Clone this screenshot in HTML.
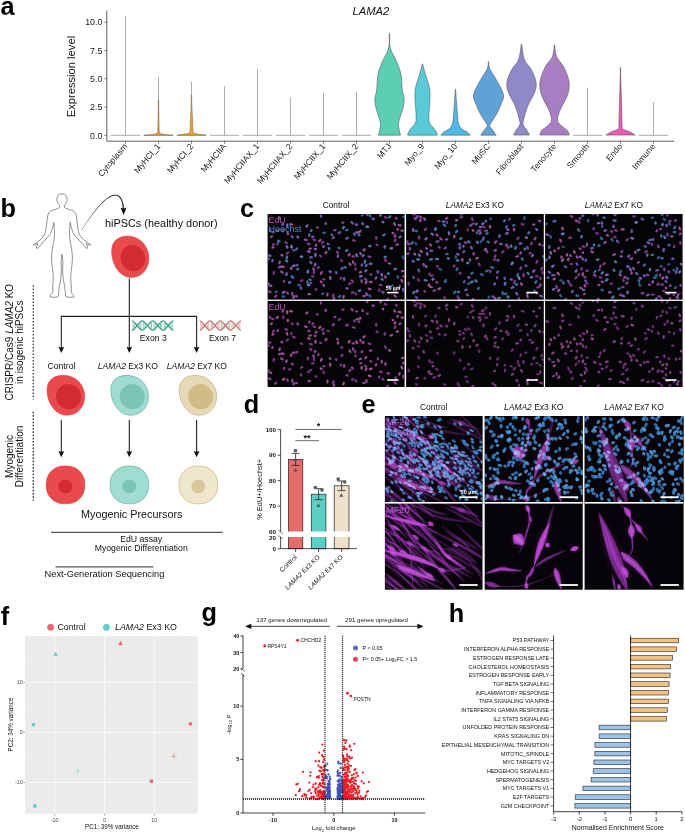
<!DOCTYPE html><html><head><meta charset="utf-8"><title>Figure</title>
<style>html,body{margin:0;padding:0;background:#fff;overflow:hidden}svg{display:block}text{font-family:"Liberation Sans", Arial, sans-serif}</style></head><body>
<svg width="685" height="833" viewBox="0 0 685 833">
<defs>
<filter id="b03" x="-5%" y="-5%" width="110%" height="110%"><feGaussianBlur stdDeviation="0.5"/></filter>
<filter id="b06" x="-5%" y="-5%" width="110%" height="110%"><feGaussianBlur stdDeviation="0.6"/></filter>
<filter id="b09" x="-5%" y="-5%" width="110%" height="110%"><feGaussianBlur stdDeviation="0.85"/></filter>
<filter id="b05" x="-5%" y="-5%" width="110%" height="110%"><feGaussianBlur stdDeviation="0.45"/></filter>
<filter id="b1" x="-5%" y="-5%" width="110%" height="110%"><feGaussianBlur stdDeviation="1"/></filter>
<filter id="b2" x="-5%" y="-5%" width="110%" height="110%"><feGaussianBlur stdDeviation="2.2"/></filter>
</defs>
<rect width="685" height="833" fill="#fff"/>
<text x="0.6" y="14.8" font-size="25.3" font-weight="bold" fill="#000">a</text>
<text x="0.6" y="216.6" font-size="25.3" font-weight="bold" fill="#000">b</text>
<text x="239.9" y="216.6" font-size="25.3" font-weight="bold" fill="#000">c</text>
<text x="243.8" y="413.1" font-size="25.3" font-weight="bold" fill="#000">d</text>
<text x="361.4" y="413.1" font-size="25.3" font-weight="bold" fill="#000">e</text>
<text x="0.7" y="624.8" font-size="25.3" font-weight="bold" fill="#000">f</text>
<text x="201.6" y="621.0" font-size="25.3" font-weight="bold" fill="#000">g</text>
<text x="448.7" y="622" font-size="25.3" font-weight="bold" fill="#000">h</text>
<g id="pa">
<path d="M106.8 10.5V141.2H674" fill="none" stroke="#333" stroke-width="0.8"/>
<path d="M104.3 135.4H106.8" stroke="#333" stroke-width="0.6"/>
<text x="102.3" y="138.5" font-size="8.8" text-anchor="end" fill="#222">0.0</text>
<path d="M104.3 107.1H106.8" stroke="#333" stroke-width="0.6"/>
<text x="102.3" y="110.2" font-size="8.8" text-anchor="end" fill="#222">2.5</text>
<path d="M104.3 78.8H106.8" stroke="#333" stroke-width="0.6"/>
<text x="102.3" y="81.9" font-size="8.8" text-anchor="end" fill="#222">5.0</text>
<path d="M104.3 50.5H106.8" stroke="#333" stroke-width="0.6"/>
<text x="102.3" y="53.6" font-size="8.8" text-anchor="end" fill="#222">7.5</text>
<path d="M104.3 22.2H106.8" stroke="#333" stroke-width="0.6"/>
<text x="102.3" y="25.3" font-size="8.8" text-anchor="end" fill="#222">10.0</text>
<text x="75.5" y="76.6" font-size="11.2" text-anchor="middle" fill="#111" transform="rotate(-90 75.5 76.6)">Expression level</text>
<text x="370.8" y="15.4" font-size="11.2" text-anchor="middle" font-style="italic" fill="#111">LAMA2</text>
<path d="M125.5 141.2V143.8" stroke="#333" stroke-width="0.6"/>
<text x="127.7" y="146.6" font-size="8.5" text-anchor="end" fill="#222" transform="rotate(-50 127.7 146.6)">Cytoplasm</text>
<path d="M158.5 141.2V143.8" stroke="#333" stroke-width="0.6"/>
<text x="160.7" y="146.6" font-size="8.5" text-anchor="end" fill="#222" transform="rotate(-50 160.7 146.6)">MyHCI_1</text>
<path d="M191.5 141.2V143.8" stroke="#333" stroke-width="0.6"/>
<text x="193.7" y="146.6" font-size="8.5" text-anchor="end" fill="#222" transform="rotate(-50 193.7 146.6)">MyHCI_2</text>
<path d="M224.5 141.2V143.8" stroke="#333" stroke-width="0.6"/>
<text x="226.7" y="146.6" font-size="8.5" text-anchor="end" fill="#222" transform="rotate(-50 226.7 146.6)">MyHCIIA</text>
<path d="M257.5 141.2V143.8" stroke="#333" stroke-width="0.6"/>
<text x="259.7" y="146.6" font-size="8.5" text-anchor="end" fill="#222" transform="rotate(-50 259.7 146.6)">MyHCIIAX_1</text>
<path d="M290.5 141.2V143.8" stroke="#333" stroke-width="0.6"/>
<text x="292.7" y="146.6" font-size="8.5" text-anchor="end" fill="#222" transform="rotate(-50 292.7 146.6)">MyHCIIAX_2</text>
<path d="M323.5 141.2V143.8" stroke="#333" stroke-width="0.6"/>
<text x="325.7" y="146.6" font-size="8.5" text-anchor="end" fill="#222" transform="rotate(-50 325.7 146.6)">MyHCIIX_1</text>
<path d="M356.5 141.2V143.8" stroke="#333" stroke-width="0.6"/>
<text x="358.7" y="146.6" font-size="8.5" text-anchor="end" fill="#222" transform="rotate(-50 358.7 146.6)">MyHCIIX_2</text>
<path d="M389.5 141.2V143.8" stroke="#333" stroke-width="0.6"/>
<text x="391.7" y="146.6" font-size="8.5" text-anchor="end" fill="#222" transform="rotate(-50 391.7 146.6)">MTJ</text>
<path d="M422.5 141.2V143.8" stroke="#333" stroke-width="0.6"/>
<text x="424.7" y="146.6" font-size="8.5" text-anchor="end" fill="#222" transform="rotate(-50 424.7 146.6)">Myo_9</text>
<path d="M455.5 141.2V143.8" stroke="#333" stroke-width="0.6"/>
<text x="457.7" y="146.6" font-size="8.5" text-anchor="end" fill="#222" transform="rotate(-50 457.7 146.6)">Myo_10</text>
<path d="M488.5 141.2V143.8" stroke="#333" stroke-width="0.6"/>
<text x="490.7" y="146.6" font-size="8.5" text-anchor="end" fill="#222" transform="rotate(-50 490.7 146.6)">MuSC</text>
<path d="M521.5 141.2V143.8" stroke="#333" stroke-width="0.6"/>
<text x="523.7" y="146.6" font-size="8.5" text-anchor="end" fill="#222" transform="rotate(-50 523.7 146.6)">Fibroblast</text>
<path d="M554.5 141.2V143.8" stroke="#333" stroke-width="0.6"/>
<text x="556.7" y="146.6" font-size="8.5" text-anchor="end" fill="#222" transform="rotate(-50 556.7 146.6)">Tenocyte</text>
<path d="M587.5 141.2V143.8" stroke="#333" stroke-width="0.6"/>
<text x="589.7" y="146.6" font-size="8.5" text-anchor="end" fill="#222" transform="rotate(-50 589.7 146.6)">Smooth</text>
<path d="M620.5 141.2V143.8" stroke="#333" stroke-width="0.6"/>
<text x="622.7" y="146.6" font-size="8.5" text-anchor="end" fill="#222" transform="rotate(-50 622.7 146.6)">Endo</text>
<path d="M653.5 141.2V143.8" stroke="#333" stroke-width="0.6"/>
<text x="655.7" y="146.6" font-size="8.5" text-anchor="end" fill="#222" transform="rotate(-50 655.7 146.6)">Immune</text>
<path d="M125.5 16.3V135.2M110.8 135.3H140.2" stroke="#8a8a8a" stroke-width="0.7" fill="none"/>
<path d="M224.5 86.2V135.2M209.8 135.3H239.2" stroke="#8a8a8a" stroke-width="0.7" fill="none"/>
<path d="M257.5 69V135.2M242.8 135.3H272.2" stroke="#8a8a8a" stroke-width="0.7" fill="none"/>
<path d="M290.5 97.2V135.2M275.8 135.3H305.2" stroke="#8a8a8a" stroke-width="0.7" fill="none"/>
<path d="M323.5 92.7V135.2M308.8 135.3H338.2" stroke="#8a8a8a" stroke-width="0.7" fill="none"/>
<path d="M356.5 91.9V135.2M341.8 135.3H371.2" stroke="#8a8a8a" stroke-width="0.7" fill="none"/>
<path d="M587.5 87.8V135.2M572.8 135.3H602.2" stroke="#8a8a8a" stroke-width="0.7" fill="none"/>
<path d="M653.5 102V135.2M638.8 135.3H668.2" stroke="#8a8a8a" stroke-width="0.7" fill="none"/>
<path d="M158.5 77.2V135.2M143.8 135.3H173.2" stroke="#8a8a8a" stroke-width="0.7" fill="none"/>
<path d="M191.5 81.7V135.2M176.8 135.3H206.2" stroke="#8a8a8a" stroke-width="0.7" fill="none"/>
<path d="M158.3 100.0C158.3 102.5 158.2 110.3 158.1 115.0C158.0 119.7 157.9 125.1 157.8 128.0C157.6 130.9 158.1 131.5 157.4 132.6C156.7 133.7 155.8 133.9 153.5 134.3C151.2 134.8 145.4 135.1 143.8 135.3L173.2 135.3C171.6 135.1 165.8 134.8 163.5 134.3C161.2 133.9 160.3 133.7 159.6 132.6C158.9 131.5 159.4 130.9 159.2 128.0C159.1 125.1 159.0 119.7 158.9 115.0C158.8 110.3 158.7 102.5 158.7 100.0Z" fill="#E8962A" stroke="#7a6a50" stroke-width="0.5" stroke-linejoin="round"/>
<path d="M191.3 95.0C191.3 97.5 191.1 105.5 190.9 110.0C190.7 114.5 190.5 118.7 190.3 122.0C190.2 125.3 190.2 128.2 190.0 130.0C189.8 131.8 190.0 132.3 188.9 133.0C187.8 133.7 185.5 133.8 183.5 134.2C181.5 134.6 177.9 135.1 176.8 135.3L206.2 135.3C205.1 135.1 201.5 134.6 199.5 134.2C197.5 133.8 195.2 133.7 194.1 133.0C193.0 132.3 193.2 131.8 193.0 130.0C192.8 128.2 192.8 125.3 192.7 122.0C192.5 118.7 192.3 114.5 192.1 110.0C191.9 105.5 191.7 97.5 191.7 95.0Z" fill="#E8A21E" stroke="#7a6a50" stroke-width="0.5" stroke-linejoin="round"/>
<path d="M389.3 33.5C389.2 35.9 389.7 43.6 388.7 48.0C387.7 52.4 385.0 55.4 383.2 59.7C381.4 64.0 379.2 68.7 378.1 73.7C377.0 78.8 377.2 85.7 376.7 90.0C376.1 94.3 374.9 96.3 374.8 99.4C374.7 102.5 375.3 104.9 376.2 108.8C377.1 112.7 379.8 119.3 380.4 122.8C381.0 126.3 380.0 127.7 379.7 129.8C379.4 131.9 378.7 134.3 378.5 135.2L400.5 135.2C400.3 134.3 399.6 131.9 399.3 129.8C399.0 127.7 398.0 126.3 398.6 122.8C399.2 119.3 401.9 112.7 402.8 108.8C403.7 104.9 404.3 102.5 404.2 99.4C404.1 96.3 402.9 94.3 402.3 90.0C401.8 85.7 402.0 78.8 400.9 73.7C399.8 68.7 397.6 64.0 395.8 59.7C394.0 55.4 391.3 52.4 390.3 48.0C389.3 43.6 389.8 35.9 389.7 33.5Z" fill="#5CCFB3" stroke="#444" stroke-width="0.5" stroke-linejoin="round"/>
<path d="M422.3 63.9C421.9 65.5 420.8 69.7 419.7 73.7C418.6 77.7 416.3 83.5 415.5 87.8C414.7 92.1 414.9 95.1 415.0 99.4C415.1 103.7 415.9 109.6 416.0 113.5C416.1 117.4 416.4 120.3 415.5 122.8C414.6 125.3 412.1 126.8 410.8 128.6C409.6 130.3 408.5 132.2 408.0 133.3C407.5 134.4 407.8 134.9 407.8 135.2L437.2 135.2C437.2 134.9 437.5 134.4 437.0 133.3C436.5 132.2 435.4 130.3 434.2 128.6C432.9 126.8 430.4 125.3 429.5 122.8C428.6 120.3 428.9 117.4 429.0 113.5C429.1 109.6 429.9 103.7 430.0 99.4C430.1 95.1 430.3 92.1 429.5 87.8C428.7 83.5 426.4 77.7 425.3 73.7C424.2 69.7 423.1 65.5 422.7 63.9Z" fill="#58CAD8" stroke="#444" stroke-width="0.5" stroke-linejoin="round"/>
<path d="M455.3 89.2C455.2 91.3 454.8 97.8 454.5 101.8C454.2 105.8 453.9 110.0 453.6 113.5C453.3 117.0 453.4 120.3 452.7 122.8C452.0 125.3 451.2 127.0 449.7 128.6C448.2 130.2 445.3 131.0 443.8 132.1C442.3 133.2 441.3 134.7 440.8 135.2L470.2 135.2C469.7 134.7 468.7 133.2 467.2 132.1C465.7 131.0 462.8 130.2 461.3 128.6C459.8 127.0 459.0 125.3 458.3 122.8C457.6 120.3 457.7 117.0 457.4 113.5C457.1 110.0 456.8 105.8 456.5 101.8C456.2 97.8 455.8 91.3 455.7 89.2Z" fill="#4FB9EA" stroke="#444" stroke-width="0.5" stroke-linejoin="round"/>
<path d="M488.3 61.6C488.1 62.8 488.5 65.8 487.1 69.0C485.7 72.2 482.4 76.4 480.1 80.7C477.8 85.0 474.2 90.9 473.5 94.8C472.8 98.7 474.8 100.9 475.9 104.0C477.0 107.1 478.4 110.4 480.1 113.5C481.8 116.6 484.7 120.7 485.9 122.8C487.1 124.9 487.5 124.9 487.1 126.3C486.7 127.7 484.7 129.5 483.6 131.0C482.6 132.5 481.3 134.5 480.8 135.2L496.2 135.2C495.7 134.5 494.4 132.5 493.4 131.0C492.3 129.5 490.3 127.7 489.9 126.3C489.5 124.9 489.9 124.9 491.1 122.8C492.3 120.7 495.2 116.6 496.9 113.5C498.6 110.4 500.0 107.1 501.1 104.0C502.2 100.9 504.2 98.7 503.5 94.8C502.8 90.9 499.2 85.0 496.9 80.7C494.6 76.4 491.3 72.2 489.9 69.0C488.5 65.8 488.9 62.8 488.7 61.6Z" fill="#5FA3D6" stroke="#444" stroke-width="0.5" stroke-linejoin="round"/>
<path d="M521.3 44.2C520.8 46.7 520.2 55.1 518.6 59.4C517.0 63.7 513.5 66.0 511.5 69.9C509.5 73.8 507.2 79.0 506.8 83.0C506.4 87.0 507.4 89.6 508.9 93.6C510.3 97.5 513.8 102.3 515.5 106.7C517.2 111.1 518.7 116.8 519.4 119.8C520.1 122.8 520.3 123.2 519.7 125.0C519.1 126.8 517.0 128.6 516.0 130.3C515.0 132.0 514.0 134.3 513.6 135.1L529.4 135.1C529.0 134.3 528.0 132.0 527.0 130.3C526.0 128.6 523.9 126.8 523.3 125.0C522.7 123.2 522.9 122.8 523.6 119.8C524.3 116.8 525.8 111.1 527.5 106.7C529.2 102.3 532.6 97.5 534.1 93.6C535.6 89.6 536.6 87.0 536.2 83.0C535.8 79.0 533.5 73.8 531.5 69.9C529.5 66.0 526.0 63.7 524.4 59.4C522.8 55.1 522.2 46.7 521.7 44.2Z" fill="#8F89C9" stroke="#444" stroke-width="0.5" stroke-linejoin="round"/>
<path d="M554.3 45.0C554.0 47.0 553.9 53.1 552.4 56.8C550.9 60.5 547.1 62.9 545.0 67.3C542.9 71.7 540.3 78.2 539.8 83.0C539.3 87.8 540.4 91.8 541.9 96.2C543.4 100.6 546.9 105.4 548.5 109.3C550.1 113.2 551.6 117.2 551.6 119.8C551.6 122.4 550.1 123.2 548.5 125.0C546.9 126.8 543.4 128.6 541.9 130.3C540.4 132.0 540.1 134.3 539.8 135.1L569.2 135.1C568.9 134.3 568.6 132.0 567.1 130.3C565.6 128.6 562.1 126.8 560.5 125.0C558.9 123.2 557.4 122.4 557.4 119.8C557.4 117.2 558.9 113.2 560.5 109.3C562.1 105.4 565.6 100.6 567.1 96.2C568.6 91.8 569.7 87.8 569.2 83.0C568.7 78.2 566.1 71.7 564.0 67.3C561.9 62.9 558.1 60.5 556.6 56.8C555.1 53.1 555.0 47.0 554.7 45.0Z" fill="#A97DC1" stroke="#444" stroke-width="0.5" stroke-linejoin="round"/>
<path d="M620.4 67.3C620.3 70.4 620.2 79.1 620.0 85.7C619.8 92.3 619.5 100.2 619.3 106.7C619.1 113.2 619.1 121.3 618.9 125.0C618.7 128.7 619.2 127.9 618.0 129.0C616.8 130.1 613.5 130.7 611.5 131.7C609.5 132.7 606.8 134.5 605.8 135.1L635.2 135.1C634.2 134.5 631.5 132.7 629.5 131.7C627.5 130.7 624.2 130.1 623.0 129.0C621.8 127.9 622.3 128.7 622.1 125.0C621.9 121.3 621.9 113.2 621.7 106.7C621.5 100.2 621.2 92.3 621.0 85.7C620.8 79.1 620.7 70.4 620.6 67.3Z" fill="#E95DB5" stroke="#444" stroke-width="0.5" stroke-linejoin="round"/>
</g>
<g id="pb">
<path d="M62 192.8c-2.9 0-4.6 2.3-4.6 5.3 0 2.6 1 4.6 2.3 5.6v2.6c-1.2 1.4-4.2 2-6.6 2.8-2.6 1-3.6 3.2-4 6.4l-1.600 13.500c-0.600 4-2.400 7.200-6 10.400-1.600 1.300-3.600 2.400-5.200 3.800 1.600 0.300 3-0.400 4.200-1.200-0.600 1.500-1.400 3-1.300 4.600 1.500 0.400 2.300-1.200 3-2.300 2.600-3.800 6.600-7.400 9.400-12 1.600-3 2.300-7.600 3.100-11.200 0.400 5.600 1 10.300 0.400 15.400-0.900 7.300-2.600 13.600-2.400 21.200 0.200 6.500 1.600 12.600 1.500 18.800-0.100 4.400-0.800 8.300-0.400 12.600 0.200 2.100-2.600 3.600-2.600 5.600 2.600 0.600 6.600 0.500 7.600-0.600 0.500-2.600 0.100-5.600 0.600-8.400 0.900-5.800 2.100-10.600 2-16.600-0.100-5.300-0.500-11.400 0.600-16.600 1.100 5.200 0.700 11.300 0.600 16.600-0.100 6 1.100 10.800 2 16.600 0.500 2.800 0.100 5.800 0.600 8.400 1 1.100 5 1.200 7.600 0.600 0-2-2.800-3.500-2.600-5.600 0.400-4.300-0.300-8.200-0.400-12.600-0.100-6.200 1.300-12.300 1.500-18.800 0.200-7.600-1.500-13.900-2.400-21.200-0.600-5.100 0-9.800 0.400-15.400 0.800 3.600 1.500 8.200 3.100 11.200 2.800 4.600 6.800 8.200 9.400 12 0.700 1.100 1.500 2.700 3 2.300 0.100-1.600-0.700-3.100-1.300-4.600 1.200 0.800 2.600 1.500 4.200 1.200-1.600-1.400-3.600-2.500-5.200-3.800-3.600-3.200-5.400-6.400-6-10.400l-1.600-13.500c-0.400-3.200-1.400-5.400-4-6.400-2.400-0.800-5.400-1.400-6.600-2.800v-2.600c1.300-1 2.300-3 2.300-5.600 0-3-1.700-5.300-4.600-5.300z" fill="#fff" stroke="#444" stroke-width="0.55" stroke-linejoin="round" transform="translate(62 193.200) scale(1.120 1.012) translate(-62 -192.200)"/>
<path d="M81.8 230.0L84.4 226.0L87.1 222.1L89.8 218.2L92.5 214.5L95.3 210.9L98.1 207.6L100.8 204.6L103.5 201.9L106.2 199.6L108.7 197.8L111.2 196.4L113.6 195.7L115.9 195.5L117.8 196.1L119.3 197.2L120.5 198.9L121.5 201.0L122.2 203.6L122.6 206.5L122.8 209.5L124.0 209.5L123.7 206.3L123.2 203.4L122.4 200.7L121.3 198.4L119.9 196.6L118.1 195.3L116.0 194.7L113.4 194.9L110.9 195.8L108.4 197.3L105.8 199.2L103.1 201.5L100.5 204.3L97.7 207.3L95.0 210.7L92.3 214.3L89.6 218.1L86.9 222.0L84.2 226.0L81.6 230.0Z" fill="#111" stroke="#111" stroke-width="0.1"/>
<path d="M120.500 207.800L123.700 215L126.500 207.600Q123.500 209.200 120.500 207.800Z" fill="#111"/>
<text x="105" y="227.3" font-size="10.9" fill="#111">hiPSCs (healthy donor)</text>
<path d="M111.9 248.0C113.5 237.8 123.8 234.4 133.2 236.9C143.5 239.5 149.8 249.7 148.7 260.8C147.5 271.8 138.8 278.6 129.3 277.3C118.2 276.1 110.3 261.6 111.9 248.0Z" fill="#E84A4E" stroke="#E03A3E" stroke-width="0.6"/>
<ellipse cx="132.9" cy="258.2" rx="12.2" ry="13.2" fill="#D22C30" transform="rotate(-20 132.9 258.2)"/>
<path d="M129.300 278.500V348M61.300 348V316.400H196.600V348" fill="none" stroke="#222" stroke-width="1.100"/>
<path d="M58.4 346.8L61.3 353L64.2 346.8Q61.3 348.0 58.4 346.8Z" fill="#111"/>
<path d="M126.4 346.8L129.3 353L132.20000000000002 346.8Q129.3 348.0 126.4 346.8Z" fill="#111"/>
<path d="M193.7 346.8L196.6 353L199.5 346.8Q196.6 348.0 193.7 346.8Z" fill="#111"/>
<path d="M132.0 320.8C135.1 320.8 139.2 330.2 142.3 330.2M142.3 330.2C145.5 330.2 149.6 320.8 152.7 320.8M152.7 320.8C155.8 320.8 159.9 330.2 163.0 330.2M163.1 330.2C166.2 330.2 170.3 320.8 173.4 320.8" fill="none" stroke="#3A9C86" stroke-width="1.25"/>
<path d="M132.0 330.2C135.1 330.2 139.2 320.8 142.3 320.8M142.3 320.8C145.5 320.8 149.6 330.2 152.7 330.2M152.7 330.2C155.8 330.2 159.9 320.8 163.0 320.8M163.1 320.8C166.2 320.8 170.3 330.2 173.4 330.2" fill="none" stroke="#3A9C86" stroke-width="1.25"/>
<path d="M133.2 321.3V329.7M134.6 322.3V328.7M139.8 322.3V328.7M141.1 321.3V329.7M143.6 321.3V329.7M144.9 322.3V328.7M150.1 322.3V328.7M151.5 321.3V329.7M153.9 321.3V329.7M155.3 322.3V328.7M160.5 322.3V328.7M161.8 321.3V329.7M164.3 321.3V329.7M165.6 322.3V328.7M170.8 322.3V328.7M172.2 321.3V329.7" fill="none" stroke="#5DB8A2" stroke-width="0.7"/>
<path d="M199.6 320.8C202.7 320.8 206.8 330.2 209.9 330.2M209.9 330.2C213.1 330.2 217.2 320.8 220.3 320.8M220.3 320.8C223.4 320.8 227.5 330.2 230.6 330.2M230.6 330.2C233.8 330.2 237.9 320.8 241.0 320.8" fill="none" stroke="#B87870" stroke-width="1.25"/>
<path d="M199.6 330.2C202.7 330.2 206.8 320.8 209.9 320.8M209.9 320.8C213.1 320.8 217.2 330.2 220.3 330.2M220.3 330.2C223.4 330.2 227.5 320.8 230.6 320.8M230.6 320.8C233.8 320.8 237.9 330.2 241.0 330.2" fill="none" stroke="#B87870" stroke-width="1.25"/>
<path d="M200.8 321.3V329.7M202.2 322.3V328.7M207.4 322.3V328.7M208.7 321.3V329.7M211.2 321.3V329.7M212.5 322.3V328.7M217.7 322.3V328.7M219.1 321.3V329.7M221.5 321.3V329.7M222.9 322.3V328.7M228.1 322.3V328.7M229.4 321.3V329.7M231.9 321.3V329.7M233.2 322.3V328.7M238.4 322.3V328.7M239.8 321.3V329.7" fill="none" stroke="#CF9A92" stroke-width="0.7"/>
<text x="153.3" y="341.4" font-size="8.7" text-anchor="middle" fill="#111">Exon 3</text>
<text x="222.6" y="341.4" font-size="8.7" text-anchor="middle" fill="#111">Exon 7</text>
<text x="47.4" y="368.6" font-size="8.7" fill="#111">Control</text>
<text x="97.8" y="368.6" font-size="8.6" fill="#111"><tspan font-style="italic">LAMA2</tspan> Ex3 KO</text>
<text x="166.8" y="368.6" font-size="8.6" fill="#111"><tspan font-style="italic">LAMA2</tspan> Ex7 KO</text>
<path d="M47.3 386.8C48.9 377.0 59.3 373.7 68.9 376.1C79.3 378.6 85.7 388.4 84.5 399.1C83.3 409.8 74.5 416.3 64.9 415.1C53.7 413.9 45.7 399.9 47.3 386.8Z" fill="#E84A4E" stroke="#E03A3E" stroke-width="0.6"/>
<ellipse cx="68.5" cy="396.6" rx="12.4" ry="12.7" fill="#D22C30" transform="rotate(-20 68.5 396.6)"/>
<path d="M111.1 386.8C112.7 377.0 123.1 373.7 132.7 376.1C143.1 378.6 149.5 388.4 148.3 399.1C147.1 409.8 138.3 416.3 128.7 415.1C117.5 413.9 109.5 399.9 111.1 386.8Z" fill="#A0DDD0" stroke="#4FA897" stroke-width="0.6"/>
<ellipse cx="132.3" cy="396.6" rx="12.4" ry="12.7" fill="#79C4B4" transform="rotate(-20 132.3 396.6)"/>
<path d="M179.4 386.8C181.0 377.0 191.4 373.7 201.0 376.1C211.4 378.6 217.8 388.4 216.6 399.1C215.4 409.8 206.6 416.3 197.0 415.1C185.8 413.9 177.8 399.9 179.4 386.8Z" fill="#E6D9B8" stroke="#BFA877" stroke-width="0.6"/>
<ellipse cx="200.6" cy="396.6" rx="12.4" ry="12.7" fill="#D2BC86" transform="rotate(-20 200.6 396.6)"/>
<path d="M61.300 420V452M129.300 420V452M196.600 420V452" fill="none" stroke="#222" stroke-width="1.100"/>
<path d="M58.4 451.1L61.3 457.3L64.2 451.1Q61.3 452.3 58.4 451.1Z" fill="#111"/>
<path d="M126.4 451.1L129.3 457.3L132.20000000000002 451.1Q129.3 452.3 126.4 451.1Z" fill="#111"/>
<path d="M193.7 451.1L196.6 457.3L199.5 451.1Q196.6 452.3 193.7 451.1Z" fill="#111"/>
<rect x="46.2" y="466.0" width="38.5" height="37.8" rx="17.7" ry="17.4" fill="#E84A4E" stroke="#E03A3E" stroke-width="0.6"/>
<circle cx="65.4" cy="486.4" r="6.9" fill="#D22C30"/>
<rect x="110.1" y="466.0" width="38.5" height="37.8" rx="17.7" ry="17.4" fill="#A0DDD0" stroke="#4FA897" stroke-width="0.6"/>
<circle cx="129.3" cy="486.4" r="6.9" fill="#79C4B4"/>
<rect x="179.1" y="466.0" width="38.5" height="37.8" rx="17.7" ry="17.4" fill="#EFE6CE" stroke="#C9A86A" stroke-width="0.6"/>
<circle cx="198.3" cy="486.4" r="6.9" fill="#D9C798"/>
<path d="M33.300 285.200V399.500M33.300 411.800V500.800" fill="none" stroke="#444" stroke-width="1.400" stroke-dasharray="1.600 1.650"/>
<text transform="translate(12.500 342.200) rotate(-90)" font-size="10" text-anchor="middle" fill="#111">CRISPR/Cas9 <tspan font-style="italic">LAMA2</tspan> KO</text>
<text transform="translate(22.600 342.200) rotate(-90)" font-size="10" text-anchor="middle" fill="#111">in isogenic hiPSCs</text>
<text transform="translate(12.600 456.500) rotate(-90)" font-size="10" text-anchor="middle" fill="#111">Myogenic</text>
<text transform="translate(22.800 456.500) rotate(-90)" font-size="10" text-anchor="middle" fill="#111">Differentiation</text>
<text x="131.7" y="517.5" font-size="10.8" text-anchor="middle" fill="#111">Myogenic Precursors</text>
<path d="M51 532.300H222.600M55.500 566.900H153.300" fill="none" stroke="#111" stroke-width="0.9"/>
<text x="141.2" y="541.8" font-size="8.7" text-anchor="middle" fill="#111">EdU assay</text>
<text x="141.2" y="550.9" font-size="8.7" text-anchor="middle" fill="#111">Myogenic Differentiation</text>
<text x="44.5" y="577.2" font-size="9.3" fill="#111">Next-Generation Sequencing</text>
</g>
<g id="pc">
<text x="336.1" y="207.5" font-size="8.3" text-anchor="middle" fill="#111">Control</text>
<clipPath id="cc0"><rect x="267.6" y="214" width="137.0" height="173"/></clipPath>
<rect x="267.6" y="214" width="137.0" height="173" fill="#050507"/>
<g clip-path="url(#cc0)" filter="url(#b06)">
<g id="cm0">
<path d="M281.0 271.6l1.7 0.9M382.6 221.8l0.7 0.6M310.0 294.2l-1.5 0.0M392.5 233.1l0.9 0.3M362.5 223.2l0.5 1.1M269.1 291.4l1.4 0.8M271.9 236.5l-1.0 0.5M269.9 285.7l1.4 0.2M333.8 237.3l-1.1 1.0M376.3 277.4l-0.7 1.1M314.7 248.8l1.1 0.3M286.8 273.5l-0.6 1.4M334.2 297.8l-0.5 1.1M352.9 261.4l0.1 1.2M344.1 278.2l0.1 1.6M313.4 268.4l0.2 1.5M272.5 260.1l-0.2 1.0M381.5 274.1l0.5 1.4M329.7 271.5l0.9 0.3M293.7 295.9l-0.2 1.9M294.4 265.5l-1.3 0.5M399.8 286.0l-0.7 1.7M366.3 293.3l0.4 1.8M366.3 270.2l-1.0 1.0M297.5 236.6l0.6 0.9M309.2 234.6l0.2 0.9M387.5 286.3l1.6 0.3M279.9 261.5l-0.6 1.8M351.6 222.2l1.0 1.2M323.5 246.0l-0.0 1.0M364.6 296.1l-1.3 0.0M394.6 295.3l1.1 1.4M372.6 218.6l1.1 0.4M360.3 253.2l0.4 0.9M304.9 239.6l1.8 0.4M327.5 293.7l-0.2 1.8M400.6 236.7l-1.1 0.5M371.5 263.6l-1.6 0.2M280.6 266.8l-1.5 0.5M278.0 230.0l-1.3 1.2M337.2 251.9l0.7 0.8M385.3 276.2l0.3 1.7M325.7 222.9l-0.0 1.1M316.3 244.7l-0.4 1.2M315.5 264.0l-0.8 1.3M388.8 263.3l1.4 0.4" stroke="#C45AC8" stroke-width="2.2" stroke-linecap="round" fill="none" opacity="0.78"/>
<path d="M283.1 224.0l-0.8 0.9M355.8 224.6l1.3 0.0M370.4 274.3l0.9 0.4M293.2 250.1l1.4 0.4M327.6 243.9l0.9 0.2M284.0 280.9l0.1 1.1M353.1 240.4l1.6 0.4M350.4 283.1l-1.1 0.8M320.8 215.7l0.3 1.0M384.9 246.1l-0.4 1.6M346.6 288.2l0.9 0.4M342.3 222.7l1.2 0.0M313.3 276.4l-1.2 0.1M335.5 229.9l-1.1 0.6M310.3 283.1l1.1 0.0M292.2 292.8l-0.2 1.6M352.5 256.4l1.7 0.1M269.8 229.8l0.9 1.5M333.6 294.5l-0.6 1.8M336.0 272.2l0.5 0.8M296.0 296.2l1.0 0.1M396.0 217.8l0.6 1.0M395.9 290.5l-0.3 0.9M387.9 298.8l-0.9 1.4M313.3 236.6l-1.0 0.3M287.0 292.4l0.9 1.2M366.7 214.3l0.9 0.9M355.7 268.6l-0.3 0.9M353.5 292.4l-1.5 0.3M308.0 243.9l1.6 0.3M395.3 239.7l-0.5 1.3M362.2 264.4l-0.6 1.1M351.7 280.4l1.1 1.4M347.7 237.8l-1.5 0.8" stroke="#B04CBC" stroke-width="2.2" stroke-linecap="round" fill="none" opacity="0.78"/>
<path d="M343.8 296.1l-0.5 1.5M338.1 255.7l-0.3 1.0M326.4 252.0l-0.8 1.2M330.1 277.0l0.3 1.7M282.0 266.6l1.7 0.3M284.2 291.8l-1.4 1.1M315.5 253.9l0.0 1.9M395.2 235.4l-0.4 1.4M349.7 254.0l-1.0 1.5M320.4 239.9l-1.2 1.3M371.6 281.7l-1.7 0.5M360.4 230.7l-0.6 1.1M291.4 267.7l-0.4 1.1M404.5 276.3l-1.2 0.0M364.7 249.3l-1.1 1.1M266.9 282.9l1.6 0.9M368.8 288.7l1.7 0.5M392.0 248.1l-1.3 0.5M363.5 255.2l-0.8 0.8M273.3 247.1l-0.9 0.6M398.7 225.0l1.8 0.3M287.1 224.5l0.2 1.7M380.9 214.2l-0.5 1.3M308.0 251.3l1.6 0.6M394.2 223.4l0.8 1.2M307.3 225.5l-0.9 1.0M290.2 224.2l1.7 0.3M320.7 281.4l0.9 0.8M360.9 271.9l-1.1 0.5M403.4 271.0l-1.4 0.2M310.7 248.5l-1.1 0.3M361.6 280.3l0.0 1.5M281.5 254.9l0.7 0.6M321.7 272.1l-0.8 1.7M397.6 229.0l0.2 0.9M397.9 244.5l-1.3 0.2M349.5 263.7l0.9 1.2M401.6 230.6l1.2 0.1M286.8 246.2l0.6 1.5M356.3 254.4l0.8 1.7M357.9 232.1l-1.3 0.3M287.8 232.9l0.1 1.3M366.5 281.5l-0.7 1.7M401.4 279.9l0.9 1.6" stroke="#D468C0" stroke-width="2.2" stroke-linecap="round" fill="none" opacity="0.78"/>
<path d="M288.2 252.4l-1.2 1.1M323.5 284.8l0.4 1.3M382.3 291.8l1.0 0.9M314.1 271.4l-0.2 1.8M379.4 289.7l-0.5 1.0M340.1 232.1l-1.3 0.9M283.3 229.7l-0.1 1.6M290.1 282.2l-0.9 0.4M272.4 232.0l1.1 0.3M379.9 284.7l1.8 0.5M291.4 246.2l0.2 1.1M308.0 270.7l-0.3 1.7M291.8 236.4l0.9 0.8M316.9 227.3l1.0 0.4M300.9 256.6l1.1 0.3M376.2 237.0l0.1 1.8M341.2 277.8l-0.6 0.8M342.6 267.9l-1.2 1.1M355.6 293.6l0.7 0.8M354.2 233.5l0.6 1.1M366.6 226.7l1.3 0.1M368.5 256.6l1.9 0.3M313.5 239.4l1.5 0.9M315.5 289.4l0.9 0.2M268.9 255.4l1.5 0.5M384.8 217.1l1.4 0.5M307.9 284.8l1.3 0.3M323.3 279.2l1.1 0.3M365.1 278.7l1.1 1.0M291.9 276.4l1.0 1.2M318.7 267.0l-0.6 1.1M276.4 295.7l-1.3 1.1M273.9 272.1l-0.3 1.6M302.4 280.2l-1.3 0.7M361.5 276.1l-1.2 0.3M285.4 242.2l1.6 0.7M385.1 259.6l0.8 1.6M310.2 261.8l1.2 1.4M323.4 242.1l-1.4 0.7M403.0 288.9l0.4 1.8M320.1 255.7l0.9 0.6M274.0 243.9l-1.1 0.9M268.8 258.7l-0.8 0.6M355.0 263.7l0.1 1.5M277.9 242.9l-0.5 1.5M310.1 257.3l1.8 0.1M341.1 260.3l1.0 0.8M358.6 234.3l0.8 0.9M376.5 244.7l1.0 0.4M377.6 271.1l0.4 1.4M297.5 264.9l-1.3 0.7M300.8 287.4l0.4 1.2" stroke="#A446B4" stroke-width="2.2" stroke-linecap="round" fill="none" opacity="0.78"/>
</g>
<path d="M279.5 217.5l0.2 0.9M300.9 256.6l1.1 0.3M369.8 215.1l0.3 1.2M338.7 247.8l0.8 0.6M361.5 276.1l-1.2 0.3M307.3 281.5l0.4 1.1M344.6 267.1l0.9 0.4M403.5 216.7l1.3 0.5M384.8 234.4l-1.6 0.9M296.9 248.4l-0.6 0.9" stroke="#4A8FD0" stroke-width="2.3" stroke-linecap="round" fill="none" opacity="0.78"/>
<path d="M290.1 282.2l-0.9 0.4M308.0 270.7l-0.3 1.7M340.2 295.9l-1.2 1.1M331.6 234.3l0.6 0.8M291.9 276.4l1.0 1.2M277.9 240.7l1.6 0.6M347.5 229.9l-1.5 0.2" stroke="#3F86C8" stroke-width="2.3" stroke-linecap="round" fill="none" opacity="0.78"/>
<path d="M309.6 279.4l0.9 0.6M298.0 268.8l-0.6 0.7M390.3 216.3l-1.4 1.2M343.9 227.0l-0.9 1.3M291.4 246.2l0.2 1.1M388.9 273.5l-1.1 0.2M370.5 246.0l-1.3 0.1M381.6 278.9l1.0 0.9M366.6 226.7l1.3 0.1M287.1 256.7l-0.3 1.7M307.9 284.8l1.3 0.3M329.0 248.1l0.3 1.1M286.2 260.7l1.0 0.7M395.8 268.9l-1.0 0.3M347.4 250.2l-1.5 0.6M365.0 261.0l-0.1 1.7M366.6 264.9l-0.7 1.0M360.3 290.4l-1.4 0.6M384.6 256.9l1.1 0.2M311.6 230.2l-0.5 0.8" stroke="#5A9AD8" stroke-width="2.3" stroke-linecap="round" fill="none" opacity="0.78"/>
<path d="M397.4 276.2l0.7 1.7M402.7 256.5l0.6 1.8M282.5 296.5l1.7 0.2M268.9 255.4l1.5 0.5M276.8 291.6l-0.9 0.5M369.3 295.2l1.0 1.3M392.6 285.5l-1.4 0.5M325.0 232.6l-1.7 0.3M299.9 284.8l-1.5 0.2M323.2 293.7l-1.0 0.2M362.7 214.9l-0.9 0.7M358.6 234.3l0.8 0.9" stroke="#3570B0" stroke-width="2.3" stroke-linecap="round" fill="none" opacity="0.78"/>
<path d="M283.1 224.0l-0.8 0.9M323.5 284.8l0.4 1.3M355.8 224.6l1.3 0.0M382.3 291.8l1.0 0.9M338.1 255.7l-0.3 1.0M340.1 232.1l-1.3 0.9M272.4 232.0l1.1 0.3M382.6 221.8l0.7 0.6M330.1 277.0l0.3 1.7M284.2 291.8l-1.4 1.1M315.5 253.9l0.0 1.9M362.5 223.2l0.5 1.1M327.6 243.9l0.9 0.2M291.8 236.4l0.9 0.8M269.9 285.7l1.4 0.2M376.3 277.4l-0.7 1.1M320.8 215.7l0.3 1.0M384.9 246.1l-0.4 1.6M314.7 248.8l1.1 0.3M342.6 267.9l-1.2 1.1M286.8 273.5l-0.6 1.4M354.2 233.5l0.6 1.1M346.6 288.2l0.9 0.4M344.1 278.2l0.1 1.6M272.5 260.1l-0.2 1.0M381.5 274.1l0.5 1.4M266.9 282.9l1.6 0.9M392.0 248.1l-1.3 0.5M329.7 271.5l0.9 0.3M363.5 255.2l-0.8 0.8M293.7 295.9l-0.2 1.9M294.4 265.5l-1.3 0.5M366.3 293.3l0.4 1.8M366.3 270.2l-1.0 1.0M297.5 236.6l0.6 0.9M287.1 224.5l0.2 1.7M309.2 234.6l0.2 0.9M387.5 286.3l1.6 0.3M365.1 278.7l1.1 1.0M336.0 272.2l0.5 0.8M380.9 214.2l-0.5 1.3M308.0 251.3l1.6 0.6M394.2 223.4l0.8 1.2M351.6 222.2l1.0 1.2M307.3 225.5l-0.9 1.0M323.5 246.0l-0.0 1.0M313.3 236.6l-1.0 0.3M372.6 218.6l1.1 0.4M360.3 253.2l0.4 0.9M310.2 261.8l1.2 1.4M403.0 288.9l0.4 1.8M400.6 236.7l-1.1 0.5M371.5 263.6l-1.6 0.2M280.6 266.8l-1.5 0.5M268.8 258.7l-0.8 0.6M286.8 246.2l0.6 1.5M310.1 257.3l1.8 0.1M362.2 264.4l-0.6 1.1M356.3 254.4l0.8 1.7M357.9 232.1l-1.3 0.3M377.6 271.1l0.4 1.4M315.5 264.0l-0.8 1.3M347.7 237.8l-1.5 0.8M297.5 264.9l-1.3 0.7M300.8 287.4l0.4 1.2" stroke="#4A78D8" stroke-width="2.2" stroke-linecap="round" fill="none" opacity="0.45"/>
<use href="#cm0" y="86.900" opacity="1"/>
</g>
<rect x="266.6" y="299.600" width="139.0" height="1.300" fill="#fff"/>
<rect x="387.2" y="291.8" width="11.300" height="1.600" fill="#fff"/>
<rect x="387.2" y="379.2" width="11.300" height="1.600" fill="#fff"/>
<text x="474.9" y="207.5" font-size="8.3" text-anchor="middle" fill="#111"><tspan font-style="italic">LAMA2</tspan> Ex3 KO</text>
<clipPath id="cc1"><rect x="406.1" y="214" width="137.7" height="173"/></clipPath>
<rect x="406.1" y="214" width="137.7" height="173" fill="#050507"/>
<g clip-path="url(#cc1)" filter="url(#b06)">
<g id="cm1">
<path d="M469.8 259.4l0.4 0.8M539.0 220.7l1.1 0.6M500.4 243.9l1.2 0.2M535.6 237.9l-1.0 1.5M412.8 261.0l0.7 0.6M534.5 270.5l-1.4 1.2M508.6 246.6l-0.5 1.3M483.7 237.7l-0.4 1.7M423.5 264.1l0.5 1.7M479.7 227.0l1.1 0.1M483.6 223.2l-1.5 0.9M447.3 217.8l-1.4 1.1M513.9 228.9l0.1 1.5M495.0 298.0l0.6 1.0M473.3 298.9l-1.2 1.1M478.6 230.4l1.5 0.3M521.2 252.4l-0.8 1.1M513.2 287.0l-1.4 0.9M540.1 284.6l0.5 1.0M507.1 228.9l1.3 1.2M480.7 233.0l-0.9 0.6M414.6 217.9l1.1 1.3M431.6 233.7l1.3 0.9M498.5 260.2l-0.9 0.4M457.3 253.9l1.0 0.6M419.9 216.6l1.5 0.8M446.1 239.3l1.1 0.1M429.9 244.3l1.0 1.1M420.6 219.7l-0.6 1.4M495.9 250.2l-1.3 0.3M518.0 256.2l-1.7 0.5M440.2 238.3l1.3 1.2M496.2 241.4l-1.2 1.2M409.7 248.1l0.3 1.3M494.9 283.7l-0.6 0.7M516.4 292.9l0.9 1.4" stroke="#C45AC8" stroke-width="2.2" stroke-linecap="round" fill="none" opacity="0.78"/>
<path d="M487.0 230.6l-1.8 0.2M498.0 271.4l-0.7 1.1M495.6 259.5l-1.6 0.1M438.8 246.9l0.8 0.8M413.0 213.9l1.7 0.7M497.0 277.2l0.2 1.2M445.8 247.5l-1.0 1.0M523.6 274.2l-0.1 1.9M471.9 218.3l0.8 1.6M406.6 241.3l1.0 0.5M466.6 289.7l-1.1 0.4M435.1 290.2l-1.6 0.7M436.2 282.0l1.2 0.7M490.4 270.7l-0.4 1.2M438.3 221.0l1.1 0.2M521.0 267.5l-0.6 1.5M467.0 294.6l0.7 0.7M542.0 268.0l-0.7 1.4M429.6 273.5l-0.1 1.2M531.7 242.9l-0.6 1.3M430.6 250.8l1.4 0.1M509.8 219.0l-0.7 0.6M438.3 241.2l-1.5 0.6M514.8 281.0l-0.9 1.4M510.8 279.3l0.9 0.3M446.6 221.7l0.3 1.1M459.7 272.8l0.8 0.8M464.9 242.2l1.3 1.0M424.4 291.0l0.8 0.7M495.5 255.6l-0.8 1.2M408.1 244.0l1.3 0.3M528.3 292.6l-0.9 1.3" stroke="#B04CBC" stroke-width="2.2" stroke-linecap="round" fill="none" opacity="0.78"/>
<path d="M532.9 255.2l-1.0 0.8M414.2 253.6l1.2 1.0M506.7 244.4l-0.6 1.2M427.1 253.2l0.3 1.4M424.1 218.5l0.9 1.1M429.2 284.3l-0.6 1.1M472.8 230.2l0.6 0.7M413.1 229.3l0.1 1.5M417.7 290.7l-1.1 0.8M433.4 278.9l-0.8 0.6M540.4 295.6l1.5 0.8M462.3 259.1l0.2 1.6M420.7 250.7l1.1 1.3M539.3 244.0l0.8 0.8M473.8 253.3l-0.4 1.0M507.6 233.1l-1.2 0.6M489.9 226.2l0.2 1.3M536.3 292.7l1.0 0.7M454.5 235.9l-0.5 1.5M439.9 288.2l-1.5 0.9M521.1 283.3l0.8 1.3M457.2 220.2l-1.1 0.2M525.8 237.6l1.1 0.2M477.7 257.8l-1.2 0.9M448.9 232.3l0.1 1.8M436.7 234.4l0.6 1.2M527.2 295.5l0.5 1.7M468.4 277.1l0.7 0.6M533.2 224.6l1.0 0.0M485.6 248.8l-0.6 1.4M430.1 286.7l1.8 0.5M426.4 238.4l-0.9 0.9" stroke="#D468C0" stroke-width="2.2" stroke-linecap="round" fill="none" opacity="0.78"/>
<path d="M418.1 279.3l0.6 1.3M527.4 247.2l0.5 1.2M518.8 297.8l0.3 1.2M503.4 251.4l-1.3 0.9M426.1 228.8l-1.3 1.0M444.3 297.4l0.8 0.5M539.7 277.8l1.1 1.0M525.4 265.6l0.9 0.4M530.7 253.1l-1.1 0.2M418.4 269.8l0.7 1.6M464.5 281.2l-0.5 0.9M459.3 298.7l-0.0 1.7M408.5 253.5l-1.5 0.5M464.2 251.2l-0.6 0.8M485.7 220.6l0.5 0.9M536.3 276.1l1.0 0.2M454.5 265.4l-0.6 1.2M521.7 224.1l1.7 0.4M505.2 282.8l-0.4 1.6M536.1 229.0l1.0 0.9M518.0 274.3l-0.4 1.8M544.3 244.5l-1.3 1.1M473.8 223.5l-1.2 0.4M419.0 236.6l0.1 1.8M537.3 261.0l-0.9 1.7M457.7 296.3l0.3 1.2M419.1 254.7l0.6 0.9M492.5 296.2l1.0 1.1M519.1 277.6l0.2 1.3M437.1 265.7l0.5 1.0M472.5 281.6l-1.4 0.7M539.0 287.1l-1.6 0.2M460.1 244.1l-1.0 0.3M499.8 235.3l-0.6 1.4M478.8 263.5l0.8 1.5M460.0 247.1l-0.2 1.2M417.5 259.4l1.3 0.1M518.6 237.6l-1.2 1.4M462.1 216.9l-1.6 0.7M512.7 262.6l-1.0 1.5M532.0 277.0l-1.0 0.4M467.8 229.6l-0.2 0.9M468.3 241.5l0.9 0.8M521.4 243.4l-1.6 0.3M504.7 277.9l0.2 0.9M542.4 272.2l0.5 0.9M462.9 245.9l0.8 0.7M487.0 250.7l0.3 1.8M435.8 228.4l-0.6 1.5M417.5 215.9l-0.6 1.4M426.0 248.3l1.0 0.4M408.7 282.9l-0.2 1.7M471.1 246.8l0.8 1.6M432.7 275.5l-1.4 0.3M416.0 297.1l1.0 0.6M482.8 226.7l1.7 0.6M471.3 225.2l-1.2 0.5" stroke="#A446B4" stroke-width="2.2" stroke-linecap="round" fill="none" opacity="0.78"/>
</g>
<path d="M477.5 232.0l-0.5 0.9M536.3 281.3l-1.0 1.5M534.5 290.7l-0.3 1.3M445.6 280.2l-0.5 1.7M506.1 293.5l-1.0 0.4M521.9 258.5l0.7 1.2M515.7 246.9l-0.4 1.9M455.7 225.2l-0.1 0.9M529.2 232.3l-0.8 1.0M515.6 284.1l1.5 0.5M455.4 291.6l-1.1 1.2M417.5 259.4l1.3 0.1M476.7 223.7l-0.6 0.9M532.0 277.0l-1.0 0.4M426.2 266.0l0.2 1.1M435.8 228.4l-0.6 1.5M511.1 245.4l0.3 1.4M457.1 230.8l-1.0 1.4M487.5 241.7l1.4 0.6M504.9 220.3l-0.9 0.8" stroke="#4A8FD0" stroke-width="2.3" stroke-linecap="round" fill="none" opacity="0.78"/>
<path d="M507.0 226.1l-0.8 1.0M487.6 270.7l-1.3 0.4M491.4 267.0l1.7 0.8M469.0 283.4l-0.9 0.5M413.7 277.0l-0.2 0.9M415.6 231.0l1.4 0.1M481.2 274.2l1.3 0.8M505.2 282.8l-0.4 1.6M502.5 292.4l0.4 1.6M514.5 225.1l-1.4 0.4M419.1 254.7l0.6 0.9M472.7 272.9l-1.4 0.6M472.5 281.6l-1.4 0.7M478.7 287.8l-0.7 1.1M468.3 241.5l0.9 0.8M447.6 253.9l-1.3 0.3M457.5 268.5l-0.9 1.3M461.9 213.8l-1.3 0.4M487.6 233.1l-1.4 0.7" stroke="#3F86C8" stroke-width="2.3" stroke-linecap="round" fill="none" opacity="0.78"/>
<path d="M431.9 259.1l-1.7 0.7M412.8 242.4l-1.1 0.8M468.5 262.6l-1.4 0.6M436.1 258.9l1.8 0.2M525.2 248.5l-0.5 1.0M527.7 272.9l0.8 1.2M475.4 280.3l1.4 1.2M458.9 291.8l-0.9 0.5M414.3 291.9l-1.0 1.1M447.9 258.3l0.9 0.3M458.4 260.5l-1.4 0.0M519.1 277.6l0.2 1.3M507.5 296.3l1.1 1.0M543.1 256.2l0.9 1.5M512.7 262.6l-1.0 1.5M444.0 224.4l1.1 1.3M477.0 241.8l1.0 1.1M499.7 297.7l-1.5 0.8M461.2 238.2l-0.9 0.7M424.8 280.1l1.7 0.4M444.0 221.5l-1.1 0.1" stroke="#5A9AD8" stroke-width="2.3" stroke-linecap="round" fill="none" opacity="0.78"/>
<path d="M481.7 240.6l-0.9 1.4M418.4 269.8l0.7 1.6M524.5 217.2l-0.2 1.6M415.8 243.3l0.5 0.8M518.0 274.3l-0.4 1.8M460.1 244.1l-1.0 0.3M455.8 256.4l0.0 1.6M491.0 218.5l-0.9 0.6M489.1 296.7l-0.7 0.9M504.7 277.9l0.2 0.9M439.3 268.9l1.8 0.6" stroke="#3570B0" stroke-width="2.3" stroke-linecap="round" fill="none" opacity="0.78"/>
<path d="M532.9 255.2l-1.0 0.8M527.4 247.2l0.5 1.2M469.8 259.4l0.4 0.8M500.4 243.9l1.2 0.2M427.1 253.2l0.3 1.4M498.0 271.4l-0.7 1.1M412.8 261.0l0.7 0.6M534.5 270.5l-1.4 1.2M525.4 265.6l0.9 0.4M424.1 218.5l0.9 1.1M483.7 237.7l-0.4 1.7M413.1 229.3l0.1 1.5M464.5 281.2l-0.5 0.9M466.6 289.7l-1.1 0.4M417.7 290.7l-1.1 0.8M408.5 253.5l-1.5 0.5M464.2 251.2l-0.6 0.8M433.4 278.9l-0.8 0.6M479.7 227.0l1.1 0.1M485.7 220.6l0.5 0.9M540.4 295.6l1.5 0.8M483.6 223.2l-1.5 0.9M467.0 294.6l0.7 0.7M536.1 229.0l1.0 0.9M544.3 244.5l-1.3 1.1M507.6 233.1l-1.2 0.6M492.5 296.2l1.0 1.1M513.2 287.0l-1.4 0.9M540.1 284.6l0.5 1.0M430.6 250.8l1.4 0.1M499.8 235.3l-0.6 1.4M480.7 233.0l-0.9 0.6M438.3 241.2l-1.5 0.6M460.0 247.1l-0.2 1.2M431.6 233.7l1.3 0.9M525.8 237.6l1.1 0.2M510.8 279.3l0.9 0.3M448.9 232.3l0.1 1.8M457.3 253.9l1.0 0.6M521.4 243.4l-1.6 0.3M462.9 245.9l0.8 0.7M495.9 250.2l-1.3 0.3M468.4 277.1l0.7 0.6M417.5 215.9l-0.6 1.4M426.0 248.3l1.0 0.4M471.1 246.8l0.8 1.6M416.0 297.1l1.0 0.6M485.6 248.8l-0.6 1.4M471.3 225.2l-1.2 0.5M408.1 244.0l1.3 0.3M528.3 292.6l-0.9 1.3M494.9 283.7l-0.6 0.7M426.4 238.4l-0.9 0.9M516.4 292.9l0.9 1.4" stroke="#4A78D8" stroke-width="2.2" stroke-linecap="round" fill="none" opacity="0.45"/>
<use href="#cm1" y="86.900" opacity="0.8"/>
</g>
<rect x="405.1" y="299.600" width="139.7" height="1.300" fill="#fff"/>
<rect x="526.4" y="291.8" width="11.300" height="1.600" fill="#fff"/>
<rect x="526.4" y="379.2" width="11.300" height="1.600" fill="#fff"/>
<text x="613.9" y="207.5" font-size="8.3" text-anchor="middle" fill="#111"><tspan font-style="italic">LAMA2</tspan> Ex7 KO</text>
<clipPath id="cc2"><rect x="545.1" y="214" width="137.5" height="173"/></clipPath>
<rect x="545.1" y="214" width="137.5" height="173" fill="#050507"/>
<g clip-path="url(#cc2)" filter="url(#b06)">
<g id="cm2">
<path d="M627.9 291.7l-0.5 1.3M640.0 277.9l1.0 0.6M558.8 247.9l-0.5 0.8M643.2 293.2l-1.3 0.3M616.0 214.1l-1.4 1.1M647.7 242.4l1.3 0.6M599.2 223.0l-1.3 0.3M576.8 256.4l0.4 1.3M680.5 233.5l-0.8 0.6M630.1 268.8l0.7 1.5M625.7 276.8l-1.5 0.8M605.6 241.9l-1.4 1.2M598.3 285.0l1.0 0.1M678.5 294.2l-0.5 1.2M620.8 256.4l1.0 0.1M615.0 254.3l-1.7 0.8M582.4 258.3l0.6 1.2M570.3 255.2l0.4 0.8M663.8 249.1l-0.3 1.7M610.7 292.1l-1.5 0.2M665.9 287.4l0.1 1.0M546.5 234.3l1.5 0.6M597.5 214.1l0.1 1.2M548.7 271.8l1.2 0.9M583.0 252.3l-0.3 0.9M670.6 285.3l-0.6 0.7M601.8 222.6l0.2 0.9M556.3 286.1l0.4 1.7M580.4 287.7l1.5 0.7M619.6 274.7l1.2 0.7M676.7 297.1l1.1 0.7M554.2 289.1l-1.1 0.4M587.0 243.9l-0.2 1.8M622.3 295.4l1.7 0.8M613.5 225.8l0.1 1.0M580.8 256.6l-1.1 0.4M560.2 239.8l0.8 1.6M594.0 274.9l1.6 0.9M632.2 258.4l-1.7 0.5" stroke="#C45AC8" stroke-width="2.2" stroke-linecap="round" fill="none" opacity="0.78"/>
<path d="M604.6 263.2l-0.9 1.1M579.6 248.4l1.1 0.7M641.7 218.7l1.3 0.9M571.0 237.6l-1.6 0.2M615.0 230.3l1.6 0.4M680.6 284.9l-0.1 1.1M676.3 271.6l-0.2 1.2M633.1 268.0l0.8 1.1M601.6 281.7l1.3 0.3M664.2 268.4l0.1 1.7M634.6 216.3l-1.3 0.0M581.0 299.3l-1.0 0.4M657.1 230.2l-0.5 1.1M570.1 284.3l1.2 1.3M638.8 262.0l-1.0 0.8M650.0 284.6l-1.2 0.2M586.6 270.7l1.0 0.1M579.1 274.2l-0.6 0.7M648.6 294.8l-1.4 0.5M629.3 255.6l-1.2 1.0M627.6 282.5l-1.4 1.0M623.4 279.7l0.3 1.3M554.2 275.1l-1.9 0.2M592.3 214.0l1.3 0.2M680.1 242.2l0.4 1.2M661.2 284.5l1.7 0.2M584.5 277.1l1.1 0.2M646.9 274.9l1.6 0.1M592.7 248.1l-1.4 0.3M584.9 293.8l-0.8 0.5M668.5 271.3l0.7 0.9M570.9 216.0l1.3 0.9M667.5 233.7l-0.0 1.7M661.2 228.8l-1.0 0.3M658.4 296.2l1.6 0.4M665.6 281.2l0.8 0.7M673.3 258.7l-1.1 0.1" stroke="#B04CBC" stroke-width="2.2" stroke-linecap="round" fill="none" opacity="0.78"/>
<path d="M652.8 281.4l-0.2 1.1M607.1 235.1l0.8 0.4M549.5 256.6l-0.3 1.5M631.4 238.0l1.7 0.5M666.4 276.8l0.7 1.3M679.4 227.6l0.7 1.7M584.7 285.3l0.4 1.2M663.3 277.6l-0.9 0.7M607.7 274.7l-1.7 0.3M574.1 251.3l0.6 1.3M563.2 259.5l-1.3 1.3M553.5 265.6l-1.3 1.0M582.9 273.4l-0.2 1.9M605.9 230.3l-1.4 0.4M550.5 252.0l0.6 1.5M631.6 272.6l-0.1 1.1M621.7 229.3l1.9 0.1M567.1 254.4l-0.3 1.0M557.8 272.8l1.0 1.6M635.1 251.6l0.6 1.2M559.4 289.6l-1.2 1.5M561.4 256.6l0.2 1.1M554.8 278.6l-1.2 0.7M562.2 227.8l0.7 1.3M680.9 264.0l1.7 0.8M669.2 293.6l-1.8 0.4M636.4 273.2l0.8 0.8M671.4 236.3l0.9 0.1M576.0 220.4l0.5 0.8M576.6 270.3l-0.9 1.2M554.4 250.5l0.4 0.8M568.4 258.6l-0.3 1.6M591.4 251.7l1.6 0.5" stroke="#D468C0" stroke-width="2.2" stroke-linecap="round" fill="none" opacity="0.78"/>
<path d="M564.8 266.3l1.4 0.8M596.2 233.1l1.6 0.7M660.3 274.4l-0.1 1.4M578.6 221.2l0.8 1.4M622.3 250.9l-0.9 1.5M673.6 294.6l0.8 0.5M578.1 229.4l1.0 1.3M568.2 280.8l0.6 1.6M599.7 277.2l1.6 0.4M657.9 270.1l-1.6 0.4M666.3 224.9l0.7 1.2M610.8 231.3l1.5 0.5M644.9 264.6l-1.0 0.9M658.6 283.3l-1.1 1.6M600.6 265.6l-0.5 1.5M636.8 222.3l-1.1 0.3M674.4 246.2l-0.5 1.0M623.6 286.8l-1.7 0.6M653.8 294.5l-1.8 0.1M661.6 298.3l0.4 0.9M611.7 283.4l-1.0 0.3M653.1 239.0l0.0 0.9M571.9 264.0l-1.2 0.0M598.6 298.5l-0.9 1.0M631.8 230.4l-0.3 1.6M576.6 263.5l0.7 1.2M682.2 292.6l0.4 0.9M651.6 243.7l0.4 1.2M662.7 214.1l-0.8 0.7M670.2 298.2l-0.4 0.9M646.8 251.2l-1.4 1.2M658.0 245.5l0.6 1.6M586.2 259.7l-0.6 0.9M607.3 279.4l-1.3 1.2M582.7 246.2l1.7 0.9M615.7 237.1l-1.4 0.1M617.0 240.6l1.1 1.5M555.4 221.0l-1.8 0.3M627.2 266.4l1.3 0.3M583.1 215.6l-0.9 0.2M669.4 220.9l1.2 0.4M599.7 269.5l-0.8 0.8M664.4 236.8l0.6 1.1M644.6 246.3l1.2 0.3M667.5 214.2l-0.3 1.5M662.7 224.2l-0.3 0.8M613.8 220.3l1.7 0.3M676.2 220.0l-1.5 0.9M585.2 280.5l0.9 0.8M579.8 217.8l0.5 1.1M663.3 290.9l1.0 0.4M594.1 228.2l-0.8 0.8M581.8 268.2l-0.4 1.4M572.9 291.0l-1.0 1.1M668.7 244.9l0.9 0.4M643.9 275.3l0.8 1.0M680.0 271.5l-0.7 0.7M576.4 277.1l-0.9 1.2M620.8 294.5l-1.0 0.7M627.5 239.1l-0.9 1.1M586.1 283.3l1.2 0.5M563.4 233.7l-1.4 0.5" stroke="#A446B4" stroke-width="2.2" stroke-linecap="round" fill="none" opacity="0.78"/>
</g>
<path d="M576.4 295.7l1.6 0.1M628.3 278.4l-1.1 0.2M549.4 246.2l-0.4 1.7M547.5 277.7l1.0 0.0M603.5 217.5l1.1 0.4M675.2 226.7l-0.8 1.5M651.0 239.7l-1.5 0.5M662.7 224.2l-0.3 0.8M595.3 271.0l-0.8 1.3M661.3 235.5l-0.1 1.0M593.9 244.4l0.0 1.2M680.0 271.5l-0.7 0.7" stroke="#4A8FD0" stroke-width="2.3" stroke-linecap="round" fill="none" opacity="0.78"/>
<path d="M619.6 288.7l-1.4 0.0M601.7 289.7l1.0 0.6M677.0 267.8l0.1 1.7M566.4 299.5l-1.1 0.0M546.3 259.3l0.2 1.2M652.9 254.6l-1.4 0.5M673.7 232.0l1.6 0.2M620.8 271.0l-0.5 1.8M599.4 245.1l-0.8 0.9M607.3 279.4l-1.3 1.2M639.4 284.5l0.7 1.1M611.7 239.0l0.7 1.3M627.2 266.4l1.3 0.3M638.9 280.1l0.3 1.7M664.4 236.8l0.6 1.1M656.7 298.3l-1.1 1.5M655.9 277.4l-1.8 0.5M601.1 237.7l0.8 1.4M550.3 236.1l0.5 1.3M675.8 287.2l-0.6 0.9" stroke="#3F86C8" stroke-width="2.3" stroke-linecap="round" fill="none" opacity="0.78"/>
<path d="M563.2 282.4l0.4 0.9M598.4 259.5l-1.3 0.4M636.8 222.3l-1.1 0.3M602.8 272.3l-1.0 1.2M583.1 289.8l1.0 0.1M650.3 269.0l-0.5 1.4M647.5 254.6l-0.3 1.0M655.5 222.6l0.1 1.1M639.2 249.8l-1.4 0.6M613.6 269.7l0.7 1.0M615.1 261.5l1.0 0.7M613.4 296.5l-1.2 1.4M661.6 258.2l0.9 0.2M581.6 236.0l-0.3 1.4M563.4 233.7l-1.4 0.5" stroke="#5A9AD8" stroke-width="2.3" stroke-linecap="round" fill="none" opacity="0.78"/>
<path d="M602.1 225.7l0.1 1.1M560.4 280.4l1.2 0.0M578.1 229.4l1.0 1.3M663.5 218.7l1.5 1.0M644.9 264.6l-1.0 0.9M560.2 295.0l1.0 1.3M658.8 256.9l-0.7 1.5M653.0 217.6l-1.3 0.3M673.5 269.9l1.1 0.7M546.9 223.7l-1.6 0.5M662.7 214.1l-0.8 0.7M669.3 264.2l-0.9 0.3M555.4 221.0l-1.8 0.3M583.1 215.6l-0.9 0.2M563.7 246.8l-1.0 0.0M588.2 220.0l-0.1 1.3M660.6 266.1l1.0 0.2M613.8 220.3l1.7 0.3M657.2 274.8l-1.7 0.5M668.9 223.2l1.0 1.3M668.7 244.9l0.9 0.4" stroke="#3570B0" stroke-width="2.3" stroke-linecap="round" fill="none" opacity="0.78"/>
<path d="M564.8 266.3l1.4 0.8M627.9 291.7l-0.5 1.3M652.8 281.4l-0.2 1.1M568.2 280.8l0.6 1.6M549.5 256.6l-0.3 1.5M640.0 277.9l1.0 0.6M657.9 270.1l-1.6 0.4M666.3 224.9l0.7 1.2M641.7 218.7l1.3 0.9M631.4 238.0l1.7 0.5M666.4 276.8l0.7 1.3M647.7 242.4l1.3 0.6M676.3 271.6l-0.2 1.2M633.1 268.0l0.8 1.1M599.2 223.0l-1.3 0.3M601.6 281.7l1.3 0.3M653.1 239.0l0.0 0.9M663.3 277.6l-0.9 0.7M607.7 274.7l-1.7 0.3M631.8 230.4l-0.3 1.6M563.2 259.5l-1.3 1.3M576.6 263.5l0.7 1.2M630.1 268.8l0.7 1.5M553.5 265.6l-1.3 1.0M620.8 256.4l1.0 0.1M586.2 259.7l-0.6 0.9M617.0 240.6l1.1 1.5M605.9 230.3l-1.4 0.4M550.5 252.0l0.6 1.5M648.6 294.8l-1.4 0.5M629.3 255.6l-1.2 1.0M663.8 249.1l-0.3 1.7M546.5 234.3l1.5 0.6M644.6 246.3l1.2 0.3M548.7 271.8l1.2 0.9M554.2 275.1l-1.9 0.2M585.2 280.5l0.9 0.8M601.8 222.6l0.2 0.9M592.7 248.1l-1.4 0.3M680.9 264.0l1.7 0.8M636.4 273.2l0.8 0.8M576.6 270.3l-0.9 1.2M572.9 291.0l-1.0 1.1M676.7 297.1l1.1 0.7M554.2 289.1l-1.1 0.4M643.9 275.3l0.8 1.0M622.3 295.4l1.7 0.8M613.5 225.8l0.1 1.0M580.8 256.6l-1.1 0.4M665.6 281.2l0.8 0.7M673.3 258.7l-1.1 0.1" stroke="#4A78D8" stroke-width="2.2" stroke-linecap="round" fill="none" opacity="0.45"/>
<use href="#cm2" y="86.900" opacity="0.85"/>
</g>
<rect x="544.1" y="299.600" width="139.5" height="1.300" fill="#fff"/>
<rect x="665.2" y="291.8" width="11.300" height="1.600" fill="#fff"/>
<rect x="665.2" y="379.2" width="11.300" height="1.600" fill="#fff"/>
<text x="268.6" y="222.6" font-size="8.8" fill="#C050B8">EdU</text>
<text x="268.6" y="232" font-size="9" fill="#4A90D0">Hoechst</text>
<text x="268.6" y="309.5" font-size="8.8" fill="#C050B8">EdU</text>
<text x="393" y="289.6" font-size="5" text-anchor="middle" font-weight="bold" fill="#fff">50 µm</text>
</g>
<g id="pd">
<rect x="288.4" y="459.4" width="14.4" height="89.4" fill="#E86B6C" stroke="#222" stroke-width="0.7"/>
<rect x="311.3" y="494.2" width="14.6" height="54.6" fill="#5BD0C2" stroke="#222" stroke-width="0.7"/>
<rect x="334.2" y="485.8" width="14.8" height="63.0" fill="#EDE1CA" stroke="#222" stroke-width="0.7"/>
<rect x="284" y="531.500" width="70" height="5.500" fill="#fff"/>
<path d="M280.600 429.400V531.600M280.600 536.800V548.600H357" fill="none" stroke="#222" stroke-width="0.8"/>
<path d="M278.600 530.100L282.700 533.700M278.600 535.400L282.700 539" fill="none" stroke="#222" stroke-width="0.7"/>
<path d="M277.600 429.7H280.600" stroke="#222" stroke-width="0.8"/>
<text x="276" y="431.9" font-size="6.2" text-anchor="end" font-weight="bold" fill="#111">100</text>
<path d="M277.600 455.2H280.600" stroke="#222" stroke-width="0.8"/>
<text x="276" y="457.4" font-size="6.2" text-anchor="end" font-weight="bold" fill="#111">90</text>
<path d="M277.600 480.6H280.600" stroke="#222" stroke-width="0.8"/>
<text x="276" y="482.8" font-size="6.2" text-anchor="end" font-weight="bold" fill="#111">80</text>
<path d="M277.600 506.1H280.600" stroke="#222" stroke-width="0.8"/>
<text x="276" y="508.3" font-size="6.2" text-anchor="end" font-weight="bold" fill="#111">70</text>
<text x="276" y="533.7" font-size="6.2" text-anchor="end" font-weight="bold" fill="#111">60</text>
<text x="276" y="540.4" font-size="6.2" text-anchor="end" font-weight="bold" fill="#111">20</text>
<path d="M277.600 548.8H280.600" stroke="#222" stroke-width="0.8"/>
<text x="276" y="551.0" font-size="6.2" text-anchor="end" font-weight="bold" fill="#111">0</text>
<path d="M295.6 548.800V552" stroke="#222" stroke-width="0.8"/>
<path d="M318.6 548.800V552" stroke="#222" stroke-width="0.8"/>
<path d="M341.6 548.800V552" stroke="#222" stroke-width="0.8"/>
<path d="M295.6 453.4V465.4M291.6 453.4H299.6M291.6 465.4H299.6" fill="none" stroke="#222" stroke-width="0.8"/>
<path d="M318.6 488.7V499.7M314.6 488.7H322.6M314.6 499.7H322.6" fill="none" stroke="#222" stroke-width="0.8"/>
<path d="M341.6 481V490.6M337.6 481H345.6M337.6 490.6H345.6" fill="none" stroke="#222" stroke-width="0.8"/>
<rect x="293.8" y="449.1" width="3.2" height="3.2" fill="#5a5a5a"/>
<circle cx="295.4" cy="470.2" r="1.8" fill="#5a5a5a"/>
<path d="M293.4 461.1H297.4L295.4 457.5Z" fill="#5a5a5a"/>
<circle cx="315.3" cy="487.5" r="1.8" fill="#5a5a5a"/>
<rect x="320.4" y="488.4" width="3.2" height="3.2" fill="#5a5a5a"/>
<path d="M316.5 507.1H320.5L318.5 503.5Z" fill="#5a5a5a"/>
<rect x="336.6" y="477.5" width="3.2" height="3.2" fill="#5a5a5a"/>
<circle cx="344.7" cy="482" r="1.8" fill="#5a5a5a"/>
<path d="M339.3 496.8H343.3L341.3 493.2Z" fill="#5a5a5a"/>
<path d="M295.400 429.400H341.800M295.400 440.700H319" stroke="#444" stroke-width="0.8"/>
<text x="318.5" y="429.2" font-size="9" text-anchor="middle" font-weight="bold" fill="#111">*</text>
<text x="307" y="440.5" font-size="9" text-anchor="middle" font-weight="bold" fill="#111">**</text>
<text transform="translate(262 489.300) rotate(-90)" font-size="7.400" text-anchor="middle" fill="#111">% EdU+/Hoechst+</text>
<text x="297.3" y="557.5" font-size="6.6" text-anchor="end" fill="#111" transform="rotate(-45 297.3 557.5)">Control</text>
<text x="320.3" y="557.5" font-size="6.6" text-anchor="end" fill="#111" transform="rotate(-45 320.3 557.5)"><tspan font-style="italic">LAMA2</tspan> Ex3 KO</text>
<text x="343.3" y="557.5" font-size="6.6" text-anchor="end" fill="#111" transform="rotate(-45 343.3 557.5)"><tspan font-style="italic">LAMA2</tspan> Ex7 KO</text>
</g>
<g id="pe">
<text x="433.7" y="410.2" font-size="8.5" text-anchor="middle" fill="#111">Control</text>
<text x="533.7" y="410.2" font-size="8.5" text-anchor="middle" fill="#111"><tspan font-style="italic">LAMA2</tspan> Ex3 KO</text>
<text x="634.1" y="410.2" font-size="8.5" text-anchor="middle" fill="#111"><tspan font-style="italic">LAMA2</tspan> Ex7 KO</text>
<clipPath id="ec0"><rect x="384.9" y="416.100" width="97.6" height="173.600"/></clipPath>
<rect x="384.9" y="416.100" width="97.6" height="173.600" fill="#060408"/>
<g clip-path="url(#ec0)">
<g id="ef0">
<g filter="url(#b2)" opacity="0.15">
<path d="M383.9 516.4L385.3 516.9L387.3 517.7L389.6 518.6L392.2 519.6L394.9 520.6L397.5 521.6L400.0 522.4L402.3 523.2L404.3 523.9L406.2 524.5L408.1 525.1L410.0 525.6L411.7 526.1L413.5 526.6L415.2 526.9L416.8 527.2L418.4 527.3L420.1 527.3L421.7 527.3L423.2 527.1L424.6 527.0L425.8 526.8L426.9 526.7L427.7 526.6L427.9 525.6L427.2 525.2L426.3 524.6L425.2 524.0L424.0 523.3L422.7 522.6L421.3 521.9L419.8 521.2L418.4 520.6L416.8 520.1L415.2 519.6L413.5 519.2L411.7 518.8L409.8 518.4L407.9 518.0L405.8 517.6L403.7 517.3L401.3 517.0L398.7 516.6L395.8 516.3L393.0 516.1L390.2 515.8L387.7 515.7L385.7 515.5L384.1 515.4Z" fill="#A83CC4" opacity="0.95"/>
<path d="M383.6 504.5L384.4 505.4L385.4 506.5L386.6 507.9L387.9 509.4L389.3 510.9L390.7 512.5L392.0 514.0L393.3 515.3L394.4 516.6L395.5 517.8L396.5 518.9L397.6 520.0L398.6 521.1L399.6 522.3L400.6 523.5L401.6 524.9L402.7 526.4L403.8 528.1L404.9 530.0L406.0 531.9L407.2 533.8L408.4 535.7L409.5 537.5L410.6 539.2L411.7 540.8L412.9 542.5L414.1 544.1L415.2 545.7L416.3 547.2L417.2 548.5L418.0 549.6L418.6 550.4L419.5 549.9L419.0 549.0L418.3 547.8L417.5 546.4L416.7 544.8L415.7 543.1L414.8 541.3L413.8 539.5L412.9 537.8L411.9 536.1L410.9 534.2L409.9 532.2L408.9 530.3L407.8 528.3L406.6 526.4L405.5 524.6L404.4 522.9L403.2 521.4L402.1 520.1L400.9 518.9L399.8 517.8L398.7 516.7L397.6 515.7L396.4 514.6L395.2 513.5L393.8 512.2L392.3 510.9L390.8 509.5L389.2 508.1L387.7 506.7L386.3 505.6L385.2 504.6L384.4 503.8Z" fill="#A83CC4" opacity="0.70"/>
<path d="M397.5 502.3L398.2 503.4L399.2 504.8L400.4 506.4L401.7 508.3L403.1 510.2L404.6 512.2L406.2 514.2L407.7 516.1L409.3 518.0L411.1 519.9L412.9 521.8L414.8 523.7L416.7 525.6L418.6 527.5L420.4 529.3L422.1 531.0L423.7 532.7L425.4 534.4L427.0 536.1L428.5 537.7L430.0 539.3L431.5 540.9L432.9 542.3L434.2 543.7L435.4 545.0L436.6 546.2L437.8 547.4L438.9 548.6L439.8 549.6L440.7 550.6L441.4 551.3L442.0 552.0L442.8 551.3L442.3 550.6L441.7 549.8L440.9 548.7L440.1 547.6L439.2 546.3L438.2 544.9L437.1 543.5L436.0 542.1L434.8 540.6L433.6 539.0L432.3 537.3L430.9 535.6L429.5 533.8L427.9 532.1L426.4 530.3L424.7 528.5L423.0 526.7L421.2 524.8L419.3 523.0L417.3 521.1L415.4 519.3L413.5 517.5L411.6 515.8L409.9 514.1L408.2 512.4L406.5 510.6L404.8 508.8L403.2 507.1L401.7 505.4L400.3 503.9L399.1 502.6L398.3 501.7Z" fill="#A83CC4" opacity="0.65"/>
<path d="M384.0 552.1L384.6 552.3L385.3 552.4L386.1 552.5L387.0 552.7L388.0 553.0L389.3 553.3L390.7 553.8L392.3 554.4L394.3 555.3L396.7 556.2L399.4 557.3L402.2 558.4L405.2 559.5L408.1 560.5L410.8 561.5L413.4 562.3L415.8 563.0L418.2 563.7L420.5 564.3L422.8 565.0L425.1 565.6L427.2 566.1L429.2 566.7L431.1 567.1L432.8 567.6L434.5 568.2L436.1 568.7L437.7 569.3L439.0 569.8L440.3 570.3L441.3 570.7L442.1 571.0L442.7 570.2L442.0 569.6L441.2 568.8L440.2 567.9L439.1 566.9L437.8 565.8L436.4 564.7L434.9 563.5L433.3 562.4L431.5 561.3L429.6 560.2L427.6 559.1L425.5 558.0L423.2 556.9L420.9 555.9L418.4 555.0L415.9 554.2L413.2 553.4L410.3 552.6L407.2 552.0L404.1 551.4L401.0 551.0L398.1 550.6L395.5 550.4L393.2 550.3L391.3 550.2L389.6 550.3L388.2 550.4L387.0 550.6L386.1 550.7L385.3 550.9L384.6 551.0L384.0 551.1Z" fill="#A83CC4" opacity="0.95"/>
<path d="M396.2 565.2L396.4 565.8L396.8 566.6L397.2 567.5L397.8 568.6L398.4 569.7L399.2 570.7L400.1 571.8L401.1 572.7L402.2 573.4L403.3 574.0L404.4 574.4L405.5 574.8L406.7 575.1L408.1 575.5L409.6 576.0L411.5 576.5L413.9 577.2L416.8 577.9L420.2 578.7L423.7 579.4L427.1 580.0L430.3 580.6L433.0 581.0L434.9 581.3L435.3 580.4L433.7 579.3L431.5 577.7L428.8 575.9L425.9 574.0L422.8 572.1L419.9 570.3L417.2 568.8L414.9 567.6L413.0 566.8L411.4 566.1L410.0 565.5L408.7 565.1L407.7 564.7L406.7 564.4L405.8 564.3L404.8 564.2L403.8 564.1L402.7 564.1L401.5 564.1L400.4 564.2L399.2 564.2L398.2 564.3L397.3 564.3L396.7 564.3Z" fill="#A83CC4" opacity="0.95"/>
<path d="M433.2 538.8L433.6 539.7L434.2 541.0L434.8 542.5L435.6 544.1L436.4 545.8L437.2 547.4L438.0 549.0L438.8 550.3L439.4 551.2L439.8 552.1L440.2 552.9L440.7 553.8L441.4 554.8L442.3 555.9L443.5 557.0L445.0 558.2L447.1 559.6L449.6 561.2L452.5 562.7L455.6 564.3L458.6 565.7L461.4 567.0L463.8 568.1L465.5 568.8L466.0 568.0L464.6 566.8L462.6 565.1L460.3 563.2L457.7 561.1L455.0 558.9L452.5 556.9L450.2 555.2L448.5 553.8L447.3 552.7L446.5 551.9L446.0 551.3L445.5 550.7L445.1 550.0L444.6 549.2L443.9 548.2L443.1 547.2L442.0 546.0L440.9 544.8L439.6 543.5L438.3 542.2L437.0 541.0L435.8 539.8L434.8 538.9L434.0 538.2Z" fill="#A83CC4" opacity="0.75"/>
<path d="M449.5 506.9L450.3 507.4L451.4 508.0L452.6 508.7L453.9 509.5L455.4 510.3L457.0 511.2L458.7 511.9L460.5 512.6L462.5 513.3L464.9 514.0L467.5 514.7L470.2 515.4L472.8 516.0L475.2 516.4L477.2 516.8L478.7 517.1L479.1 516.1L477.8 515.3L476.0 514.3L473.9 513.0L471.6 511.7L469.1 510.4L466.6 509.2L464.3 508.2L462.3 507.5L460.4 506.9L458.5 506.5L456.7 506.2L455.0 506.1L453.4 506.0L452.0 505.9L450.8 505.9L449.8 505.9Z" fill="#A83CC4" opacity="0.45"/>
<path d="M408.3 538.5L408.4 540.2L408.6 542.3L408.8 544.9L409.0 547.7L409.2 550.8L409.4 554.0L409.7 557.3L409.9 560.5L410.2 564.0L410.5 567.9L410.9 572.2L411.3 576.4L411.7 580.5L412.1 584.2L412.4 587.3L412.7 589.6L413.7 589.6L413.6 587.2L413.5 584.1L413.4 580.4L413.2 576.3L413.0 572.0L412.7 567.8L412.4 563.8L412.1 560.3L411.8 557.1L411.4 553.8L411.0 550.6L410.6 547.5L410.2 544.7L409.8 542.2L409.5 540.1L409.3 538.4Z" fill="#A83CC4" opacity="0.60"/>
<path d="M417.3 566.6L418.0 567.6L419.0 569.0L420.3 570.6L421.7 572.3L423.3 574.0L424.8 575.5L426.3 576.8L427.6 577.8L428.7 578.5L429.8 579.1L430.9 579.6L431.9 580.0L432.7 580.4L433.5 580.7L434.2 581.0L434.8 581.2L435.4 580.5L435.2 579.9L434.8 579.3L434.4 578.5L434.0 577.7L433.4 576.8L432.7 575.8L431.9 574.7L431.0 573.7L429.7 572.6L428.1 571.4L426.3 570.2L424.4 569.0L422.4 568.0L420.6 567.1L419.0 566.4L417.9 565.8Z" fill="#A83CC4" opacity="0.70"/>
<path d="M383.8 531.7L384.9 532.3L386.4 533.0L388.1 533.9L390.1 534.9L392.1 535.9L394.1 536.9L396.0 537.8L397.7 538.7L399.3 539.6L401.0 540.6L402.8 541.7L404.5 542.8L406.2 543.9L407.7 544.8L409.0 545.6L410.0 546.2L410.6 545.4L409.8 544.6L408.8 543.5L407.6 542.2L406.2 540.7L404.6 539.3L403.0 537.8L401.3 536.5L399.5 535.4L397.6 534.5L395.5 533.6L393.3 532.9L391.1 532.3L388.9 531.7L387.0 531.3L385.4 531.0L384.2 530.7Z" fill="#A83CC4" opacity="0.55"/>
<path d="M420.3 511.2L421.9 512.0L424.0 512.9L426.4 514.1L429.2 515.4L432.2 516.7L435.4 518.0L438.6 519.1L441.9 520.0L445.5 520.8L449.5 521.4L453.8 521.9L458.1 522.3L462.3 522.5L466.0 522.7L469.2 522.8L471.5 522.9L471.7 521.9L469.4 521.4L466.3 520.7L462.6 520.0L458.6 519.1L454.4 518.3L450.2 517.5L446.3 516.8L442.8 516.1L439.7 515.4L436.4 514.6L433.2 513.7L430.1 512.9L427.2 512.1L424.6 511.3L422.4 510.7L420.7 510.3Z" fill="#A83CC4" opacity="0.35"/>
<path d="M442.3 549.2L443.4 549.9L444.7 550.6L446.3 551.5L448.0 552.5L449.7 553.6L451.5 554.7L453.2 555.7L454.8 556.8L456.8 558.0L459.3 559.4L462.4 560.7L465.7 561.7L469.1 562.5L472.3 563.1L475.1 563.5L477.2 563.7L477.7 562.9L476.5 561.2L474.9 558.9L472.9 556.3L470.6 553.6L467.9 551.1L465.0 549.0L462.0 547.5L459.2 546.5L456.4 545.9L453.7 545.8L451.2 546.0L448.9 546.4L446.8 546.9L445.1 547.4L443.6 547.9L442.5 548.2Z" fill="#A83CC4" opacity="0.28"/>
<path d="M383.7 572.5L384.2 573.1L384.9 573.9L385.8 574.9L386.7 576.1L387.8 577.2L389.0 578.5L390.2 579.7L391.5 580.9L393.0 582.2L394.8 583.6L396.8 584.9L398.9 586.3L400.9 587.5L402.8 588.5L404.4 589.4L405.6 590.0L406.2 589.2L405.3 588.2L404.1 586.9L402.6 585.3L400.9 583.6L399.1 581.9L397.3 580.4L395.5 579.0L394.0 577.8L392.6 576.8L391.1 575.9L389.7 575.0L388.4 574.1L387.1 573.4L386.0 572.7L385.1 572.1L384.3 571.7Z" fill="#A83CC4" opacity="0.55"/>
<path d="M439.4 569.6L440.1 569.9L441.0 570.3L442.1 570.8L443.3 571.3L444.8 571.8L446.3 572.2L448.0 572.4L449.8 572.6L451.8 572.4L454.0 572.1L456.3 571.6L458.7 570.9L460.9 570.1L462.9 569.3L464.6 568.7L465.8 568.2L465.7 567.2L464.3 567.2L462.5 567.3L460.4 567.4L458.0 567.6L455.6 567.8L453.3 568.1L451.3 568.4L449.6 568.7L448.1 568.8L446.7 568.9L445.2 568.9L443.8 568.9L442.5 568.8L441.4 568.7L440.4 568.7L439.6 568.7Z" fill="#A83CC4" opacity="0.45"/>
<path d="M418.8 503.9L419.7 504.6L420.9 505.6L422.3 506.7L423.9 508.0L425.7 509.3L427.6 510.5L429.5 511.6L431.5 512.5L433.6 513.2L435.9 513.9L438.3 514.4L440.7 514.8L443.0 515.1L445.1 515.3L446.8 515.5L448.1 515.6L448.4 514.7L447.1 514.2L445.5 513.5L443.5 512.8L441.4 512.0L439.1 511.2L436.9 510.5L434.7 509.7L432.9 509.0L431.1 508.3L429.2 507.5L427.2 506.6L425.3 505.7L423.4 504.9L421.8 504.1L420.4 503.5L419.3 503.0Z" fill="#A83CC4" opacity="0.40"/>
<path d="M386.6 521.4L387.5 522.2L388.6 523.2L390.0 524.4L391.5 525.8L393.1 527.2L394.7 528.5L396.2 529.8L397.6 530.9L398.9 532.0L400.2 533.1L401.6 534.3L402.9 535.4L404.2 536.5L405.3 537.4L406.3 538.2L407.0 538.8L407.7 538.1L407.1 537.4L406.4 536.4L405.5 535.2L404.5 533.9L403.4 532.5L402.2 531.1L400.9 529.8L399.6 528.6L398.2 527.4L396.5 526.2L394.7 525.0L392.9 523.8L391.2 522.8L389.6 521.9L388.2 521.1L387.2 520.6Z" fill="#A83CC4" opacity="0.50"/>
<path d="M383.8 540.4L384.8 540.9L386.1 541.6L387.6 542.3L389.3 543.2L391.1 544.1L392.9 545.0L394.7 546.0L396.3 547.1L397.9 548.3L399.8 549.7L401.7 551.3L403.7 552.9L405.6 554.4L407.3 555.8L408.8 557.0L409.9 557.8L410.6 557.1L409.7 556.1L408.5 554.6L407.0 553.0L405.4 551.1L403.6 549.2L401.7 547.4L399.8 545.8L398.0 544.5L396.1 543.5L394.1 542.6L392.1 541.8L390.1 541.1L388.3 540.6L386.6 540.2L385.2 539.8L384.2 539.5Z" fill="#A83CC4" opacity="0.45"/>
<path d="M445.1 531.6L446.0 532.5L447.2 533.6L448.7 535.0L450.4 536.5L452.2 538.0L454.2 539.6L456.4 541.1L458.5 542.5L461.0 543.9L463.8 545.2L466.9 546.5L470.0 547.7L473.1 548.7L476.0 549.5L478.4 550.1L480.1 550.6L480.6 549.7L479.1 548.6L477.1 547.1L474.7 545.4L472.1 543.5L469.2 541.7L466.4 540.1L463.7 538.6L461.3 537.4L459.1 536.3L456.8 535.3L454.5 534.3L452.3 533.4L450.2 532.6L448.4 531.8L446.8 531.2L445.6 530.8Z" fill="#A83CC4" opacity="0.28"/>
<path d="M427.5 553.5L428.8 554.4L430.3 555.6L432.1 556.9L434.2 558.4L436.5 560.1L439.0 561.8L441.6 563.5L444.3 565.2L447.3 567.0L450.8 568.9L454.7 570.9L458.7 572.8L462.6 574.6L466.1 576.1L469.1 577.4L471.3 578.3L471.8 577.5L469.9 576.1L467.2 574.2L464.0 572.0L460.4 569.7L456.7 567.3L452.9 565.1L449.4 563.1L446.4 561.5L443.6 560.0L440.8 558.6L438.1 557.3L435.6 556.1L433.3 555.0L431.2 554.1L429.4 553.3L428.0 552.7Z" fill="#A83CC4" opacity="0.40"/>
<path d="M384.0 511.3L384.5 511.5L385.2 511.8L386.0 512.1L387.0 512.5L388.2 512.8L389.6 513.1L391.2 513.2L393.1 513.1L395.3 512.7L397.9 512.0L400.9 511.2L403.9 510.2L406.8 509.2L409.5 508.3L411.7 507.5L413.3 506.9L413.1 505.9L411.4 506.1L409.0 506.4L406.2 506.8L403.2 507.2L400.1 507.7L397.1 508.2L394.5 508.7L392.5 509.0L390.9 509.3L389.5 509.5L388.3 509.7L387.2 509.9L386.3 510.0L385.4 510.1L384.7 510.2L384.0 510.3Z" fill="#A83CC4" opacity="0.50"/>
<path d="M427.6 522.9L427.7 524.5L427.8 526.0L428.2 527.1L428.8 527.7L429.7 527.8L430.8 527.4L432.0 526.7L433.4 525.8L433.9 524.9L433.8 523.3L433.6 521.8L433.2 520.7L432.6 520.1L431.8 520.0L430.7 520.3L429.4 521.1L428.0 522.0Z" fill="#A83CC4" opacity="0.85"/>
<path d="M388.1 550.6L388.3 552.8L388.7 554.7L389.3 556.2L390.2 557.1L391.5 557.5L393.1 557.2L394.9 556.6L396.9 555.7L397.4 554.9L397.2 552.7L396.8 550.8L396.2 549.3L395.3 548.3L394.1 548.0L392.5 548.2L390.6 548.9L388.6 549.7Z" fill="#A83CC4" opacity="0.80"/>
<path d="M452.4 544.1L452.7 545.3L453.1 546.3L453.6 547.2L454.2 547.7L455.0 547.9L456.0 547.8L457.1 547.5L458.2 547.0L458.7 546.1L458.4 544.9L458.0 543.8L457.5 542.9L456.9 542.4L456.0 542.2L455.1 542.3L454.0 542.7L452.8 543.2Z" fill="#A83CC4" opacity="0.70"/>
<path d="M424.7 574.0L425.3 575.6L426.0 577.1L426.8 578.2L427.8 578.9L429.0 579.1L430.3 578.9L431.9 578.4L433.4 577.6L433.8 576.7L433.2 575.1L432.5 573.6L431.7 572.5L430.7 571.8L429.5 571.6L428.2 571.8L426.7 572.4L425.1 573.1Z" fill="#A83CC4" opacity="0.75"/>
<path d="M456.8 509.0L457.5 510.8L458.2 512.3L459.0 513.4L460.0 514.1L461.2 514.2L462.6 513.7L464.0 513.0L465.6 512.0L465.9 511.0L465.3 509.3L464.6 507.8L463.7 506.6L462.7 506.0L461.5 505.9L460.2 506.3L458.7 507.1L457.2 508.1Z" fill="#A83CC4" opacity="0.55"/>
<path d="M465.4 557.8L466.1 559.0L467.2 560.6L468.4 562.5L469.8 564.5L471.3 566.6L472.8 568.6L474.2 570.4L475.3 572.0L476.4 573.5L477.4 575.2L478.5 576.9L479.5 578.6L480.5 580.3L481.4 581.7L482.2 583.0L482.8 583.9L483.7 583.6L483.5 582.5L483.3 581.0L483.0 579.3L482.6 577.4L482.1 575.3L481.5 573.2L480.6 571.2L479.5 569.2L478.2 567.3L476.5 565.4L474.6 563.6L472.6 561.9L470.7 560.4L468.8 559.0L467.3 558.0L466.1 557.1Z" fill="#A83CC4" opacity="0.30"/>
<path d="M412.8 524.2L413.9 525.6L415.3 527.4L417.0 529.6L418.9 532.0L421.0 534.5L423.0 536.9L425.0 539.1L426.9 540.9L428.6 542.5L430.4 544.0L432.2 545.5L433.9 546.8L435.6 548.0L437.0 549.0L438.2 549.9L439.2 550.6L439.8 549.8L439.0 549.0L437.9 547.9L436.6 546.7L435.2 545.3L433.6 543.9L432.0 542.3L430.3 540.7L428.7 539.0L427.0 537.2L425.0 535.1L422.8 532.8L420.6 530.5L418.5 528.4L416.5 526.4L414.8 524.8L413.6 523.6Z" fill="#A83CC4" opacity="0.45"/>
<path d="M383.7 563.7L384.6 564.3L385.7 565.1L387.0 565.9L388.5 566.9L390.1 567.9L391.7 569.1L393.3 570.3L394.9 571.6L396.6 573.0L398.4 574.7L400.3 576.4L402.3 578.3L404.3 580.1L406.2 581.7L408.0 583.3L409.6 584.5L411.0 585.6L412.2 586.5L413.4 587.4L414.4 588.1L415.3 588.7L416.1 589.2L416.7 589.6L417.3 590.0L417.9 589.2L417.4 588.8L416.8 588.2L416.1 587.6L415.3 586.9L414.4 586.1L413.3 585.2L412.2 584.1L411.0 583.0L409.5 581.6L407.9 579.9L406.1 578.2L404.2 576.3L402.2 574.4L400.2 572.7L398.2 571.0L396.4 569.6L394.7 568.4L392.9 567.3L391.1 566.3L389.4 565.4L387.8 564.6L386.3 563.9L385.2 563.3L384.3 562.9Z" fill="#A83CC4" opacity="0.40"/>
<path d="M437.8 568.9L438.0 569.3L438.2 569.9L438.4 570.5L438.7 571.2L439.0 571.9L439.4 572.5L439.7 573.0L440.1 573.3L440.6 573.6L441.2 573.7L441.9 573.8L442.8 573.6L443.7 573.3L444.5 573.0L445.3 572.7L445.8 572.5L446.3 571.6L446.1 571.0L445.9 570.3L445.7 569.4L445.4 568.5L445.0 567.7L444.4 567.1L443.9 566.7L443.2 566.4L442.6 566.4L441.9 566.4L441.1 566.6L440.4 566.8L439.7 567.1L439.1 567.5L438.6 567.7L438.2 568.0Z" fill="#A83CC4" opacity="0.80"/>
<path d="M444.3 554.2L444.4 554.7L444.5 555.3L444.6 556.0L444.8 556.7L445.0 557.5L445.3 558.2L445.7 558.8L446.1 559.3L446.6 559.8L447.3 560.2L448.1 560.5L449.0 560.7L450.0 560.8L450.9 560.8L451.7 560.8L452.3 560.8L452.9 560.0L452.8 559.4L452.7 558.6L452.5 557.7L452.3 556.8L451.9 555.9L451.5 555.2L450.9 554.6L450.4 554.1L449.7 553.8L449.0 553.6L448.3 553.5L447.5 553.4L446.7 553.4L446.0 553.4L445.4 553.4L444.9 553.4Z" fill="#A83CC4" opacity="0.75"/>
<path d="M411.5 535.3L411.6 535.7L411.9 536.2L412.1 536.8L412.4 537.4L412.7 538.0L413.0 538.6L413.4 539.0L413.7 539.3L414.1 539.6L414.6 539.9L415.3 540.2L416.0 540.4L416.8 540.5L417.6 540.5L418.2 540.6L418.7 540.6L419.4 539.9L419.3 539.4L419.2 538.8L419.1 538.0L418.9 537.2L418.6 536.4L418.2 535.7L417.7 535.2L417.1 534.7L416.5 534.4L415.8 534.2L415.0 534.1L414.3 534.1L413.6 534.1L412.9 534.2L412.4 534.3L412.0 534.4Z" fill="#A83CC4" opacity="0.75"/>
<path d="M386.7 546.2L386.8 546.8L387.0 547.5L387.3 548.3L387.6 549.1L387.9 549.9L388.3 550.6L388.7 551.2L389.2 551.6L389.7 551.9L390.4 552.2L391.2 552.3L392.2 552.3L393.1 552.3L394.0 552.2L394.8 552.1L395.4 552.0L396.0 551.2L395.9 550.7L395.8 549.9L395.6 549.0L395.4 548.0L395.0 547.1L394.6 546.4L394.0 545.7L393.4 545.2L392.7 544.9L391.9 544.7L391.0 544.7L390.1 544.7L389.2 544.9L388.4 545.0L387.7 545.2L387.2 545.4Z" fill="#A83CC4" opacity="0.80"/>
<path d="M398.4 550.6L398.7 551.2L399.0 551.8L399.5 552.6L399.9 553.4L400.5 554.1L401.0 554.8L401.5 555.2L402.0 555.5L402.5 555.7L403.2 555.8L404.0 555.9L404.8 555.9L405.7 555.9L406.5 555.8L407.3 555.8L407.8 555.7L408.4 554.9L408.2 554.4L408.1 553.7L407.9 552.9L407.6 552.0L407.2 551.2L406.7 550.4L406.1 549.7L405.4 549.2L404.6 548.9L403.7 548.7L402.8 548.6L401.8 548.8L400.9 549.0L400.0 549.3L399.3 549.5L398.8 549.7Z" fill="#A83CC4" opacity="0.80"/>
<path d="M389.6 525.8L389.9 526.3L390.3 526.9L390.7 527.6L391.2 528.4L391.7 529.1L392.3 529.7L392.9 530.2L393.4 530.6L394.0 530.9L394.8 531.1L395.7 531.2L396.6 531.2L397.6 531.2L398.5 531.1L399.2 531.0L399.8 530.9L400.3 530.0L400.1 529.5L399.8 528.8L399.5 527.9L399.0 527.1L398.5 526.2L397.9 525.5L397.2 524.9L396.5 524.5L395.7 524.2L394.8 524.1L393.9 524.1L392.9 524.2L392.1 524.3L391.2 524.5L390.6 524.7L390.0 524.9Z" fill="#A83CC4" opacity="0.75"/>
<path d="M405.7 541.9L405.9 542.3L406.2 542.9L406.5 543.5L406.9 544.2L407.4 544.8L407.8 545.4L408.3 545.9L408.7 546.2L409.3 546.5L409.9 546.8L410.7 546.9L411.5 547.0L412.4 547.0L413.2 547.0L413.9 547.0L414.4 546.9L414.9 546.1L414.8 545.6L414.6 545.0L414.3 544.2L414.0 543.4L413.6 542.6L413.0 541.9L412.5 541.4L411.8 541.0L411.1 540.7L410.3 540.5L409.5 540.4L408.7 540.5L407.9 540.6L407.2 540.7L406.6 540.9L406.1 541.0Z" fill="#A83CC4" opacity="0.70"/>
<path d="M420.2 546.2L420.4 546.7L420.7 547.3L421.0 548.1L421.3 548.8L421.7 549.6L422.1 550.2L422.5 550.7L422.9 551.1L423.4 551.4L424.0 551.7L424.7 552.0L425.5 552.2L426.2 552.4L427.0 552.5L427.7 552.6L428.2 552.7L428.9 552.0L428.8 551.5L428.8 550.9L428.7 550.1L428.5 549.3L428.2 548.4L427.9 547.6L427.4 546.9L426.8 546.3L426.1 545.9L425.3 545.5L424.5 545.3L423.6 545.2L422.7 545.2L421.9 545.3L421.3 545.3L420.8 545.4Z" fill="#A83CC4" opacity="0.70"/>
<path d="M395.1 534.8L396.2 536.0L397.6 537.7L399.3 539.7L401.2 542.0L403.2 544.3L405.2 546.7L407.2 549.1L409.1 551.2L410.9 553.5L412.9 555.9L415.1 558.4L417.2 560.8L419.3 563.0L421.2 565.0L422.8 566.7L424.0 568.0L424.8 567.3L423.9 565.9L422.6 563.9L421.0 561.7L419.2 559.1L417.3 556.5L415.3 554.0L413.2 551.5L411.3 549.3L409.3 547.2L407.1 545.0L404.9 542.7L402.7 540.6L400.6 538.5L398.7 536.7L397.1 535.2L395.9 534.1Z" fill="#A83CC4" opacity="0.49"/>
<path d="M373.1 521.1L374.1 521.8L375.5 522.7L377.1 523.8L378.9 525.0L380.7 526.2L382.6 527.4L384.4 528.6L386.1 529.7L387.7 530.7L389.4 531.8L391.1 532.9L392.8 533.9L394.4 534.9L395.8 535.7L397.0 536.4L398.0 536.9L398.5 536.0L397.6 535.4L396.5 534.6L395.1 533.7L393.6 532.6L392.0 531.5L390.3 530.4L388.6 529.4L387.0 528.3L385.3 527.3L383.4 526.2L381.5 525.0L379.6 523.8L377.7 522.7L376.1 521.7L374.7 520.9L373.6 520.3Z" fill="#A83CC4" opacity="0.59"/>
<path d="M414.9 542.2L416.1 543.3L417.7 544.7L419.5 546.4L421.7 548.3L423.9 550.2L426.3 552.2L428.6 554.2L430.8 556.1L433.2 557.9L435.8 560.0L438.5 562.1L441.2 564.2L443.8 566.1L446.2 567.9L448.2 569.3L449.7 570.4L450.3 569.6L448.9 568.4L447.0 566.8L444.8 564.9L442.3 562.7L439.7 560.5L437.1 558.3L434.6 556.2L432.2 554.3L430.0 552.5L427.6 550.6L425.2 548.7L422.8 546.9L420.5 545.2L418.5 543.7L416.8 542.4L415.5 541.4Z" fill="#A83CC4" opacity="0.31"/>
<path d="M391.4 562.0L392.6 563.2L394.3 564.9L396.2 566.8L398.5 568.9L400.9 571.1L403.3 573.2L405.8 575.2L408.1 577.1L410.4 578.9L412.8 580.8L415.4 582.8L417.9 584.6L420.3 586.4L422.4 588.0L424.3 589.3L425.6 590.3L426.3 589.6L425.1 588.4L423.5 586.8L421.5 584.9L419.4 582.9L417.1 580.7L414.8 578.5L412.4 576.4L410.2 574.5L408.0 572.6L405.5 570.6L402.9 568.6L400.3 566.7L397.7 565.0L395.4 563.5L393.5 562.2L392.0 561.2Z" fill="#A83CC4" opacity="0.44"/>
<path d="M443.1 554.0L444.1 554.9L445.4 556.2L447.0 557.7L448.7 559.3L450.6 561.0L452.6 562.7L454.6 564.3L456.6 565.7L458.7 567.1L460.9 568.4L463.3 569.8L465.7 571.1L468.0 572.2L470.0 573.3L471.8 574.2L473.1 574.8L473.6 574.0L472.4 573.1L470.8 572.0L468.9 570.8L466.7 569.3L464.5 567.8L462.3 566.3L460.1 564.9L458.1 563.5L456.2 562.2L454.2 560.7L452.1 559.2L450.1 557.7L448.1 556.3L446.4 555.0L444.9 554.0L443.8 553.2Z" fill="#A83CC4" opacity="0.55"/>
<path d="M363.2 500.0L364.7 501.8L366.7 504.2L369.1 507.0L371.7 510.1L374.5 513.3L377.4 516.5L380.3 519.6L383.0 522.4L385.7 525.1L388.6 527.9L391.7 530.7L394.7 533.4L397.6 535.9L400.3 538.1L402.5 540.0L404.1 541.4L404.8 540.7L403.3 539.1L401.3 537.0L398.9 534.6L396.2 531.8L393.3 529.0L390.4 526.1L387.6 523.2L384.9 520.6L382.2 517.8L379.2 514.8L376.2 511.8L373.2 508.7L370.3 505.8L367.7 503.2L365.5 501.0L363.9 499.4Z" fill="#A83CC4" opacity="0.32"/>
<path d="M385.4 576.0L386.3 576.9L387.4 578.0L388.8 579.3L390.4 580.8L392.1 582.4L393.8 583.9L395.6 585.5L397.3 586.9L399.1 588.4L401.2 590.0L403.4 591.6L405.6 593.1L407.8 594.6L409.8 595.8L411.5 596.9L412.8 597.6L413.4 596.9L412.4 595.8L411.0 594.3L409.4 592.6L407.5 590.8L405.5 588.9L403.5 587.1L401.5 585.4L399.6 583.9L397.8 582.6L395.9 581.3L393.9 580.0L391.9 578.8L390.1 577.6L388.4 576.7L387.1 575.9L386.0 575.2Z" fill="#A83CC4" opacity="0.35"/>
<path d="M387.3 505.2L388.9 506.3L391.0 507.9L393.4 509.7L396.2 511.7L399.2 513.8L402.2 516.0L405.3 518.0L408.1 519.8L411.1 521.6L414.3 523.5L417.6 525.5L420.9 527.4L424.1 529.1L426.9 530.7L429.3 532.1L431.1 533.1L431.6 532.2L429.9 531.1L427.6 529.7L424.8 528.0L421.7 526.1L418.4 524.1L415.2 522.1L412.0 520.1L409.1 518.3L406.3 516.4L403.3 514.4L400.2 512.4L397.2 510.4L394.3 508.5L391.7 506.8L389.5 505.4L387.9 504.3Z" fill="#A83CC4" opacity="0.43"/>
<path d="M372.9 568.6L374.3 570.2L376.2 572.4L378.5 574.9L381.1 577.6L384.0 580.4L387.0 583.2L390.0 585.8L392.9 588.2L395.8 590.7L399.0 593.2L402.4 595.9L405.7 598.5L408.9 600.9L411.8 603.1L414.2 604.9L416.0 606.2L416.7 605.5L415.1 603.9L412.9 601.8L410.3 599.3L407.4 596.5L404.3 593.6L401.2 590.7L398.2 587.9L395.4 585.4L392.6 582.8L389.6 580.2L386.5 577.5L383.4 575.0L380.4 572.7L377.6 570.7L375.3 569.1L373.5 567.9Z" fill="#A83CC4" opacity="0.49"/>
<path d="M364.5 498.9L366.0 499.9L368.0 501.2L370.3 502.7L372.9 504.4L375.7 506.2L378.5 507.9L381.3 509.6L384.0 511.2L386.7 512.7L389.6 514.4L392.7 516.0L395.7 517.5L398.7 518.9L401.4 520.0L403.6 521.0L405.3 521.7L405.8 520.8L404.2 519.8L402.2 518.5L399.7 517.0L396.9 515.3L393.9 513.7L390.8 512.1L387.9 510.5L385.2 509.1L382.5 507.6L379.6 506.1L376.7 504.4L373.8 502.9L371.1 501.4L368.7 500.0L366.6 498.9L365.0 498.1Z" fill="#A83CC4" opacity="0.44"/>
<path d="M401.1 542.0L402.1 542.9L403.3 544.2L404.8 545.7L406.5 547.3L408.3 549.1L410.0 550.8L411.7 552.4L413.3 553.9L414.8 555.3L416.4 556.7L418.0 558.1L419.5 559.5L421.0 560.7L422.4 561.8L423.5 562.7L424.4 563.4L425.1 562.7L424.3 561.9L423.3 560.8L422.2 559.5L420.8 558.1L419.4 556.6L417.9 555.1L416.3 553.6L414.8 552.2L413.2 550.8L411.4 549.3L409.6 547.7L407.7 546.1L405.8 544.6L404.2 543.2L402.8 542.1L401.8 541.2Z" fill="#A83CC4" opacity="0.36"/>
<path d="M449.8 504.2L451.6 505.4L454.1 507.0L457.1 508.9L460.3 511.0L463.8 513.2L467.3 515.5L470.7 517.7L473.8 519.8L477.0 521.8L480.4 524.1L483.8 526.3L487.3 528.6L490.5 530.6L493.5 532.5L496.0 534.0L497.8 535.1L498.4 534.3L496.6 533.0L494.2 531.3L491.4 529.3L488.2 527.1L484.8 524.8L481.4 522.5L478.0 520.3L474.8 518.3L471.6 516.3L468.2 514.1L464.6 512.0L461.1 509.8L457.7 507.8L454.7 506.0L452.2 504.5L450.3 503.3Z" fill="#A83CC4" opacity="0.31"/>
<path d="M373.6 549.9L374.9 551.1L376.6 552.6L378.7 554.5L381.0 556.5L383.5 558.6L386.1 560.6L388.7 562.6L391.2 564.4L393.7 566.2L396.5 568.2L399.4 570.2L402.3 572.3L405.1 574.2L407.6 575.9L409.7 577.3L411.2 578.3L411.9 577.5L410.4 576.3L408.6 574.6L406.3 572.6L403.8 570.3L401.1 568.0L398.4 565.7L395.8 563.5L393.3 561.5L390.9 559.7L388.2 557.7L385.5 555.9L382.8 554.1L380.1 552.5L377.8 551.1L375.7 550.0L374.2 549.1Z" fill="#A83CC4" opacity="0.32"/>
<path d="M408.3 556.5L409.2 558.2L410.3 560.5L411.6 563.2L413.1 566.2L414.8 569.3L416.5 572.5L418.2 575.5L419.8 578.2L421.6 580.8L423.4 583.6L425.4 586.4L427.3 589.1L429.2 591.7L430.9 594.0L432.3 595.9L433.3 597.3L434.2 596.8L433.2 595.2L431.9 593.2L430.4 590.9L428.6 588.2L426.8 585.4L425.0 582.6L423.2 579.7L421.6 577.1L420.0 574.4L418.3 571.4L416.5 568.3L414.7 565.3L413.0 562.4L411.5 559.8L410.2 557.7L409.2 556.0Z" fill="#A83CC4" opacity="0.30"/>
<path d="M392.0 491.9L393.1 493.2L394.6 495.0L396.3 497.0L398.3 499.3L400.5 501.6L402.7 504.0L404.9 506.3L407.1 508.5L409.3 510.6L411.9 512.8L414.6 515.0L417.3 517.2L420.0 519.1L422.4 520.9L424.5 522.3L426.0 523.4L426.7 522.6L425.4 521.2L423.8 519.4L421.7 517.1L419.5 514.7L417.1 512.2L414.6 509.8L412.1 507.5L409.8 505.5L407.6 503.5L405.1 501.4L402.7 499.3L400.2 497.3L397.9 495.4L395.8 493.7L394.0 492.3L392.6 491.2Z" fill="#A83CC4" opacity="0.59"/>
<path d="M426.5 542.0L427.1 542.9L427.9 544.0L428.9 545.4L430.0 546.9L431.2 548.5L432.4 550.1L433.7 551.8L434.9 553.3L436.3 555.0L437.8 556.7L439.5 558.6L441.2 560.4L443.1 561.9L444.9 563.2L446.4 564.3L447.6 565.0L448.3 564.3L447.6 563.1L446.7 561.5L445.6 559.6L444.2 557.7L442.5 555.8L440.8 554.0L439.2 552.3L437.7 550.8L436.2 549.4L434.7 548.0L433.2 546.6L431.7 545.3L430.3 544.1L429.1 543.0L428.0 542.1L427.2 541.4Z" fill="#A83CC4" opacity="0.51"/>
<path d="M366.4 551.7L367.9 552.2L369.8 552.9L372.1 553.7L374.6 554.5L377.3 555.4L380.0 556.4L382.5 557.3L384.8 558.1L387.0 559.0L389.3 560.1L391.7 561.1L394.1 562.1L396.4 562.9L398.4 563.6L400.2 564.2L401.5 564.7L401.9 563.8L400.8 563.0L399.2 562.0L397.4 560.8L395.3 559.6L393.0 558.4L390.6 557.2L388.2 556.2L385.8 555.3L383.4 554.6L380.7 553.8L378.0 553.1L375.2 552.5L372.6 551.9L370.2 551.5L368.2 551.1L366.7 550.7Z" fill="#A83CC4" opacity="0.52"/>
<path d="M422.5 546.7L424.1 548.1L426.3 549.9L428.9 552.1L431.7 554.6L434.7 557.2L437.8 559.7L440.7 562.3L443.4 564.6L446.1 566.9L448.9 569.4L451.8 571.9L454.7 574.3L457.5 576.6L460.1 578.5L462.3 580.2L463.9 581.4L464.6 580.6L463.2 579.1L461.4 577.1L459.2 574.7L456.8 572.1L454.1 569.4L451.2 566.8L448.3 564.3L445.6 562.0L442.8 559.8L439.6 557.4L436.4 555.1L433.1 552.8L430.0 550.6L427.2 548.7L424.9 547.1L423.1 545.9Z" fill="#A83CC4" opacity="0.57"/>
<path d="M389.9 553.9L391.1 555.3L392.6 557.3L394.4 559.6L396.4 562.2L398.6 564.8L400.8 567.6L403.0 570.2L405.1 572.5L407.3 574.9L409.7 577.4L412.2 579.8L414.7 582.2L417.1 584.4L419.3 586.4L421.2 588.1L422.6 589.3L423.3 588.6L422.1 587.2L420.6 585.2L418.7 582.9L416.6 580.4L414.3 577.8L412.0 575.2L409.7 572.6L407.5 570.3L405.4 568.0L403.0 565.6L400.6 563.1L398.2 560.6L395.9 558.3L393.8 556.2L392.0 554.5L390.7 553.2Z" fill="#A83CC4" opacity="0.32"/>
<path d="M418.9 524.6L420.7 525.6L423.0 527.0L425.8 528.6L428.8 530.4L432.1 532.3L435.4 534.2L438.6 536.0L441.6 537.6L444.6 539.2L447.9 540.9L451.3 542.5L454.7 544.1L457.9 545.4L460.9 546.6L463.4 547.6L465.2 548.3L465.7 547.5L464.0 546.3L461.8 544.8L459.2 543.1L456.2 541.2L453.0 539.3L449.7 537.4L446.5 535.7L443.4 534.2L440.3 532.7L436.9 531.1L433.4 529.6L430.0 528.1L426.7 526.7L423.8 525.5L421.3 524.5L419.4 523.7Z" fill="#A83CC4" opacity="0.33"/>
<path d="M362.0 542.4L363.6 543.7L365.6 545.3L368.1 547.3L370.9 549.3L374.0 551.3L377.2 553.2L380.3 555.0L383.3 556.6L386.2 558.2L389.4 559.8L392.7 561.5L396.0 563.1L399.1 564.6L401.9 565.9L404.2 567.0L406.0 567.8L406.5 567.0L404.8 565.9L402.7 564.5L400.1 562.8L397.2 560.9L394.2 558.9L391.1 556.9L388.0 555.0L385.2 553.3L382.4 551.5L379.3 549.6L376.1 547.7L372.9 546.0L369.8 544.5L366.9 543.2L364.4 542.2L362.6 541.5Z" fill="#A83CC4" opacity="0.38"/>
<path d="M383.7 551.3L384.5 552.2L385.6 553.6L387.0 555.1L388.5 556.8L390.1 558.6L391.8 560.4L393.5 562.1L395.2 563.6L396.9 565.0L398.9 566.5L400.9 567.9L403.0 569.1L405.0 570.2L406.9 571.0L408.5 571.8L409.7 572.3L410.2 571.5L409.3 570.6L408.0 569.4L406.5 568.0L404.7 566.6L402.8 565.1L400.9 563.7L399.0 562.3L397.2 561.1L395.6 559.8L393.7 558.3L391.9 556.8L390.0 555.2L388.3 553.8L386.7 552.5L385.4 551.4L384.4 550.5Z" fill="#A83CC4" opacity="0.43"/>
<path d="M378.3 542.6L379.8 544.1L382.0 546.2L384.5 548.7L387.3 551.5L390.3 554.3L393.4 557.1L396.3 559.8L399.1 562.2L401.7 564.5L404.6 566.9L407.5 569.4L410.3 571.7L413.0 573.9L415.4 575.9L417.4 577.6L419.0 578.8L419.6 578.1L418.2 576.7L416.3 574.9L414.1 572.7L411.6 570.3L408.9 567.8L406.1 565.2L403.4 562.6L400.8 560.3L398.1 557.8L395.1 555.2L392.0 552.4L388.8 549.8L385.8 547.3L383.0 545.1L380.7 543.2L378.9 541.8Z" fill="#A83CC4" opacity="0.47"/>
<path d="M368.8 524.8L370.1 526.7L371.8 529.1L373.8 532.0L376.2 535.2L378.8 538.4L381.5 541.6L384.2 544.6L386.7 547.3L389.1 550.0L391.7 552.8L394.4 555.6L397.1 558.4L399.6 561.0L401.8 563.4L403.8 565.3L405.2 566.8L406.0 566.2L404.8 564.5L403.1 562.3L401.2 559.7L399.1 556.7L396.8 553.6L394.4 550.5L392.0 547.5L389.7 544.7L387.3 541.8L384.7 538.8L381.9 535.7L379.0 532.7L376.1 530.0L373.5 527.6L371.2 525.6L369.5 524.1Z" fill="#A83CC4" opacity="0.38"/>
<path d="M391.2 510.8L392.5 512.1L394.2 513.9L396.2 515.9L398.6 518.2L401.0 520.5L403.6 522.9L406.1 525.1L408.5 527.2L410.9 529.2L413.6 531.4L416.4 533.6L419.1 535.7L421.8 537.7L424.2 539.5L426.2 541.0L427.8 542.1L428.4 541.4L427.1 540.0L425.4 538.2L423.3 536.0L421.0 533.6L418.5 531.1L416.0 528.6L413.5 526.3L411.1 524.2L408.6 522.1L406.0 520.0L403.2 517.9L400.4 515.9L397.8 514.1L395.4 512.4L393.3 511.1L391.8 510.1Z" fill="#A83CC4" opacity="0.59"/>
<path d="M366.2 483.6L367.5 485.3L369.1 487.7L371.1 490.5L373.3 493.6L375.7 496.9L378.1 500.2L380.6 503.3L383.0 506.3L385.5 509.1L388.2 512.1L391.1 515.2L394.1 518.1L397.0 520.7L399.6 523.1L401.8 525.1L403.5 526.6L404.2 525.9L402.8 524.2L400.9 521.9L398.6 519.2L396.1 516.2L393.3 513.1L390.5 510.0L387.8 507.0L385.3 504.2L382.9 501.5L380.3 498.4L377.6 495.3L375.0 492.3L372.5 489.4L370.3 486.8L368.4 484.6L367.0 483.0Z" fill="#A83CC4" opacity="0.39"/>
<path d="M361.3 498.2L363.0 499.4L365.2 501.0L367.8 502.9L370.7 504.9L373.8 507.2L377.0 509.4L380.1 511.6L383.0 513.7L386.0 515.9L389.3 518.2L392.6 520.7L396.0 523.1L399.2 525.4L402.1 527.4L404.5 529.1L406.3 530.4L406.9 529.6L405.1 528.3L402.8 526.5L400.0 524.3L396.8 521.9L393.5 519.4L390.2 516.9L387.0 514.6L384.0 512.4L381.0 510.3L377.9 508.1L374.7 505.9L371.5 503.8L368.5 501.8L365.9 500.0L363.6 498.5L361.9 497.4Z" fill="#A83CC4" opacity="0.49"/>
<path d="M408.0 542.7L409.7 544.1L411.9 546.0L414.6 548.3L417.6 550.8L420.8 553.4L424.0 555.9L427.2 558.4L430.0 560.6L432.8 562.8L435.8 565.1L438.7 567.5L441.7 569.8L444.4 572.0L446.9 573.9L449.0 575.6L450.6 576.8L451.2 576.0L449.7 574.7L447.7 573.0L445.3 570.9L442.7 568.6L439.8 566.2L436.9 563.7L434.0 561.3L431.3 559.0L428.5 556.7L425.3 554.3L422.1 551.7L418.8 549.3L415.7 547.0L412.8 544.9L410.4 543.2L408.6 541.9Z" fill="#A83CC4" opacity="0.44"/>
<path d="M369.3 533.1L370.3 534.1L371.7 535.3L373.3 536.8L375.1 538.5L377.0 540.2L379.0 541.9L380.9 543.5L382.8 545.0L384.7 546.4L386.8 547.9L389.0 549.3L391.2 550.7L393.4 551.9L395.3 552.9L396.9 553.8L398.2 554.4L398.7 553.6L397.7 552.7L396.3 551.5L394.6 550.1L392.7 548.6L390.6 547.0L388.5 545.4L386.5 544.0L384.6 542.6L382.7 541.3L380.6 539.8L378.5 538.3L376.4 536.8L374.4 535.4L372.6 534.2L371.1 533.1L370.0 532.3Z" fill="#A83CC4" opacity="0.48"/>
<path d="M379.4 556.7L381.1 558.1L383.4 560.0L386.2 562.2L389.2 564.6L392.5 567.1L395.9 569.5L399.3 571.9L402.6 573.9L405.9 575.9L409.6 577.8L413.5 579.7L417.3 581.6L420.9 583.2L424.2 584.7L427.0 585.9L429.1 586.9L429.5 586.0L427.6 584.8L425.0 583.2L421.9 581.3L418.5 579.2L414.9 577.1L411.2 574.9L407.7 572.8L404.5 570.8L401.2 568.8L397.8 566.7L394.3 564.5L390.8 562.4L387.4 560.3L384.4 558.5L381.9 557.0L380.0 555.9Z" fill="#A83CC4" opacity="0.34"/>
<path d="M403.6 568.8L405.5 570.1L408.1 571.8L411.2 573.7L414.6 575.9L418.3 578.1L422.1 580.2L425.7 582.2L429.1 584.0L432.4 585.6L436.0 587.3L439.6 589.0L443.2 590.6L446.6 592.2L449.6 593.5L452.1 594.6L454.1 595.5L454.5 594.6L452.7 593.6L450.2 592.2L447.3 590.7L444.1 588.9L440.6 587.0L437.1 585.2L433.6 583.3L430.4 581.5L427.1 579.7L423.4 577.7L419.6 575.7L415.8 573.7L412.2 571.9L408.9 570.3L406.1 568.9L404.0 568.0Z" fill="#A83CC4" opacity="0.50"/>
<path d="M424.8 555.9L426.0 557.4L427.6 559.2L429.5 561.5L431.7 564.0L434.0 566.6L436.3 569.3L438.5 571.9L440.6 574.3L442.6 576.7L444.8 579.4L447.1 582.1L449.5 584.7L451.8 587.1L454.1 589.1L456.0 590.8L457.4 592.1L458.2 591.5L457.2 589.8L455.9 587.6L454.3 585.0L452.4 582.3L450.3 579.5L447.9 576.7L445.6 574.1L443.4 571.7L441.1 569.4L438.6 567.0L436.0 564.6L433.5 562.2L431.0 560.1L428.8 558.1L426.9 556.5L425.5 555.2Z" fill="#A83CC4" opacity="0.59"/>
<path d="M393.6 558.7L395.5 559.7L397.9 561.0L400.9 562.5L404.1 564.2L407.6 566.1L411.1 567.9L414.5 569.8L417.8 571.5L421.0 573.3L424.6 575.2L428.3 577.2L432.0 579.1L435.5 580.9L438.7 582.5L441.4 583.8L443.4 584.8L443.9 583.9L442.0 582.7L439.5 581.0L436.5 579.1L433.2 577.0L429.6 574.9L425.9 572.8L422.4 570.8L419.0 569.1L415.7 567.4L412.2 565.8L408.5 564.1L405.0 562.5L401.6 561.0L398.5 559.7L396.0 558.6L394.1 557.8Z" fill="#A83CC4" opacity="0.47"/>
<path d="M399.3 481.1L400.2 483.0L401.4 485.6L402.9 488.6L404.5 492.0L406.2 495.5L408.0 499.1L409.8 502.5L411.6 505.7L413.4 508.8L415.5 512.1L417.7 515.4L419.9 518.7L422.0 521.7L423.9 524.4L425.6 526.7L426.8 528.4L427.6 527.8L426.5 526.0L425.1 523.6L423.3 520.8L421.4 517.7L419.3 514.4L417.2 511.0L415.2 507.7L413.3 504.7L411.5 501.6L409.6 498.2L407.7 494.7L405.9 491.2L404.1 488.0L402.5 485.0L401.2 482.5L400.2 480.7Z" fill="#A83CC4" opacity="0.40"/>
<path d="M361.3 505.8L363.3 506.8L365.9 508.1L369.1 509.7L372.6 511.4L376.4 513.1L380.3 514.6L384.0 516.1L387.5 517.4L391.0 518.6L394.7 519.7L398.5 520.9L402.2 522.0L405.7 523.0L408.8 523.9L411.5 524.7L413.5 525.2L413.8 524.3L411.9 523.5L409.3 522.6L406.2 521.4L402.8 520.2L399.2 518.8L395.5 517.4L391.9 516.1L388.5 514.8L385.1 513.4L381.4 511.9L377.5 510.3L373.6 508.9L370.0 507.6L366.6 506.4L363.8 505.5L361.6 504.8Z" fill="#A83CC4" opacity="0.58"/>
<path d="M376.7 537.8L377.8 538.7L379.3 540.0L381.1 541.5L383.1 543.2L385.2 544.9L387.3 546.6L389.4 548.2L391.3 549.7L393.3 551.1L395.3 552.5L397.5 553.9L399.6 555.3L401.6 556.5L403.4 557.7L405.0 558.6L406.1 559.3L406.7 558.5L405.7 557.6L404.4 556.4L402.8 555.0L401.0 553.4L399.0 551.8L397.0 550.2L395.0 548.7L393.1 547.2L391.2 545.8L389.0 544.3L386.7 542.8L384.4 541.3L382.2 540.0L380.2 538.7L378.5 537.7L377.3 537.0Z" fill="#A83CC4" opacity="0.55"/>
<path d="M386.9 522.6L387.6 523.8L388.7 525.5L389.9 527.4L391.3 529.5L392.8 531.6L394.4 533.7L396.0 535.7L397.5 537.4L398.9 539.0L400.4 540.7L401.9 542.4L403.4 544.0L404.8 545.5L406.0 546.8L407.1 548.0L407.9 548.8L408.7 548.2L408.0 547.2L407.1 545.9L406.1 544.4L404.9 542.8L403.7 541.0L402.3 539.1L401.0 537.3L399.7 535.6L398.4 533.8L396.8 531.8L395.1 529.8L393.4 527.8L391.7 526.0L390.1 524.3L388.7 523.0L387.7 522.0Z" fill="#A83CC4" opacity="0.47"/>
<path d="M395.9 539.0L397.5 539.8L399.6 540.8L402.1 542.0L405.0 543.4L408.0 544.8L411.0 546.2L414.1 547.4L417.1 548.5L420.1 549.6L423.4 550.5L426.9 551.4L430.3 552.2L433.6 552.8L436.6 553.3L439.1 553.8L441.0 554.1L441.3 553.1L439.5 552.5L437.1 551.6L434.2 550.7L431.0 549.6L427.6 548.6L424.2 547.6L421.0 546.7L418.0 545.8L415.1 544.8L412.0 543.8L408.8 542.6L405.7 541.5L402.8 540.5L400.2 539.5L398.0 538.7L396.3 538.1Z" fill="#A83CC4" opacity="0.42"/>
<path d="M403.2 532.0L404.4 533.2L406.1 535.0L408.1 537.0L410.3 539.3L412.8 541.6L415.3 543.8L417.8 545.9L420.2 547.8L422.7 549.5L425.3 551.2L428.1 552.8L430.9 554.4L433.6 555.8L436.0 557.1L438.0 558.1L439.5 558.9L440.1 558.0L438.7 556.9L437.0 555.5L434.9 553.8L432.5 551.9L430.1 550.0L427.5 548.0L425.0 546.1L422.7 544.4L420.3 542.6L417.7 540.7L415.0 538.8L412.3 536.9L409.7 535.1L407.3 533.5L405.3 532.2L403.8 531.2Z" fill="#A83CC4" opacity="0.38"/>
<path d="M364.0 525.0L365.8 526.2L368.2 527.9L371.1 529.9L374.3 532.1L377.6 534.4L381.0 536.7L384.2 538.9L387.2 540.9L390.2 543.0L393.3 545.1L396.5 547.3L399.7 549.4L402.7 551.4L405.4 553.2L407.7 554.7L409.4 555.8L410.0 555.0L408.4 553.7L406.2 552.0L403.7 550.0L400.9 547.8L397.8 545.5L394.7 543.2L391.6 541.0L388.6 538.9L385.6 536.9L382.2 534.8L378.7 532.6L375.3 530.5L372.0 528.5L369.0 526.7L366.5 525.3L364.6 524.1Z" fill="#A83CC4" opacity="0.36"/>
<path d="M459.2 501.6L460.1 502.6L461.3 503.9L462.7 505.4L464.3 507.1L466.0 508.9L467.8 510.6L469.6 512.2L471.2 513.8L472.8 515.3L474.5 517.0L476.3 518.8L478.0 520.5L479.7 522.2L481.1 523.6L482.4 524.9L483.3 525.8L484.1 525.1L483.2 524.1L482.1 522.8L480.8 521.1L479.3 519.3L477.7 517.4L476.1 515.6L474.5 513.7L472.9 512.1L471.3 510.4L469.6 508.7L467.7 507.0L465.9 505.4L464.0 504.0L462.4 502.7L461.0 501.6L459.9 500.8Z" fill="#A83CC4" opacity="0.49"/>
<path d="M375.8 505.6L377.0 506.8L378.7 508.3L380.7 510.1L382.9 512.1L385.3 514.2L387.8 516.3L390.2 518.2L392.5 520.1L394.9 521.9L397.4 523.8L400.0 525.9L402.6 527.8L405.1 529.7L407.3 531.4L409.2 532.8L410.6 533.8L411.2 533.1L409.9 531.9L408.2 530.3L406.1 528.4L403.8 526.4L401.4 524.2L398.9 522.0L396.5 519.9L394.2 518.0L391.9 516.1L389.5 514.1L386.9 512.2L384.4 510.3L381.9 508.6L379.7 507.0L377.8 505.8L376.4 504.8Z" fill="#A83CC4" opacity="0.46"/>
<path d="M366.0 544.0L367.9 545.2L370.4 546.8L373.4 548.7L376.7 550.8L380.2 552.9L383.8 555.1L387.2 557.2L390.5 559.1L393.7 560.9L397.1 562.7L400.7 564.6L404.2 566.3L407.5 568.0L410.5 569.4L413.0 570.6L415.0 571.5L415.4 570.6L413.6 569.5L411.2 568.1L408.3 566.5L405.1 564.6L401.7 562.7L398.2 560.8L394.7 558.9L391.5 557.2L388.3 555.4L384.8 553.4L381.1 551.4L377.5 549.3L374.1 547.4L371.0 545.7L368.5 544.2L366.5 543.1Z" fill="#A83CC4" opacity="0.52"/>
<path d="M445.6 508.2L447.4 509.4L449.7 510.9L452.6 512.7L455.7 514.7L459.2 516.6L462.7 518.5L466.2 520.4L469.6 522.0L473.0 523.7L476.7 525.6L480.6 527.5L484.5 529.3L488.2 531.0L491.5 532.6L494.3 533.9L496.4 534.9L496.9 534.0L494.9 532.8L492.2 531.2L489.1 529.3L485.6 527.2L481.9 525.0L478.1 522.9L474.5 520.8L471.2 519.0L467.9 517.2L464.4 515.3L460.8 513.5L457.2 511.9L453.8 510.4L450.7 509.1L448.0 508.1L446.1 507.3Z" fill="#A83CC4" opacity="0.38"/>
<path d="M441.3 526.5L442.5 527.4L444.1 528.7L446.1 530.1L448.2 531.7L450.5 533.4L452.7 535.2L454.9 536.9L457.0 538.6L459.0 540.3L461.1 542.2L463.3 544.3L465.5 546.2L467.6 548.1L469.6 549.7L471.2 551.1L472.4 552.1L473.1 551.4L472.0 550.2L470.6 548.7L468.8 546.8L466.9 544.8L464.7 542.7L462.5 540.7L460.3 538.8L458.2 537.0L456.1 535.4L453.8 533.7L451.4 532.1L449.1 530.5L446.8 529.0L444.8 527.7L443.1 526.5L441.9 525.7Z" fill="#A83CC4" opacity="0.50"/>
<path d="M425.0 533.0L426.5 534.0L428.6 535.3L431.0 536.8L433.7 538.5L436.6 540.3L439.6 542.2L442.5 544.1L445.2 545.8L448.1 547.6L451.1 549.6L454.3 551.7L457.5 553.7L460.6 555.7L463.4 557.4L465.7 558.9L467.4 560.0L468.0 559.1L466.3 557.9L464.0 556.4L461.4 554.5L458.4 552.4L455.3 550.3L452.1 548.1L449.1 546.1L446.2 544.3L443.4 542.5L440.5 540.7L437.5 539.0L434.5 537.2L431.7 535.6L429.2 534.2L427.1 533.0L425.5 532.1Z" fill="#A83CC4" opacity="0.31"/>
<path d="M403.6 540.9L404.4 542.2L405.5 543.8L406.9 545.6L408.5 547.6L410.3 549.5L412.2 551.3L414.1 552.9L415.9 554.4L417.6 555.7L419.4 557.1L421.2 558.4L423.0 559.7L424.6 560.9L426.2 561.9L427.4 562.8L428.4 563.4L429.0 562.7L428.2 561.8L427.2 560.7L425.9 559.4L424.5 557.9L423.0 556.3L421.5 554.7L419.9 553.1L418.4 551.6L416.8 550.0L415.1 548.2L413.2 546.4L411.2 544.7L409.2 543.2L407.2 542.0L405.6 541.0L404.3 540.2Z" fill="#A83CC4" opacity="0.33"/>
<path d="M456.3 524.5L457.7 526.0L459.5 528.0L461.7 530.3L464.1 532.9L466.7 535.6L469.3 538.4L472.0 541.0L474.5 543.5L477.0 545.9L479.8 548.5L482.7 551.1L485.7 553.6L488.5 556.0L491.0 558.1L493.2 559.8L494.8 561.1L495.5 560.4L494.0 558.9L492.1 556.9L489.8 554.5L487.3 551.8L484.6 549.1L481.8 546.3L479.1 543.7L476.5 541.3L474.0 538.9L471.2 536.4L468.4 533.9L465.6 531.4L463.0 529.0L460.6 526.9L458.5 525.1L457.0 523.8Z" fill="#A83CC4" opacity="0.43"/>
<path d="M368.0 549.7L369.3 550.8L370.9 552.3L372.8 554.1L375.0 556.0L377.3 558.1L379.6 560.1L381.9 562.1L383.9 564.0L386.0 565.8L388.2 567.8L390.4 569.8L392.6 571.8L394.7 573.7L396.6 575.4L398.2 576.8L399.4 577.8L400.1 577.1L399.0 576.0L397.5 574.4L395.8 572.6L393.8 570.6L391.7 568.5L389.5 566.3L387.4 564.3L385.3 562.4L383.2 560.6L380.9 558.6L378.5 556.6L376.1 554.7L373.8 552.9L371.7 551.3L370.0 550.0L368.7 548.9Z" fill="#A83CC4" opacity="0.35"/>
<path d="M360.8 566.2L362.6 567.5L364.9 569.2L367.7 571.3L370.7 573.6L374.0 575.9L377.4 578.3L380.6 580.5L383.7 582.5L386.7 584.4L390.0 586.3L393.3 588.2L396.6 590.0L399.8 591.6L402.6 593.0L405.0 594.2L406.8 595.2L407.3 594.3L405.7 593.1L403.5 591.6L400.9 589.8L397.9 587.8L394.8 585.7L391.6 583.6L388.5 581.5L385.5 579.7L382.4 577.8L379.1 575.7L375.6 573.6L372.1 571.5L368.8 569.6L365.8 567.9L363.3 566.4L361.4 565.3Z" fill="#A83CC4" opacity="0.42"/>
<path d="M392.9 569.4L394.6 571.0L396.8 573.2L399.4 575.8L402.4 578.7L405.5 581.7L408.6 584.7L411.7 587.5L414.6 590.1L417.4 592.7L420.5 595.3L423.6 598.0L426.8 600.4L429.9 602.7L432.7 604.6L435.1 606.3L436.9 607.5L437.6 606.7L436.1 605.1L434.1 603.0L431.7 600.6L429.0 597.9L426.1 595.1L423.0 592.4L419.9 589.8L417.0 587.3L414.0 584.9L410.8 582.2L407.4 579.5L404.0 576.8L400.8 574.3L397.8 572.0L395.4 570.1L393.6 568.7Z" fill="#A83CC4" opacity="0.42"/>
<path d="M441.2 550.0L442.9 551.2L445.3 552.7L448.0 554.5L451.1 556.5L454.5 558.6L457.8 560.6L461.1 562.5L464.2 564.2L467.2 565.9L470.5 567.7L473.8 569.5L477.1 571.3L480.2 572.9L483.0 574.4L485.4 575.6L487.2 576.6L487.7 575.7L486.1 574.6L483.9 573.0L481.3 571.2L478.4 569.2L475.3 567.0L472.1 564.9L468.9 562.9L466.0 561.1L462.9 559.3L459.5 557.5L456.0 555.7L452.5 554.0L449.2 552.5L446.1 551.1L443.6 550.0L441.7 549.1Z" fill="#A83CC4" opacity="0.32"/>
<path d="M390.1 491.9L391.6 493.0L393.6 494.5L396.0 496.2L398.7 498.1L401.5 500.1L404.5 502.0L407.4 503.9L410.2 505.5L413.0 507.0L416.1 508.5L419.3 509.9L422.6 511.2L425.7 512.3L428.5 513.3L430.8 514.2L432.6 514.8L433.0 513.9L431.4 513.0L429.2 511.7L426.6 510.3L423.7 508.7L420.7 507.1L417.6 505.4L414.6 503.9L411.8 502.5L409.0 501.0L406.0 499.4L403.0 497.7L400.0 496.1L397.1 494.5L394.5 493.1L392.3 491.9L390.7 491.1Z" fill="#A83CC4" opacity="0.40"/>
<path d="M409.3 533.7L410.3 534.9L411.7 536.7L413.3 538.7L415.1 541.0L416.9 543.4L418.8 545.8L420.6 548.0L422.3 550.1L423.9 552.1L425.5 554.3L427.2 556.4L428.9 558.5L430.7 560.4L432.3 562.0L433.7 563.4L434.7 564.4L435.5 563.8L434.9 562.5L433.9 560.8L432.8 558.8L431.5 556.6L430.0 554.3L428.3 552.1L426.6 550.0L424.9 547.9L423.1 545.9L421.1 543.8L418.9 541.6L416.8 539.5L414.7 537.4L412.8 535.6L411.2 534.1L410.0 533.0Z" fill="#A83CC4" opacity="0.53"/>
<path d="M367.8 544.0L368.9 545.0L370.3 546.3L372.0 547.8L373.9 549.5L376.0 551.2L378.1 553.0L380.2 554.6L382.3 556.2L384.5 557.8L386.9 559.6L389.5 561.4L392.0 563.2L394.4 564.8L396.6 566.4L398.5 567.6L399.9 568.6L400.5 567.8L399.2 566.7L397.5 565.2L395.4 563.5L393.2 561.6L390.8 559.7L388.4 557.7L386.0 555.8L383.9 554.2L381.8 552.6L379.7 550.9L377.4 549.3L375.2 547.8L373.1 546.3L371.2 545.1L369.7 544.0L368.4 543.3Z" fill="#A83CC4" opacity="0.33"/>
<path d="M449.1 539.8L450.6 540.8L452.6 542.1L455.0 543.7L457.6 545.4L460.5 547.2L463.3 549.0L466.0 550.7L468.5 552.2L471.0 553.7L473.6 555.2L476.3 556.6L479.0 557.9L481.6 559.1L483.9 560.1L485.9 560.9L487.4 561.5L487.9 560.6L486.7 559.6L485.0 558.2L483.1 556.6L480.8 554.8L478.4 553.1L475.8 551.4L473.2 549.9L470.6 548.5L468.0 547.1L465.1 545.7L462.1 544.3L459.0 542.9L456.1 541.6L453.4 540.5L451.2 539.6L449.6 538.9Z" fill="#A83CC4" opacity="0.49"/>
<path d="M361.8 536.5L363.5 538.0L365.7 539.9L368.3 542.2L371.3 544.7L374.4 547.3L377.7 550.0L380.8 552.6L383.8 555.1L386.9 557.5L390.3 560.0L393.8 562.7L397.3 565.2L400.6 567.6L403.7 569.8L406.2 571.6L408.1 572.9L408.7 572.1L406.9 570.7L404.5 568.7L401.6 566.4L398.3 563.9L394.9 561.2L391.5 558.5L388.2 555.9L385.1 553.5L382.1 551.1L378.8 548.6L375.5 546.0L372.3 543.5L369.2 541.1L366.5 538.9L364.2 537.1L362.4 535.8Z" fill="#A83CC4" opacity="0.45"/>
<path d="M367.6 573.5L368.9 574.5L370.6 575.9L372.6 577.4L374.8 579.1L377.2 581.0L379.6 582.8L381.9 584.5L384.1 586.1L386.4 587.6L388.8 589.2L391.3 590.8L393.7 592.4L396.1 593.8L398.2 595.0L400.0 596.1L401.4 596.9L402.0 596.0L400.7 595.1L399.1 593.8L397.1 592.3L394.9 590.6L392.6 588.9L390.2 587.1L387.8 585.5L385.6 584.0L383.4 582.5L380.9 580.8L378.4 579.2L375.9 577.6L373.5 576.1L371.4 574.7L369.6 573.6L368.2 572.7Z" fill="#A83CC4" opacity="0.39"/>
<path d="M410.3 519.4L411.1 519.9L412.0 520.7L413.2 521.5L414.5 522.5L415.9 523.5L417.4 524.5L418.8 525.6L420.2 526.6L421.7 527.6L423.3 528.8L424.9 530.1L426.6 531.3L428.3 532.5L429.7 533.6L431.0 534.4L431.9 535.1L432.5 534.3L431.7 533.6L430.5 532.6L429.2 531.4L427.6 530.0L426.0 528.7L424.4 527.3L422.8 526.1L421.4 525.0L420.0 524.0L418.4 523.0L416.9 522.0L415.4 521.1L414.0 520.3L412.7 519.6L411.7 519.0L410.8 518.5Z" fill="#A83CC4" opacity="0.53"/>
<path d="M358.4 574.6L360.3 575.9L362.7 577.6L365.7 579.6L369.0 581.8L372.5 584.2L376.1 586.5L379.6 588.7L383.0 590.7L386.5 592.6L390.2 594.6L394.2 596.6L398.1 598.4L401.9 600.0L405.3 601.4L408.2 602.6L410.4 603.4L410.8 602.5L408.8 601.4L406.1 599.8L402.8 598.0L399.2 596.1L395.4 594.1L391.5 592.1L387.7 590.2L384.3 588.4L380.9 586.6L377.2 584.5L373.6 582.4L369.9 580.3L366.5 578.3L363.5 576.5L360.9 574.9L358.9 573.8Z" fill="#A83CC4" opacity="0.44"/>
<path d="M380.2 530.8L381.2 532.3L382.5 534.3L384.0 536.6L385.7 539.2L387.6 542.0L389.4 544.7L391.2 547.2L392.9 549.5L394.5 551.8L396.2 554.1L397.9 556.4L399.7 558.7L401.4 560.8L402.9 562.7L404.1 564.3L405.1 565.4L405.9 564.9L405.2 563.5L404.2 561.8L403.1 559.7L401.7 557.3L400.3 554.8L398.7 552.3L397.1 549.9L395.5 547.6L393.8 545.3L391.9 542.8L389.8 540.3L387.7 537.8L385.6 535.4L383.7 533.3L382.2 531.5L381.0 530.2Z" fill="#A83CC4" opacity="0.33"/>
<path d="M398.0 513.0L398.9 513.6L400.1 514.3L401.5 515.2L403.1 516.2L404.7 517.2L406.4 518.2L408.1 519.2L409.6 520.2L411.2 521.1L412.9 522.2L414.7 523.3L416.5 524.3L418.2 525.3L419.7 526.2L421.0 527.0L422.0 527.5L422.6 526.7L421.7 526.0L420.6 525.0L419.2 523.8L417.7 522.6L416.1 521.3L414.4 520.0L412.7 518.8L411.1 517.8L409.5 516.8L407.7 515.9L405.9 515.1L404.1 514.3L402.3 513.6L400.8 513.0L399.5 512.5L398.5 512.1Z" fill="#A83CC4" opacity="0.50"/>
<path d="M373.2 545.3L374.8 546.3L377.0 547.5L379.6 549.0L382.5 550.5L385.7 552.0L388.9 553.4L392.0 554.6L394.8 555.6L397.6 556.6L400.5 557.5L403.4 558.4L406.3 559.2L409.0 560.0L411.4 560.6L413.5 561.2L415.0 561.6L415.3 560.7L413.9 560.0L411.9 559.2L409.6 558.2L407.1 557.1L404.3 556.0L401.5 554.8L398.7 553.6L396.0 552.5L393.3 551.3L390.3 550.0L387.1 548.7L383.8 547.5L380.7 546.4L377.8 545.6L375.4 544.9L373.6 544.4Z" fill="#A83CC4" opacity="0.37"/>
<path d="M416.5 520.7L417.4 521.8L418.6 523.2L420.0 525.0L421.6 526.9L423.3 529.0L425.0 531.0L426.7 532.9L428.2 534.7L429.8 536.4L431.5 538.3L433.3 540.1L435.1 541.8L436.8 543.4L438.4 544.9L439.7 546.0L440.8 546.9L441.5 546.3L440.7 545.2L439.7 543.7L438.5 542.0L437.0 540.0L435.5 538.1L433.9 536.1L432.2 534.2L430.6 532.5L428.9 530.8L427.1 529.0L425.1 527.2L423.2 525.4L421.3 523.7L419.7 522.2L418.2 520.9L417.2 520.0Z" fill="#A83CC4" opacity="0.49"/>
<path d="M376.2 498.8L377.1 500.7L378.2 503.1L379.6 506.1L381.1 509.4L382.7 512.9L384.4 516.5L386.2 520.0L387.8 523.3L389.6 526.7L391.6 530.4L393.8 534.2L395.9 537.9L398.0 541.5L400.0 544.6L401.6 547.3L402.8 549.3L403.6 548.8L402.6 546.7L401.2 543.9L399.5 540.6L397.7 537.0L395.7 533.1L393.6 529.3L391.7 525.6L389.9 522.2L388.1 519.0L386.3 515.5L384.4 512.0L382.6 508.6L380.9 505.4L379.4 502.6L378.1 500.2L377.1 498.3Z" fill="#A83CC4" opacity="0.43"/>
<path d="M373.9 541.6L374.7 542.4L375.6 543.4L376.8 544.6L378.1 546.0L379.6 547.4L381.1 548.7L382.7 550.0L384.2 551.1L385.9 552.2L387.7 553.3L389.6 554.3L391.6 555.3L393.5 556.2L395.2 557.0L396.6 557.6L397.6 558.1L398.2 557.3L397.2 556.6L396.0 555.6L394.4 554.5L392.8 553.3L391.0 552.1L389.2 550.8L387.5 549.7L386.0 548.6L384.5 547.5L382.9 546.4L381.3 545.2L379.7 544.1L378.1 543.1L376.7 542.2L375.5 541.4L374.6 540.8Z" fill="#A83CC4" opacity="0.49"/>
<path d="M387.7 507.9L389.5 508.9L391.8 510.3L394.5 511.9L397.6 513.7L400.9 515.6L404.2 517.6L407.6 519.4L410.7 521.2L413.9 523.0L417.5 524.9L421.3 526.9L425.1 528.7L428.7 530.4L432.0 531.8L434.8 533.0L436.9 533.9L437.4 533.0L435.5 531.7L433.0 530.0L430.0 528.0L426.6 525.8L423.0 523.6L419.4 521.5L415.8 519.6L412.4 517.9L409.2 516.3L405.7 514.7L402.2 513.1L398.7 511.5L395.5 510.1L392.5 508.8L390.1 507.8L388.2 507.0Z" fill="#A83CC4" opacity="0.49"/>
<path d="M380.2 525.4L381.0 526.5L382.0 528.1L383.2 529.9L384.6 531.9L386.1 534.0L387.6 536.1L389.2 538.1L390.6 539.9L392.0 541.7L393.5 543.6L395.1 545.6L396.6 547.6L398.1 549.5L399.4 551.1L400.5 552.5L401.4 553.6L402.2 553.0L401.6 551.8L400.7 550.3L399.7 548.4L398.6 546.3L397.3 544.1L396.0 541.9L394.6 539.8L393.3 537.9L391.9 536.0L390.3 534.0L388.5 532.0L386.7 530.2L385.0 528.5L383.4 526.9L382.0 525.7L381.0 524.7Z" fill="#A83CC4" opacity="0.60"/>
<path d="M406.6 553.0L407.5 554.3L408.6 555.9L410.0 557.9L411.6 560.1L413.3 562.3L415.0 564.6L416.7 566.8L418.4 568.8L420.2 570.7L422.2 572.7L424.3 574.7L426.3 576.6L428.3 578.4L430.1 580.0L431.6 581.3L432.8 582.3L433.4 581.6L432.4 580.5L431.0 579.1L429.3 577.4L427.4 575.5L425.4 573.5L423.4 571.5L421.5 569.5L419.8 567.6L418.1 565.7L416.3 563.6L414.5 561.4L412.7 559.2L411.1 557.1L409.6 555.2L408.3 553.6L407.4 552.4Z" fill="#A83CC4" opacity="0.32"/>
</g>
<g filter="url(#b05)">
<path d="M384.0 516.1L385.4 516.5L387.4 517.2L389.7 518.0L392.4 518.8L395.1 519.7L397.8 520.5L400.3 521.3L402.6 522.0L404.6 522.6L406.6 523.1L408.5 523.7L410.3 524.2L412.1 524.7L413.8 525.1L415.5 525.5L417.1 525.8L418.7 526.0L420.3 526.2L421.9 526.3L423.4 526.3L424.7 526.3L425.9 526.3L427.0 526.3L427.8 526.3L427.8 525.9L427.1 525.6L426.2 525.2L425.1 524.7L423.8 524.1L422.5 523.6L421.0 523.0L419.5 522.5L418.0 522.0L416.5 521.5L414.8 521.1L413.1 520.6L411.3 520.2L409.5 519.8L407.5 519.3L405.5 518.9L403.4 518.5L401.1 518.1L398.4 517.7L395.6 517.3L392.8 516.8L390.1 516.5L387.6 516.1L385.6 515.9L384.0 515.7Z" fill="#A83CC4" opacity="0.95"/>
<path d="M383.9 504.3L384.6 505.2L385.7 506.3L386.9 507.6L388.2 509.0L389.7 510.6L391.1 512.1L392.4 513.6L393.7 514.9L394.8 516.2L395.9 517.3L397.0 518.4L398.0 519.5L399.1 520.6L400.1 521.8L401.1 523.1L402.2 524.5L403.2 526.1L404.4 527.8L405.5 529.6L406.6 531.5L407.8 533.5L408.9 535.4L410.0 537.2L411.1 538.9L412.2 540.5L413.3 542.2L414.5 543.9L415.6 545.5L416.6 547.0L417.5 548.3L418.3 549.4L418.9 550.3L419.2 550.1L418.7 549.2L418.0 548.0L417.2 546.6L416.3 545.0L415.3 543.3L414.3 541.6L413.3 539.8L412.4 538.1L411.4 536.4L410.4 534.5L409.3 532.6L408.3 530.6L407.2 528.6L406.0 526.7L404.9 524.9L403.8 523.3L402.7 521.9L401.6 520.6L400.5 519.4L399.3 518.2L398.2 517.2L397.1 516.1L396.0 515.0L394.8 513.9L393.4 512.6L392.0 511.2L390.4 509.8L388.9 508.4L387.4 507.0L386.1 505.8L385.0 504.8L384.1 504.0Z" fill="#A83CC4" opacity="0.70"/>
<path d="M397.7 502.1L398.5 503.2L399.5 504.5L400.7 506.2L402.0 508.0L403.5 509.9L405.0 511.9L406.6 513.8L408.2 515.7L409.8 517.5L411.6 519.4L413.4 521.3L415.3 523.2L417.2 525.1L419.1 526.9L420.9 528.7L422.6 530.5L424.3 532.2L425.9 533.9L427.5 535.6L429.0 537.3L430.5 538.9L432.0 540.5L433.3 541.9L434.6 543.3L435.8 544.6L437.0 545.9L438.1 547.2L439.2 548.3L440.1 549.4L441.0 550.3L441.7 551.1L442.2 551.8L442.5 551.5L442.0 550.8L441.4 550.0L440.6 549.0L439.8 547.8L438.8 546.6L437.8 545.2L436.7 543.9L435.6 542.4L434.4 541.0L433.2 539.4L431.8 537.8L430.4 536.1L428.9 534.3L427.4 532.5L425.8 530.8L424.2 529.0L422.5 527.2L420.7 525.4L418.8 523.5L416.8 521.7L414.9 519.8L413.0 518.0L411.1 516.3L409.4 514.6L407.8 512.8L406.1 511.0L404.4 509.1L402.8 507.3L401.3 505.6L400.0 504.1L398.9 502.8L398.0 501.9Z" fill="#A83CC4" opacity="0.65"/>
<path d="M384.0 551.8L384.6 551.9L385.3 552.0L386.1 552.1L387.0 552.2L388.1 552.4L389.3 552.6L390.8 553.0L392.5 553.5L394.6 554.2L397.0 555.1L399.7 556.0L402.6 557.0L405.6 558.0L408.5 558.9L411.3 559.8L413.9 560.6L416.3 561.3L418.7 562.1L421.1 562.8L423.4 563.5L425.6 564.2L427.7 564.9L429.7 565.5L431.6 566.1L433.3 566.7L434.9 567.4L436.5 568.1L438.0 568.7L439.3 569.4L440.5 569.9L441.5 570.4L442.3 570.8L442.5 570.4L441.8 569.9L441.0 569.2L439.9 568.4L438.8 567.5L437.5 566.5L436.0 565.4L434.5 564.4L432.8 563.4L431.0 562.4L429.1 561.4L427.1 560.4L424.9 559.4L422.7 558.5L420.3 557.5L417.9 556.6L415.4 555.8L412.7 555.0L409.8 554.2L406.8 553.5L403.7 552.9L400.7 552.3L397.8 551.8L395.2 551.5L393.0 551.2L391.1 551.0L389.5 551.0L388.2 551.0L387.0 551.1L386.1 551.2L385.3 551.3L384.6 551.4L384.0 551.4Z" fill="#A83CC4" opacity="0.95"/>
<path d="M396.3 564.9L396.7 565.4L397.1 566.1L397.7 566.8L398.3 567.6L399.1 568.5L399.9 569.4L400.9 570.2L401.9 570.9L402.9 571.5L404.0 572.0L405.1 572.4L406.2 572.8L407.4 573.2L408.8 573.6L410.3 574.1L412.2 574.7L414.6 575.4L417.5 576.3L420.7 577.3L424.2 578.2L427.5 579.1L430.6 579.9L433.2 580.6L435.0 581.0L435.2 580.6L433.5 579.7L431.2 578.4L428.4 576.8L425.4 575.1L422.3 573.4L419.2 571.9L416.5 570.5L414.2 569.5L412.3 568.7L410.7 568.0L409.3 567.5L408.1 567.1L407.0 566.7L406.0 566.4L405.1 566.2L404.1 565.9L403.0 565.7L401.9 565.5L400.9 565.3L399.8 565.1L398.8 565.0L397.9 564.8L397.1 564.7L396.5 564.6Z" fill="#A83CC4" opacity="0.95"/>
<path d="M433.5 538.6L433.9 539.5L434.6 540.7L435.3 542.1L436.2 543.7L437.1 545.3L438.0 546.9L438.9 548.4L439.7 549.6L440.3 550.6L440.8 551.5L441.2 552.3L441.7 553.1L442.3 554.1L443.2 555.1L444.3 556.1L445.8 557.3L447.7 558.7L450.2 560.3L453.0 561.9L456.0 563.6L459.0 565.2L461.7 566.6L464.0 567.7L465.6 568.6L465.9 568.3L464.4 567.1L462.3 565.6L459.9 563.7L457.2 561.8L454.5 559.7L451.9 557.8L449.6 556.1L447.8 554.7L446.6 553.6L445.7 552.7L445.0 552.0L444.5 551.3L444.1 550.6L443.6 549.8L443.0 548.9L442.2 547.8L441.2 546.7L440.1 545.4L438.9 544.0L437.7 542.6L436.5 541.3L435.4 540.1L434.5 539.1L433.8 538.4Z" fill="#A83CC4" opacity="0.75"/>
<path d="M449.6 506.6L450.5 507.0L451.5 507.5L452.7 508.1L454.1 508.8L455.7 509.5L457.3 510.2L459.1 510.9L460.8 511.5L462.9 512.2L465.2 513.0L467.8 513.8L470.5 514.6L473.0 515.3L475.4 515.9L477.4 516.4L478.8 516.8L479.0 516.4L477.6 515.7L475.8 514.8L473.7 513.7L471.3 512.5L468.8 511.3L466.3 510.2L463.9 509.3L461.9 508.5L460.0 507.9L458.2 507.5L456.4 507.1L454.7 506.8L453.2 506.6L451.8 506.4L450.7 506.3L449.8 506.2Z" fill="#A83CC4" opacity="0.45"/>
<path d="M408.6 538.5L408.7 540.2L408.9 542.3L409.1 544.8L409.3 547.7L409.6 550.7L409.8 553.9L410.1 557.2L410.4 560.4L410.6 563.9L411.0 567.9L411.3 572.1L411.7 576.4L412.1 580.5L412.5 584.2L412.8 587.3L413.0 589.6L413.4 589.6L413.3 587.3L413.1 584.1L413.0 580.4L412.8 576.3L412.5 572.0L412.2 567.8L411.9 563.8L411.6 560.3L411.3 557.1L411.0 553.8L410.6 550.6L410.2 547.6L409.8 544.7L409.5 542.2L409.2 540.1L409.0 538.5Z" fill="#A83CC4" opacity="0.60"/>
<path d="M417.5 566.4L418.3 567.3L419.4 568.5L420.8 570.0L422.3 571.6L423.9 573.2L425.5 574.6L427.0 575.9L428.3 576.9L429.4 577.7L430.4 578.4L431.4 579.0L432.3 579.5L433.1 580.0L433.9 580.4L434.5 580.7L435.0 581.0L435.2 580.7L434.9 580.2L434.5 579.7L434.0 579.0L433.5 578.2L432.8 577.4L432.1 576.5L431.2 575.5L430.3 574.5L429.0 573.4L427.5 572.2L425.7 571.0L423.8 569.7L421.9 568.6L420.2 567.5L418.8 566.7L417.7 566.1Z" fill="#A83CC4" opacity="0.70"/>
<path d="M383.9 531.4L385.0 531.9L386.5 532.6L388.3 533.4L390.3 534.3L392.4 535.2L394.4 536.2L396.3 537.1L398.1 538.0L399.7 539.0L401.4 540.0L403.2 541.2L404.9 542.4L406.5 543.5L408.0 544.5L409.2 545.3L410.2 546.0L410.4 545.6L409.6 544.9L408.5 543.8L407.3 542.6L405.8 541.2L404.2 539.8L402.6 538.4L400.9 537.2L399.1 536.1L397.3 535.1L395.2 534.3L393.0 533.5L390.8 532.8L388.7 532.2L386.8 531.7L385.3 531.3L384.1 531.0Z" fill="#A83CC4" opacity="0.55"/>
<path d="M420.4 510.9L422.0 511.6L424.1 512.5L426.6 513.6L429.4 514.8L432.4 516.1L435.6 517.2L438.9 518.3L442.1 519.2L445.7 520.0L449.7 520.6L453.9 521.2L458.2 521.6L462.4 522.0L466.1 522.2L469.2 522.5L471.6 522.6L471.6 522.2L469.3 521.8L466.2 521.2L462.6 520.5L458.5 519.8L454.2 519.0L450.1 518.3L446.1 517.6L442.7 516.9L439.5 516.2L436.2 515.3L433.0 514.4L429.9 513.4L427.0 512.5L424.4 511.7L422.2 511.1L420.6 510.6Z" fill="#A83CC4" opacity="0.35"/>
<path d="M442.4 548.9L443.4 549.4L444.8 549.9L446.4 550.5L448.2 551.2L450.0 552.0L452.0 552.8L453.9 553.7L455.7 554.7L457.9 555.9L460.5 557.3L463.5 558.7L466.7 560.0L469.9 561.2L472.9 562.2L475.4 563.0L477.3 563.5L477.5 563.1L476.2 561.8L474.3 559.8L472.1 557.6L469.5 555.3L466.8 553.1L463.8 551.2L461.0 549.6L458.3 548.6L455.7 548.0L453.2 547.6L450.9 547.6L448.7 547.7L446.7 547.9L445.0 548.2L443.5 548.4L442.4 548.5Z" fill="#A83CC4" opacity="0.28"/>
<path d="M383.9 572.2L384.5 572.8L385.2 573.6L386.1 574.6L387.1 575.6L388.2 576.7L389.4 577.9L390.7 579.1L392.0 580.3L393.5 581.5L395.3 582.9L397.3 584.3L399.3 585.7L401.3 587.0L403.1 588.1L404.6 589.1L405.8 589.7L406.0 589.4L405.1 588.5L403.8 587.3L402.2 585.8L400.5 584.2L398.6 582.6L396.8 581.0L395.0 579.6L393.5 578.5L392.1 577.4L390.7 576.4L389.3 575.5L388.0 574.5L386.8 573.7L385.7 573.0L384.8 572.4L384.1 571.9Z" fill="#A83CC4" opacity="0.55"/>
<path d="M439.4 569.3L440.2 569.6L441.1 569.9L442.2 570.3L443.4 570.7L444.9 571.1L446.4 571.5L448.0 571.7L449.8 571.8L451.7 571.6L453.9 571.3L456.2 570.8L458.6 570.2L460.8 569.5L462.8 568.9L464.5 568.3L465.8 567.9L465.7 567.5L464.4 567.6L462.6 567.8L460.5 568.0L458.2 568.3L455.8 568.6L453.5 568.9L451.4 569.3L449.6 569.5L448.1 569.6L446.6 569.6L445.1 569.5L443.7 569.4L442.4 569.3L441.3 569.1L440.3 569.0L439.5 569.0Z" fill="#A83CC4" opacity="0.45"/>
<path d="M418.9 503.6L419.9 504.3L421.1 505.2L422.6 506.3L424.2 507.5L426.0 508.7L427.9 509.8L429.8 510.9L431.8 511.8L433.8 512.5L436.1 513.2L438.4 513.7L440.8 514.2L443.1 514.6L445.2 514.9L446.9 515.1L448.2 515.3L448.3 514.9L447.0 514.5L445.4 514.0L443.4 513.3L441.2 512.6L438.9 511.9L436.7 511.2L434.5 510.4L432.6 509.7L430.8 509.0L428.8 508.1L426.9 507.1L425.0 506.2L423.2 505.3L421.6 504.5L420.2 503.8L419.1 503.3Z" fill="#A83CC4" opacity="0.40"/>
<path d="M386.8 521.1L387.7 521.9L388.8 522.9L390.2 524.1L391.8 525.4L393.4 526.7L395.1 528.0L396.6 529.3L398.0 530.4L399.3 531.5L400.6 532.7L402.0 533.9L403.3 535.1L404.5 536.2L405.6 537.2L406.5 538.0L407.2 538.6L407.5 538.4L406.9 537.6L406.1 536.7L405.2 535.5L404.1 534.2L403.0 532.9L401.8 531.6L400.5 530.3L399.2 529.1L397.8 527.9L396.1 526.7L394.4 525.4L392.6 524.3L390.9 523.2L389.3 522.2L388.0 521.4L387.0 520.8Z" fill="#A83CC4" opacity="0.50"/>
<path d="M383.9 540.1L384.9 540.6L386.2 541.2L387.8 541.9L389.5 542.7L391.4 543.6L393.2 544.5L395.0 545.5L396.6 546.5L398.3 547.8L400.2 549.2L402.1 550.9L404.1 552.5L405.9 554.1L407.6 555.5L409.1 556.7L410.1 557.6L410.4 557.3L409.5 556.3L408.2 554.9L406.7 553.3L405.0 551.5L403.2 549.7L401.3 547.9L399.4 546.3L397.6 545.1L395.8 544.0L393.9 543.1L391.9 542.3L390.0 541.6L388.1 541.0L386.5 540.5L385.1 540.1L384.1 539.8Z" fill="#A83CC4" opacity="0.45"/>
<path d="M445.2 531.4L446.2 532.2L447.5 533.2L449.0 534.4L450.8 535.8L452.7 537.3L454.8 538.7L456.9 540.1L459.1 541.5L461.5 542.8L464.3 544.2L467.3 545.5L470.5 546.8L473.5 548.0L476.2 548.9L478.5 549.8L480.3 550.4L480.4 550.0L478.9 549.0L476.9 547.7L474.4 546.1L471.6 544.4L468.7 542.7L465.9 541.1L463.1 539.7L460.7 538.5L458.5 537.3L456.2 536.2L454.0 535.1L451.9 534.1L449.9 533.1L448.1 532.3L446.6 531.6L445.4 531.0Z" fill="#A83CC4" opacity="0.28"/>
<path d="M427.7 553.3L428.9 554.1L430.5 555.2L432.4 556.5L434.5 557.9L436.9 559.5L439.4 561.1L442.0 562.8L444.7 564.4L447.7 566.2L451.3 568.1L455.1 570.2L459.0 572.2L462.9 574.0L466.4 575.7L469.3 577.1L471.5 578.1L471.7 577.7L469.7 576.4L466.9 574.7L463.7 572.6L460.0 570.3L456.3 568.1L452.5 565.9L449.0 563.9L445.9 562.2L443.2 560.7L440.4 559.3L437.8 557.9L435.3 556.7L433.0 555.5L431.0 554.5L429.2 553.6L427.9 552.9Z" fill="#A83CC4" opacity="0.40"/>
<path d="M384.0 511.0L384.6 511.1L385.2 511.4L386.0 511.6L387.0 511.9L388.2 512.2L389.6 512.4L391.1 512.4L392.9 512.2L395.1 511.8L397.8 511.2L400.7 510.5L403.7 509.6L406.7 508.7L409.4 507.8L411.6 507.1L413.2 506.6L413.2 506.2L411.5 506.5L409.1 506.8L406.4 507.3L403.3 507.9L400.2 508.4L397.3 509.0L394.7 509.5L392.6 509.9L390.9 510.1L389.5 510.3L388.3 510.4L387.2 510.5L386.2 510.5L385.4 510.5L384.6 510.5L384.0 510.6Z" fill="#A83CC4" opacity="0.50"/>
<path d="M427.7 522.6L428.0 523.8L428.4 524.8L428.9 525.6L429.6 526.1L430.4 526.3L431.4 526.3L432.4 526.0L433.5 525.5L433.7 525.2L433.4 524.0L433.0 523.0L432.5 522.2L431.8 521.7L431.0 521.5L430.1 521.5L429.0 521.8L427.9 522.3Z" fill="#A83CC4" opacity="0.85"/>
<path d="M388.3 550.3L388.8 551.9L389.5 553.3L390.3 554.5L391.2 555.3L392.4 555.8L393.9 555.9L395.4 555.7L397.0 555.5L397.2 555.1L396.7 553.5L396.0 552.1L395.3 551.0L394.3 550.1L393.1 549.7L391.7 549.6L390.1 549.7L388.5 550.0Z" fill="#A83CC4" opacity="0.80"/>
<path d="M452.5 543.8L453.0 544.7L453.5 545.5L454.1 546.2L454.8 546.6L455.5 546.9L456.4 547.0L457.4 546.9L458.4 546.7L458.5 546.3L458.1 545.5L457.6 544.6L457.0 544.0L456.3 543.5L455.5 543.2L454.7 543.2L453.7 543.3L452.7 543.4Z" fill="#A83CC4" opacity="0.70"/>
<path d="M424.8 573.7L425.6 574.9L426.4 576.0L427.4 576.8L428.4 577.4L429.5 577.7L430.8 577.8L432.2 577.6L433.6 577.4L433.7 577.0L432.9 575.8L432.1 574.7L431.2 573.9L430.1 573.3L429.0 573.0L427.7 572.9L426.3 573.1L425.0 573.3Z" fill="#A83CC4" opacity="0.75"/>
<path d="M456.9 508.8L457.7 510.0L458.6 511.0L459.5 511.9L460.6 512.4L461.7 512.6L463.0 512.5L464.3 512.1L465.7 511.7L465.8 511.3L465.0 510.1L464.1 509.0L463.2 508.2L462.2 507.7L461.0 507.5L459.8 507.6L458.4 507.9L457.1 508.4Z" fill="#A83CC4" opacity="0.55"/>
<path d="M465.6 557.6L466.4 558.7L467.5 560.3L468.9 562.0L470.4 564.0L472.0 566.0L473.5 568.0L475.0 569.8L476.2 571.4L477.2 573.0L478.3 574.8L479.3 576.6L480.2 578.4L481.1 580.0L481.9 581.6L482.5 582.9L483.1 583.8L483.5 583.7L483.2 582.6L482.8 581.2L482.4 579.5L482.0 577.7L481.3 575.7L480.6 573.6L479.7 571.7L478.7 569.8L477.4 568.0L475.7 566.1L473.9 564.2L472.0 562.5L470.2 560.8L468.4 559.4L467.0 558.2L465.9 557.3Z" fill="#A83CC4" opacity="0.30"/>
<path d="M413.0 524.0L414.1 525.4L415.6 527.2L417.3 529.3L419.3 531.7L421.3 534.1L423.4 536.5L425.4 538.7L427.2 540.5L429.0 542.1L430.7 543.7L432.5 545.1L434.2 546.5L435.8 547.7L437.2 548.7L438.4 549.6L439.3 550.3L439.6 550.0L438.8 549.2L437.7 548.2L436.3 547.0L434.9 545.7L433.3 544.2L431.6 542.7L430.0 541.0L428.3 539.4L426.6 537.6L424.6 535.4L422.4 533.2L420.2 530.9L418.1 528.7L416.2 526.7L414.6 525.0L413.3 523.8Z" fill="#A83CC4" opacity="0.45"/>
<path d="M383.9 563.5L384.8 564.0L385.9 564.8L387.2 565.6L388.7 566.5L390.3 567.6L392.0 568.7L393.6 569.9L395.2 571.2L396.9 572.6L398.8 574.2L400.7 576.0L402.7 577.9L404.7 579.7L406.6 581.4L408.3 582.9L409.9 584.2L411.3 585.3L412.5 586.2L413.6 587.0L414.6 587.8L415.5 588.4L416.3 588.9L416.9 589.4L417.5 589.7L417.7 589.4L417.2 589.0L416.6 588.5L415.9 587.9L415.1 587.2L414.1 586.4L413.1 585.5L411.9 584.5L410.7 583.3L409.2 581.9L407.6 580.3L405.7 578.5L403.8 576.7L401.8 574.8L399.8 573.1L397.9 571.4L396.1 570.1L394.4 568.8L392.6 567.7L390.8 566.7L389.2 565.8L387.6 564.9L386.2 564.2L385.0 563.6L384.1 563.1Z" fill="#A83CC4" opacity="0.40"/>
<path d="M437.9 568.6L438.1 568.9L438.4 569.3L438.7 569.8L439.1 570.3L439.5 570.8L439.9 571.2L440.3 571.6L440.7 571.9L441.2 572.2L441.9 572.4L442.6 572.5L443.3 572.5L444.1 572.5L444.9 572.4L445.5 572.3L446.0 572.3L446.1 571.9L445.9 571.5L445.6 570.9L445.3 570.3L444.8 569.6L444.3 569.0L443.8 568.5L443.2 568.1L442.6 567.9L442.0 567.7L441.3 567.7L440.7 567.7L440.1 567.8L439.4 567.9L438.9 568.0L438.4 568.1L438.1 568.2Z" fill="#A83CC4" opacity="0.80"/>
<path d="M444.5 554.0L444.6 554.4L444.8 554.8L445.1 555.4L445.4 556.0L445.7 556.6L446.1 557.2L446.5 557.8L447.0 558.3L447.5 558.7L448.2 559.2L448.9 559.6L449.7 559.9L450.5 560.1L451.3 560.3L452.0 560.4L452.5 560.5L452.7 560.2L452.6 559.8L452.3 559.1L452.0 558.4L451.6 557.6L451.1 556.9L450.6 556.2L450.0 555.7L449.5 555.2L448.9 554.9L448.3 554.6L447.6 554.3L446.9 554.1L446.2 554.0L445.6 553.8L445.1 553.7L444.7 553.7Z" fill="#A83CC4" opacity="0.75"/>
<path d="M411.6 535.0L411.8 535.3L412.1 535.7L412.4 536.2L412.8 536.7L413.2 537.2L413.6 537.6L414.0 538.1L414.4 538.4L414.8 538.7L415.3 539.1L416.0 539.4L416.6 539.7L417.3 539.9L417.9 540.1L418.5 540.3L418.9 540.4L419.2 540.1L419.0 539.7L418.8 539.2L418.6 538.5L418.3 537.9L417.9 537.2L417.4 536.6L416.9 536.1L416.4 535.7L415.8 535.3L415.2 535.1L414.5 534.9L413.9 534.8L413.2 534.7L412.7 534.7L412.2 534.7L411.8 534.7Z" fill="#A83CC4" opacity="0.75"/>
<path d="M386.8 546.0L387.0 546.4L387.3 546.9L387.7 547.5L388.1 548.2L388.6 548.8L389.0 549.4L389.6 549.9L390.1 550.3L390.6 550.6L391.3 551.0L392.0 551.2L392.8 551.4L393.7 551.6L394.4 551.7L395.1 551.7L395.6 551.8L395.8 551.5L395.6 551.0L395.4 550.4L395.1 549.7L394.7 549.0L394.2 548.2L393.7 547.6L393.2 547.0L392.5 546.6L391.9 546.2L391.2 545.9L390.4 545.8L389.6 545.7L388.8 545.6L388.1 545.6L387.5 545.6L387.0 545.6Z" fill="#A83CC4" opacity="0.80"/>
<path d="M398.5 550.4L398.8 550.7L399.3 551.2L399.8 551.8L400.3 552.4L400.9 553.0L401.6 553.5L402.2 553.9L402.7 554.2L403.3 554.5L403.9 554.7L404.7 554.9L405.4 555.1L406.2 555.2L406.9 555.3L407.5 555.4L408.0 555.4L408.2 555.1L408.0 554.7L407.7 554.2L407.4 553.5L407.0 552.8L406.5 552.2L406.0 551.5L405.4 551.0L404.7 550.5L404.0 550.2L403.2 549.9L402.3 549.8L401.4 549.8L400.6 549.8L399.8 549.9L399.2 549.9L398.7 550.0Z" fill="#A83CC4" opacity="0.80"/>
<path d="M389.8 525.5L390.1 525.9L390.5 526.4L391.0 526.9L391.6 527.5L392.2 528.0L392.8 528.6L393.5 529.0L394.1 529.3L394.7 529.6L395.4 529.9L396.3 530.2L397.1 530.3L398.0 530.5L398.8 530.5L399.4 530.6L400.0 530.6L400.2 530.3L399.9 529.9L399.5 529.3L399.1 528.7L398.5 528.0L397.9 527.3L397.3 526.7L396.6 526.2L395.8 525.8L395.1 525.5L394.3 525.2L393.4 525.1L392.6 525.1L391.8 525.1L391.0 525.1L390.4 525.1L389.9 525.2Z" fill="#A83CC4" opacity="0.75"/>
<path d="M405.8 541.6L406.1 541.9L406.4 542.4L406.8 542.9L407.3 543.4L407.8 543.9L408.3 544.4L408.9 544.8L409.4 545.2L409.9 545.5L410.6 545.8L411.3 546.0L412.0 546.2L412.8 546.4L413.5 546.5L414.1 546.6L414.5 546.7L414.8 546.4L414.5 546.0L414.2 545.4L413.9 544.8L413.4 544.2L413.0 543.5L412.4 542.9L411.8 542.4L411.2 542.1L410.5 541.7L409.8 541.5L409.1 541.4L408.3 541.3L407.6 541.2L407.0 541.2L406.4 541.2L406.0 541.2Z" fill="#A83CC4" opacity="0.70"/>
<path d="M420.4 546.0L420.6 546.4L421.0 546.9L421.4 547.4L421.8 548.1L422.3 548.7L422.8 549.2L423.3 549.7L423.7 550.1L424.2 550.5L424.8 550.8L425.4 551.2L426.1 551.6L426.8 551.9L427.4 552.1L428.0 552.3L428.4 552.5L428.7 552.2L428.5 551.8L428.4 551.3L428.1 550.6L427.8 549.9L427.5 549.2L427.1 548.5L426.6 547.9L426.0 547.3L425.4 546.9L424.7 546.5L423.9 546.2L423.1 546.0L422.3 545.8L421.6 545.7L421.1 545.7L420.6 545.6Z" fill="#A83CC4" opacity="0.70"/>
<path d="M395.3 534.6L396.4 535.8L397.9 537.5L399.6 539.5L401.5 541.6L403.6 544.0L405.6 546.3L407.7 548.7L409.5 550.9L411.4 553.1L413.4 555.5L415.5 558.0L417.6 560.4L419.7 562.7L421.5 564.8L423.1 566.5L424.3 567.8L424.6 567.5L423.6 566.1L422.2 564.2L420.6 562.0L418.8 559.5L416.8 556.9L414.8 554.4L412.7 551.9L410.8 549.7L408.9 547.6L406.7 545.4L404.5 543.1L402.3 540.9L400.3 538.8L398.4 537.0L396.8 535.4L395.6 534.3Z" fill="#A83CC4" opacity="0.49"/>
<path d="M373.3 520.9L374.3 521.5L375.6 522.4L377.2 523.5L379.0 524.7L380.9 525.9L382.8 527.2L384.6 528.4L386.3 529.4L387.9 530.5L389.6 531.5L391.3 532.6L393.0 533.6L394.6 534.6L396.0 535.4L397.2 536.1L398.1 536.6L398.3 536.3L397.5 535.7L396.3 534.9L395.0 533.9L393.4 532.9L391.8 531.8L390.1 530.7L388.4 529.6L386.8 528.6L385.1 527.6L383.3 526.5L381.3 525.3L379.4 524.1L377.6 523.0L375.9 522.0L374.5 521.2L373.5 520.5Z" fill="#A83CC4" opacity="0.59"/>
<path d="M415.1 542.0L416.3 543.0L417.9 544.4L419.8 546.1L421.9 547.9L424.2 549.9L426.5 551.9L428.9 553.9L431.1 555.7L433.5 557.6L436.0 559.6L438.8 561.7L441.5 563.8L444.1 565.8L446.4 567.6L448.4 569.1L449.8 570.2L450.1 569.9L448.7 568.7L446.8 567.1L444.6 565.2L442.1 563.1L439.5 560.9L436.8 558.7L434.3 556.6L432.0 554.7L429.7 552.9L427.3 551.0L424.9 549.1L422.5 547.2L420.3 545.5L418.3 543.9L416.6 542.6L415.3 541.7Z" fill="#A83CC4" opacity="0.31"/>
<path d="M391.6 561.8L392.8 563.0L394.5 564.5L396.6 566.4L398.9 568.4L401.3 570.6L403.8 572.7L406.2 574.7L408.5 576.5L410.8 578.4L413.2 580.3L415.7 582.3L418.2 584.3L420.6 586.1L422.7 587.7L424.5 589.1L425.8 590.1L426.1 589.8L424.8 588.7L423.2 587.1L421.2 585.3L419.1 583.3L416.7 581.1L414.3 579.0L412.0 576.9L409.8 575.0L407.5 573.1L405.1 571.1L402.5 569.1L399.9 567.2L397.4 565.4L395.1 563.8L393.2 562.5L391.8 561.5Z" fill="#A83CC4" opacity="0.44"/>
<path d="M443.3 553.8L444.3 554.7L445.7 555.9L447.2 557.4L449.0 559.0L451.0 560.6L453.0 562.3L455.0 563.9L456.9 565.3L459.0 566.6L461.2 568.0L463.6 569.4L465.9 570.7L468.2 571.9L470.2 573.0L471.9 573.9L473.2 574.6L473.4 574.2L472.2 573.4L470.6 572.4L468.7 571.1L466.5 569.7L464.2 568.3L462.0 566.8L459.8 565.3L457.8 564.0L455.9 562.6L453.9 561.1L451.8 559.6L449.8 558.0L447.9 556.6L446.1 555.3L444.7 554.2L443.6 553.4Z" fill="#A83CC4" opacity="0.55"/>
<path d="M363.4 499.8L364.9 501.6L366.9 503.9L369.4 506.7L372.0 509.7L374.9 513.0L377.8 516.2L380.7 519.3L383.4 522.0L386.1 524.7L389.0 527.5L392.0 530.3L395.1 533.1L397.9 535.6L400.5 537.9L402.7 539.7L404.3 541.2L404.6 540.9L403.1 539.3L401.0 537.3L398.6 534.9L395.9 532.2L393.0 529.3L390.1 526.5L387.2 523.6L384.5 520.9L381.8 518.2L378.9 515.2L375.8 512.1L372.9 509.0L370.0 506.1L367.5 503.4L365.3 501.2L363.7 499.6Z" fill="#A83CC4" opacity="0.32"/>
<path d="M385.6 575.8L386.5 576.6L387.7 577.7L389.1 578.9L390.7 580.4L392.5 581.8L394.2 583.4L396.0 584.9L397.8 586.3L399.6 587.8L401.6 589.4L403.8 591.0L406.0 592.6L408.2 594.1L410.1 595.5L411.7 596.6L413.0 597.4L413.2 597.1L412.2 596.1L410.7 594.7L409.0 593.1L407.1 591.3L405.1 589.4L403.0 587.7L401.0 586.0L399.1 584.5L397.3 583.2L395.4 581.8L393.5 580.5L391.6 579.2L389.8 578.0L388.2 577.0L386.8 576.1L385.8 575.5Z" fill="#A83CC4" opacity="0.35"/>
<path d="M387.5 504.9L389.1 506.1L391.1 507.6L393.6 509.4L396.4 511.4L399.4 513.5L402.4 515.6L405.5 517.6L408.3 519.5L411.3 521.3L414.5 523.2L417.8 525.2L421.1 527.1L424.3 528.9L427.1 530.5L429.5 531.8L431.3 532.8L431.5 532.5L429.7 531.4L427.4 530.0L424.6 528.3L421.5 526.4L418.3 524.4L415.0 522.4L411.8 520.4L408.9 518.6L406.1 516.7L403.1 514.7L400.0 512.7L396.9 510.7L394.1 508.8L391.5 507.1L389.3 505.7L387.7 504.6Z" fill="#A83CC4" opacity="0.43"/>
<path d="M373.1 568.4L374.6 569.9L376.5 572.0L378.9 574.4L381.6 577.1L384.5 579.8L387.5 582.6L390.5 585.2L393.4 587.6L396.3 590.1L399.5 592.7L402.8 595.4L406.1 598.0L409.2 600.5L412.1 602.7L414.5 604.6L416.2 606.0L416.5 605.7L414.8 604.2L412.6 602.1L410.0 599.7L407.0 597.0L403.9 594.1L400.7 591.3L397.7 588.5L394.8 586.0L392.1 583.5L389.1 580.8L386.0 578.1L382.9 575.6L380.0 573.2L377.3 571.1L375.0 569.4L373.3 568.1Z" fill="#A83CC4" opacity="0.49"/>
<path d="M364.7 498.7L366.2 499.6L368.2 500.9L370.5 502.4L373.1 504.0L375.9 505.8L378.8 507.5L381.6 509.2L384.2 510.8L386.9 512.3L389.9 513.9L392.9 515.5L396.0 517.1L398.9 518.5L401.6 519.7L403.8 520.7L405.5 521.4L405.7 521.1L404.1 520.1L402.0 518.9L399.5 517.4L396.6 515.8L393.6 514.2L390.6 512.5L387.6 511.0L384.9 509.5L382.2 508.0L379.4 506.5L376.5 504.8L373.6 503.2L370.9 501.7L368.5 500.3L366.4 499.2L364.9 498.3Z" fill="#A83CC4" opacity="0.44"/>
<path d="M401.3 541.7L402.3 542.7L403.5 543.9L405.1 545.4L406.8 547.1L408.5 548.8L410.3 550.5L412.0 552.1L413.6 553.6L415.1 554.9L416.7 556.4L418.3 557.8L419.8 559.2L421.3 560.4L422.6 561.6L423.7 562.5L424.6 563.2L424.9 562.9L424.1 562.1L423.1 561.1L421.9 559.8L420.5 558.4L419.1 556.9L417.5 555.4L416.0 554.0L414.5 552.6L412.9 551.2L411.1 549.6L409.3 548.0L407.4 546.4L405.6 544.8L404.0 543.5L402.6 542.3L401.6 541.4Z" fill="#A83CC4" opacity="0.36"/>
<path d="M449.9 503.9L451.8 505.1L454.3 506.7L457.2 508.6L460.5 510.7L464.0 512.9L467.5 515.2L470.9 517.4L474.0 519.5L477.2 521.5L480.6 523.7L484.0 526.0L487.5 528.2L490.7 530.3L493.7 532.2L496.1 533.7L498.0 534.9L498.2 534.5L496.4 533.3L494.0 531.6L491.2 529.6L488.0 527.4L484.6 525.1L481.2 522.8L477.8 520.6L474.6 518.6L471.4 516.6L468.0 514.4L464.4 512.2L460.9 510.1L457.6 508.1L454.6 506.2L452.0 504.7L450.2 503.6Z" fill="#A83CC4" opacity="0.31"/>
<path d="M373.8 549.6L375.1 550.8L376.9 552.3L379.0 554.0L381.4 556.0L383.9 558.0L386.6 560.0L389.2 562.0L391.6 563.8L394.2 565.6L396.9 567.7L399.8 569.8L402.6 571.8L405.4 573.8L407.8 575.5L409.9 577.0L411.4 578.1L411.7 577.8L410.2 576.5L408.3 574.9L406.0 572.9L403.5 570.8L400.8 568.5L398.0 566.2L395.4 564.1L392.9 562.1L390.4 560.3L387.8 558.3L385.1 556.4L382.4 554.6L379.8 552.9L377.5 551.5L375.5 550.3L374.0 549.3Z" fill="#A83CC4" opacity="0.32"/>
<path d="M408.6 556.4L409.4 558.1L410.6 560.3L411.9 563.0L413.5 566.0L415.1 569.1L416.8 572.2L418.6 575.2L420.2 578.0L421.9 580.6L423.8 583.4L425.7 586.2L427.6 588.9L429.5 591.5L431.1 593.8L432.5 595.7L433.6 597.1L433.9 596.9L432.9 595.4L431.6 593.4L430.1 591.1L428.3 588.4L426.5 585.6L424.7 582.8L422.9 580.0L421.3 577.3L419.6 574.6L417.9 571.6L416.1 568.6L414.4 565.5L412.7 562.6L411.2 560.0L409.9 557.8L408.9 556.2Z" fill="#A83CC4" opacity="0.30"/>
<path d="M392.2 491.7L393.3 493.0L394.9 494.6L396.7 496.6L398.7 498.8L400.9 501.1L403.2 503.5L405.5 505.7L407.7 507.8L409.9 509.9L412.4 512.2L415.1 514.5L417.8 516.7L420.4 518.7L422.7 520.5L424.7 522.0L426.2 523.2L426.5 522.9L425.2 521.5L423.4 519.7L421.4 517.6L419.0 515.3L416.5 512.8L414.0 510.4L411.5 508.2L409.3 506.1L407.0 504.1L404.6 502.0L402.2 499.8L399.8 497.7L397.5 495.8L395.5 494.0L393.7 492.5L392.4 491.4Z" fill="#A83CC4" opacity="0.59"/>
<path d="M426.7 541.8L427.3 542.7L428.2 543.8L429.2 545.1L430.4 546.5L431.6 548.1L432.9 549.7L434.2 551.3L435.5 552.8L436.9 554.4L438.4 556.2L440.1 558.0L441.8 559.8L443.6 561.4L445.3 562.8L446.7 564.0L447.8 564.8L448.1 564.5L447.3 563.4L446.3 561.9L445.0 560.1L443.6 558.2L441.9 556.4L440.2 554.5L438.6 552.8L437.1 551.3L435.7 549.9L434.2 548.5L432.7 547.0L431.3 545.7L430.0 544.4L428.8 543.3L427.7 542.3L427.0 541.6Z" fill="#A83CC4" opacity="0.51"/>
<path d="M366.5 551.4L368.0 551.9L369.9 552.5L372.2 553.2L374.8 554.1L377.4 554.9L380.1 555.8L382.7 556.7L385.0 557.6L387.2 558.5L389.6 559.5L392.0 560.5L394.3 561.5L396.6 562.4L398.6 563.3L400.3 563.9L401.6 564.4L401.8 564.0L400.6 563.3L399.0 562.4L397.1 561.3L395.0 560.1L392.7 558.9L390.3 557.8L387.9 556.8L385.6 555.9L383.2 555.1L380.6 554.4L377.8 553.6L375.1 553.0L372.5 552.4L370.1 551.8L368.1 551.4L366.6 551.0Z" fill="#A83CC4" opacity="0.52"/>
<path d="M422.7 546.4L424.3 547.8L426.5 549.6L429.1 551.8L432.0 554.2L435.1 556.7L438.2 559.3L441.2 561.7L443.9 564.0L446.5 566.4L449.4 568.9L452.3 571.4L455.1 573.9L457.9 576.2L460.4 578.2L462.5 579.9L464.1 581.2L464.4 580.9L463.0 579.4L461.1 577.4L458.9 575.1L456.3 572.6L453.6 569.9L450.7 567.3L447.9 564.8L445.1 562.5L442.3 560.3L439.2 557.9L436.0 555.5L432.8 553.2L429.8 551.0L427.0 549.0L424.7 547.4L422.9 546.1Z" fill="#A83CC4" opacity="0.57"/>
<path d="M390.2 553.7L391.3 555.1L392.9 557.0L394.7 559.3L396.8 561.8L399.0 564.5L401.3 567.1L403.5 569.7L405.6 572.1L407.8 574.4L410.2 576.9L412.6 579.4L415.1 581.8L417.5 584.1L419.6 586.1L421.4 587.8L422.8 589.1L423.1 588.8L421.9 587.4L420.3 585.5L418.3 583.3L416.2 580.8L413.9 578.2L411.5 575.6L409.2 573.1L407.1 570.8L404.9 568.5L402.6 566.0L400.2 563.5L397.8 561.0L395.5 558.6L393.5 556.5L391.8 554.7L390.5 553.4Z" fill="#A83CC4" opacity="0.32"/>
<path d="M419.1 524.3L420.8 525.3L423.2 526.6L426.0 528.2L429.1 529.9L432.4 531.7L435.7 533.5L439.0 535.3L442.0 536.9L445.0 538.5L448.3 540.2L451.7 541.8L455.0 543.4L458.2 544.9L461.1 546.2L463.5 547.3L465.4 548.1L465.6 547.7L463.9 546.7L461.6 545.3L458.9 543.6L455.9 541.8L452.7 539.9L449.3 538.1L446.1 536.4L443.0 534.9L439.9 533.4L436.6 531.8L433.2 530.2L429.7 528.6L426.5 527.2L423.6 525.9L421.1 524.8L419.3 524.0Z" fill="#A83CC4" opacity="0.33"/>
<path d="M362.2 542.1L363.8 543.3L365.9 544.9L368.4 546.7L371.3 548.6L374.4 550.6L377.6 552.5L380.8 554.3L383.7 555.9L386.6 557.5L389.8 559.2L393.0 560.9L396.3 562.6L399.3 564.1L402.1 565.5L404.4 566.7L406.1 567.6L406.3 567.2L404.7 566.2L402.5 564.8L399.8 563.2L396.9 561.4L393.9 559.5L390.7 557.6L387.7 555.7L384.8 554.0L382.0 552.2L378.9 550.4L375.7 548.5L372.5 546.7L369.4 545.1L366.6 543.7L364.2 542.6L362.4 541.8Z" fill="#A83CC4" opacity="0.38"/>
<path d="M383.9 551.1L384.8 552.0L385.9 553.3L387.3 554.8L388.8 556.5L390.5 558.2L392.2 560.0L393.9 561.6L395.6 563.1L397.4 564.5L399.3 565.9L401.3 567.3L403.4 568.6L405.4 569.7L407.2 570.7L408.7 571.5L409.9 572.1L410.1 571.7L409.1 570.9L407.8 569.8L406.1 568.5L404.3 567.1L402.4 565.7L400.5 564.3L398.6 562.9L396.8 561.6L395.1 560.3L393.3 558.7L391.5 557.2L389.7 555.6L388.0 554.1L386.4 552.7L385.1 551.6L384.2 550.8Z" fill="#A83CC4" opacity="0.43"/>
<path d="M378.5 542.3L380.1 543.9L382.2 545.9L384.8 548.4L387.6 551.1L390.6 553.9L393.7 556.7L396.7 559.4L399.4 561.8L402.1 564.1L404.9 566.6L407.8 569.0L410.6 571.4L413.3 573.6L415.6 575.7L417.6 577.3L419.2 578.6L419.4 578.3L418.0 577.0L416.1 575.2L413.8 573.0L411.3 570.6L408.6 568.1L405.8 565.6L403.0 563.0L400.4 560.7L397.7 558.2L394.7 555.6L391.6 552.8L388.5 550.2L385.5 547.6L382.7 545.4L380.5 543.5L378.7 542.0Z" fill="#A83CC4" opacity="0.47"/>
<path d="M369.0 524.6L370.4 526.4L372.2 528.8L374.3 531.6L376.8 534.7L379.4 537.9L382.2 541.0L384.8 544.0L387.3 546.8L389.7 549.5L392.3 552.3L394.9 555.2L397.5 558.0L400.0 560.7L402.2 563.1L404.0 565.1L405.4 566.6L405.7 566.4L404.5 564.7L402.8 562.6L400.8 560.0L398.6 557.1L396.3 554.1L393.8 551.0L391.4 548.0L389.1 545.2L386.7 542.4L384.0 539.3L381.2 536.2L378.4 533.2L375.6 530.4L373.1 528.0L370.9 525.9L369.3 524.3Z" fill="#A83CC4" opacity="0.38"/>
<path d="M391.4 510.6L392.7 511.9L394.5 513.5L396.6 515.5L399.0 517.7L401.5 520.0L404.1 522.3L406.6 524.5L409.0 526.6L411.5 528.6L414.1 530.8L416.8 533.1L419.6 535.3L422.2 537.3L424.5 539.2L426.5 540.8L428.0 541.9L428.2 541.6L426.9 540.3L425.1 538.5L423.0 536.4L420.6 534.1L418.1 531.6L415.5 529.2L412.9 526.9L410.5 524.8L408.1 522.7L405.5 520.6L402.7 518.5L400.0 516.4L397.4 514.5L395.1 512.8L393.1 511.4L391.6 510.3Z" fill="#A83CC4" opacity="0.59"/>
<path d="M366.4 483.4L367.7 485.1L369.4 487.5L371.4 490.2L373.7 493.3L376.1 496.5L378.6 499.8L381.1 502.9L383.5 505.8L385.9 508.7L388.7 511.7L391.6 514.7L394.5 517.7L397.3 520.4L399.9 522.8L402.1 524.8L403.7 526.4L404.0 526.1L402.5 524.4L400.6 522.2L398.3 519.5L395.7 516.6L392.9 513.5L390.1 510.4L387.3 507.4L384.8 504.7L382.4 501.8L379.8 498.8L377.2 495.7L374.6 492.6L372.2 489.7L370.0 487.0L368.1 484.8L366.8 483.2Z" fill="#A83CC4" opacity="0.39"/>
<path d="M361.5 497.9L363.2 499.1L365.4 500.7L368.0 502.6L370.9 504.7L374.0 506.9L377.2 509.1L380.3 511.4L383.2 513.5L386.2 515.6L389.5 518.0L392.8 520.4L396.2 522.8L399.4 525.1L402.3 527.2L404.7 528.9L406.5 530.2L406.7 529.9L405.0 528.5L402.6 526.7L399.8 524.6L396.7 522.2L393.4 519.7L390.0 517.2L386.8 514.8L383.8 512.7L380.8 510.6L377.7 508.4L374.5 506.2L371.3 504.0L368.4 502.0L365.7 500.3L363.4 498.8L361.7 497.6Z" fill="#A83CC4" opacity="0.49"/>
<path d="M408.2 542.5L409.9 543.9L412.1 545.8L414.9 548.0L417.9 550.5L421.1 553.0L424.3 555.6L427.4 558.0L430.3 560.3L433.1 562.5L436.0 564.8L439.0 567.2L441.9 569.5L444.7 571.7L447.1 573.7L449.2 575.3L450.8 576.6L451.0 576.3L449.5 575.0L447.5 573.2L445.1 571.2L442.4 568.9L439.6 566.5L436.7 564.0L433.8 561.6L431.0 559.3L428.2 557.1L425.1 554.6L421.8 552.1L418.5 549.6L415.4 547.3L412.6 545.2L410.2 543.5L408.4 542.2Z" fill="#A83CC4" opacity="0.44"/>
<path d="M369.5 532.9L370.5 533.8L371.9 535.0L373.6 536.5L375.4 538.1L377.3 539.8L379.3 541.5L381.3 543.1L383.2 544.5L385.1 545.9L387.2 547.4L389.3 548.8L391.5 550.2L393.6 551.5L395.5 552.6L397.1 553.5L398.3 554.2L398.6 553.8L397.5 553.0L396.0 551.8L394.3 550.5L392.4 549.0L390.3 547.5L388.2 545.9L386.1 544.5L384.2 543.1L382.3 541.7L380.3 540.2L378.2 538.7L376.1 537.2L374.1 535.7L372.4 534.5L370.9 533.4L369.8 532.6Z" fill="#A83CC4" opacity="0.48"/>
<path d="M379.6 556.5L381.3 557.8L383.7 559.6L386.4 561.7L389.6 564.1L392.9 566.5L396.3 569.0L399.7 571.2L403.0 573.3L406.3 575.2L410.0 577.2L413.8 579.2L417.5 581.1L421.2 582.8L424.4 584.3L427.1 585.6L429.2 586.6L429.4 586.2L427.4 585.1L424.8 583.6L421.7 581.8L418.2 579.8L414.6 577.6L410.9 575.5L407.3 573.4L404.1 571.5L400.9 569.5L397.4 567.3L393.9 565.1L390.4 562.8L387.1 560.8L384.2 558.9L381.7 557.3L379.8 556.1Z" fill="#A83CC4" opacity="0.34"/>
<path d="M403.7 568.6L405.7 569.8L408.3 571.4L411.4 573.3L414.9 575.4L418.6 577.6L422.3 579.7L426.0 581.7L429.4 583.5L432.7 585.1L436.2 586.9L439.9 588.6L443.4 590.2L446.8 591.8L449.8 593.2L452.3 594.3L454.2 595.2L454.4 594.8L452.5 593.8L450.1 592.6L447.1 591.0L443.9 589.3L440.4 587.5L436.9 585.6L433.4 583.8L430.1 582.0L426.8 580.2L423.1 578.2L419.4 576.2L415.6 574.2L412.0 572.3L408.7 570.6L406.0 569.2L403.9 568.2Z" fill="#A83CC4" opacity="0.50"/>
<path d="M425.0 555.7L426.2 557.1L427.9 559.0L429.9 561.2L432.1 563.6L434.4 566.2L436.8 568.8L439.0 571.4L441.1 573.8L443.2 576.2L445.5 578.8L447.8 581.6L450.1 584.2L452.4 586.6L454.5 588.8L456.3 590.6L457.6 591.9L457.9 591.7L456.9 590.1L455.5 588.0L453.8 585.5L451.8 582.8L449.6 580.0L447.3 577.3L445.0 574.7L442.8 572.3L440.6 569.9L438.1 567.5L435.6 565.0L433.1 562.6L430.7 560.4L428.5 558.4L426.7 556.7L425.3 555.4Z" fill="#A83CC4" opacity="0.59"/>
<path d="M393.7 558.4L395.6 559.4L398.1 560.6L401.0 562.2L404.3 563.8L407.8 565.6L411.3 567.5L414.8 569.3L418.0 571.0L421.3 572.8L424.9 574.7L428.5 576.7L432.2 578.7L435.7 580.5L438.9 582.1L441.6 583.5L443.6 584.5L443.8 584.2L441.9 583.0L439.3 581.4L436.3 579.5L432.9 577.5L429.3 575.3L425.6 573.3L422.1 571.3L418.8 569.6L415.5 567.9L411.9 566.2L408.3 564.5L404.8 562.9L401.4 561.4L398.4 560.0L395.8 558.9L393.9 558.0Z" fill="#A83CC4" opacity="0.47"/>
<path d="M399.6 481.0L400.5 482.9L401.7 485.4L403.2 488.4L404.8 491.8L406.6 495.3L408.4 498.9L410.2 502.3L412.0 505.5L413.8 508.6L415.8 511.9L418.0 515.2L420.2 518.4L422.3 521.5L424.2 524.2L425.8 526.5L427.0 528.2L427.4 528.0L426.3 526.2L424.8 523.8L423.0 521.0L421.1 517.9L419.0 514.6L416.9 511.2L414.8 508.0L413.0 504.9L411.2 501.8L409.3 498.4L407.4 494.9L405.5 491.4L403.8 488.1L402.2 485.1L400.9 482.7L399.9 480.8Z" fill="#A83CC4" opacity="0.40"/>
<path d="M361.4 505.5L363.4 506.4L366.1 507.7L369.3 509.2L372.8 510.9L376.6 512.5L380.5 514.1L384.2 515.5L387.7 516.8L391.2 518.0L394.9 519.2L398.6 520.4L402.3 521.6L405.8 522.6L409.0 523.6L411.6 524.3L413.6 524.9L413.7 524.6L411.8 523.9L409.2 522.9L406.1 521.8L402.6 520.6L399.0 519.3L395.3 517.9L391.7 516.6L388.3 515.3L384.8 514.0L381.1 512.5L377.3 510.9L373.4 509.4L369.8 508.0L366.4 506.8L363.6 505.8L361.5 505.1Z" fill="#A83CC4" opacity="0.58"/>
<path d="M376.9 537.5L378.0 538.5L379.5 539.7L381.3 541.2L383.4 542.8L385.5 544.5L387.7 546.1L389.8 547.7L391.7 549.2L393.6 550.6L395.7 552.0L397.8 553.5L399.9 554.9L401.9 556.2L403.7 557.3L405.2 558.3L406.3 559.0L406.5 558.7L405.5 557.9L404.1 556.7L402.5 555.3L400.7 553.8L398.7 552.3L396.7 550.7L394.7 549.2L392.8 547.7L390.8 546.3L388.6 544.8L386.4 543.3L384.1 541.7L381.9 540.3L380.0 539.1L378.3 538.0L377.1 537.2Z" fill="#A83CC4" opacity="0.55"/>
<path d="M387.1 522.4L387.9 523.6L389.0 525.2L390.3 527.1L391.7 529.1L393.3 531.2L394.9 533.3L396.5 535.3L397.9 537.0L399.3 538.7L400.8 540.4L402.3 542.1L403.7 543.7L405.1 545.2L406.3 546.6L407.3 547.7L408.1 548.6L408.4 548.4L407.7 547.4L406.8 546.2L405.8 544.7L404.6 543.0L403.3 541.3L401.9 539.5L400.6 537.7L399.3 536.0L397.9 534.2L396.3 532.2L394.7 530.2L393.0 528.1L391.3 526.3L389.7 524.6L388.4 523.2L387.4 522.2Z" fill="#A83CC4" opacity="0.47"/>
<path d="M396.0 538.7L397.6 539.5L399.8 540.5L402.3 541.7L405.1 543.0L408.1 544.3L411.2 545.7L414.3 546.9L417.3 548.0L420.3 549.0L423.6 549.9L427.0 550.8L430.5 551.7L433.8 552.4L436.7 552.9L439.2 553.4L441.1 553.8L441.2 553.4L439.4 552.8L437.0 552.0L434.1 551.2L430.9 550.2L427.5 549.2L424.1 548.2L420.8 547.3L417.8 546.4L414.9 545.4L411.8 544.3L408.6 543.1L405.6 542.0L402.7 540.8L400.0 539.8L397.9 539.0L396.2 538.4Z" fill="#A83CC4" opacity="0.42"/>
<path d="M403.4 531.7L404.7 533.0L406.4 534.6L408.5 536.6L410.8 538.7L413.2 541.0L415.8 543.2L418.3 545.2L420.7 547.1L423.1 548.8L425.8 550.5L428.5 552.2L431.3 553.9L433.9 555.4L436.2 556.7L438.2 557.8L439.7 558.6L439.9 558.3L438.5 557.2L436.7 555.9L434.6 554.3L432.2 552.5L429.6 550.6L427.1 548.7L424.5 546.8L422.2 545.1L419.8 543.3L417.2 541.4L414.6 539.3L411.9 537.4L409.3 535.5L407.0 533.8L405.1 532.5L403.6 531.4Z" fill="#A83CC4" opacity="0.38"/>
<path d="M364.2 524.7L366.0 526.0L368.4 527.6L371.3 529.6L374.5 531.7L377.8 534.0L381.2 536.3L384.5 538.5L387.5 540.5L390.5 542.6L393.6 544.7L396.8 546.9L400.0 549.1L402.9 551.1L405.6 552.9L407.9 554.4L409.6 555.6L409.8 555.2L408.2 554.0L406.0 552.3L403.5 550.4L400.6 548.2L397.5 545.9L394.4 543.6L391.3 541.4L388.3 539.3L385.3 537.3L382.0 535.2L378.5 533.0L375.0 530.8L371.8 528.8L368.8 527.0L366.3 525.5L364.4 524.4Z" fill="#A83CC4" opacity="0.36"/>
<path d="M459.4 501.3L460.3 502.3L461.5 503.6L463.0 505.1L464.6 506.8L466.4 508.5L468.2 510.2L469.9 511.9L471.6 513.4L473.2 515.0L474.9 516.7L476.6 518.5L478.3 520.3L479.9 521.9L481.4 523.4L482.6 524.7L483.6 525.6L483.9 525.3L483.0 524.3L481.9 523.0L480.5 521.4L479.0 519.6L477.4 517.7L475.8 515.9L474.1 514.1L472.6 512.4L471.0 510.8L469.2 509.1L467.4 507.4L465.5 505.8L463.7 504.3L462.1 503.0L460.7 501.9L459.7 501.1Z" fill="#A83CC4" opacity="0.49"/>
<path d="M376.0 505.4L377.2 506.5L378.9 508.0L380.9 509.8L383.2 511.7L385.6 513.8L388.1 515.8L390.6 517.8L392.9 519.6L395.2 521.5L397.7 523.5L400.3 525.5L402.9 527.5L405.3 529.4L407.6 531.1L409.4 532.5L410.8 533.6L411.1 533.3L409.7 532.1L408.0 530.6L405.9 528.7L403.6 526.7L401.1 524.6L398.6 522.4L396.1 520.3L393.8 518.4L391.6 516.6L389.1 514.6L386.6 512.6L384.1 510.7L381.6 508.9L379.4 507.3L377.6 506.0L376.2 505.0Z" fill="#A83CC4" opacity="0.46"/>
<path d="M366.2 543.7L368.0 544.9L370.6 546.5L373.5 548.4L376.9 550.4L380.4 552.6L384.0 554.8L387.4 556.8L390.7 558.7L393.9 560.5L397.3 562.3L400.9 564.2L404.4 566.0L407.7 567.6L410.7 569.1L413.2 570.3L415.1 571.2L415.3 570.8L413.4 569.8L411.0 568.4L408.1 566.8L404.9 565.0L401.4 563.1L397.9 561.2L394.5 559.3L391.3 557.6L388.0 555.8L384.5 553.8L380.9 551.7L377.3 549.7L373.9 547.7L370.9 546.0L368.3 544.5L366.4 543.4Z" fill="#A83CC4" opacity="0.52"/>
<path d="M445.7 508.0L447.5 509.1L449.9 510.5L452.8 512.2L456.0 514.1L459.5 516.0L463.0 517.9L466.6 519.7L469.9 521.4L473.3 523.1L477.0 525.0L480.9 526.9L484.7 528.8L488.4 530.6L491.7 532.2L494.5 533.6L496.5 534.6L496.7 534.3L494.7 533.1L492.1 531.6L488.9 529.7L485.3 527.7L481.6 525.6L477.8 523.4L474.2 521.4L470.8 519.6L467.5 517.8L464.0 516.0L460.4 514.2L456.9 512.5L453.5 510.9L450.4 509.6L447.9 508.4L445.9 507.6Z" fill="#A83CC4" opacity="0.38"/>
<path d="M441.5 526.3L442.7 527.2L444.3 528.4L446.3 529.8L448.4 531.4L450.7 533.1L453.0 534.9L455.2 536.6L457.2 538.3L459.2 540.0L461.4 541.9L463.6 543.9L465.8 545.9L467.9 547.8L469.8 549.5L471.4 550.9L472.6 551.9L472.9 551.6L471.8 550.5L470.3 548.9L468.6 547.1L466.6 545.1L464.4 543.0L462.2 541.0L460.0 539.1L458.0 537.4L455.9 535.7L453.6 534.0L451.2 532.4L448.9 530.8L446.6 529.3L444.6 527.9L443.0 526.8L441.7 525.9Z" fill="#A83CC4" opacity="0.50"/>
<path d="M425.1 532.7L426.7 533.7L428.7 535.0L431.2 536.5L433.9 538.2L436.8 540.0L439.8 541.9L442.7 543.7L445.4 545.5L448.3 547.3L451.3 549.3L454.5 551.4L457.7 553.4L460.8 555.4L463.5 557.1L465.8 558.6L467.6 559.7L467.8 559.4L466.1 558.2L463.9 556.6L461.2 554.8L458.2 552.7L455.1 550.6L451.9 548.4L448.8 546.4L446.0 544.6L443.2 542.8L440.3 541.1L437.3 539.3L434.3 537.5L431.5 535.9L429.0 534.5L426.9 533.3L425.3 532.4Z" fill="#A83CC4" opacity="0.31"/>
<path d="M403.8 540.7L404.7 541.8L405.9 543.4L407.4 545.1L409.0 547.0L410.9 548.8L412.8 550.6L414.7 552.3L416.4 553.8L418.1 555.2L419.8 556.6L421.6 558.0L423.3 559.3L425.0 560.5L426.4 561.6L427.6 562.5L428.6 563.2L428.8 562.9L428.0 562.1L426.9 561.0L425.6 559.7L424.2 558.3L422.6 556.8L421.0 555.2L419.4 553.6L417.9 552.1L416.3 550.6L414.5 548.8L412.6 547.0L410.6 545.3L408.7 543.7L406.8 542.4L405.3 541.3L404.1 540.4Z" fill="#A83CC4" opacity="0.33"/>
<path d="M456.5 524.3L457.9 525.8L459.8 527.7L462.0 530.0L464.4 532.6L467.1 535.3L469.7 538.0L472.4 540.6L474.9 543.0L477.4 545.5L480.2 548.0L483.1 550.7L486.0 553.2L488.8 555.6L491.3 557.8L493.4 559.6L495.0 560.9L495.2 560.6L493.8 559.1L491.8 557.2L489.5 554.8L486.9 552.2L484.2 549.5L481.4 546.8L478.6 544.2L476.1 541.8L473.6 539.4L470.8 536.8L468.0 534.2L465.3 531.7L462.7 529.3L460.3 527.2L458.3 525.4L456.8 524.0Z" fill="#A83CC4" opacity="0.43"/>
<path d="M368.2 549.5L369.5 550.6L371.1 552.0L373.1 553.8L375.2 555.7L377.5 557.7L379.9 559.8L382.1 561.8L384.2 563.6L386.3 565.5L388.4 567.5L390.7 569.5L392.9 571.5L395.0 573.4L396.9 575.1L398.4 576.6L399.6 577.6L399.9 577.3L398.8 576.2L397.3 574.7L395.5 572.9L393.5 570.9L391.4 568.8L389.2 566.6L387.1 564.6L385.0 562.7L382.9 560.9L380.6 558.9L378.2 556.9L375.8 555.0L373.6 553.2L371.5 551.6L369.8 550.2L368.5 549.2Z" fill="#A83CC4" opacity="0.35"/>
<path d="M361.0 565.9L362.7 567.2L365.1 568.9L367.9 570.9L371.0 573.1L374.4 575.4L377.7 577.8L381.0 579.9L384.0 581.9L387.1 583.8L390.3 585.7L393.6 587.6L396.9 589.5L400.0 591.2L402.8 592.7L405.2 593.9L407.0 594.9L407.2 594.6L405.5 593.4L403.3 592.0L400.6 590.2L397.7 588.3L394.5 586.2L391.3 584.1L388.1 582.1L385.1 580.2L382.0 578.3L378.7 576.2L375.2 574.1L371.8 572.0L368.5 570.0L365.6 568.2L363.1 566.7L361.2 565.6Z" fill="#A83CC4" opacity="0.42"/>
<path d="M393.1 569.2L394.8 570.8L397.0 572.9L399.7 575.4L402.7 578.2L405.9 581.2L409.1 584.1L412.2 587.0L415.1 589.5L417.9 592.1L421.0 594.7L424.1 597.4L427.3 599.9L430.3 602.2L433.0 604.3L435.4 606.0L437.1 607.3L437.4 607.0L435.8 605.4L433.8 603.4L431.3 601.0L428.6 598.4L425.6 595.7L422.5 593.0L419.4 590.4L416.5 587.9L413.6 585.4L410.3 582.7L407.0 580.0L403.6 577.2L400.4 574.6L397.6 572.3L395.2 570.3L393.4 568.9Z" fill="#A83CC4" opacity="0.42"/>
<path d="M441.3 549.7L443.1 550.9L445.5 552.3L448.3 554.1L451.4 556.0L454.8 558.0L458.2 559.9L461.5 561.8L464.5 563.5L467.6 565.3L470.8 567.1L474.1 569.0L477.4 570.8L480.5 572.5L483.3 574.1L485.6 575.4L487.4 576.3L487.6 576.0L485.9 574.9L483.7 573.4L481.0 571.6L478.1 569.6L475.0 567.6L471.7 565.5L468.6 563.5L465.6 561.7L462.5 560.0L459.2 558.1L455.7 556.3L452.2 554.5L448.9 552.9L445.9 551.5L443.4 550.3L441.5 549.4Z" fill="#A83CC4" opacity="0.32"/>
<path d="M390.3 491.7L391.8 492.7L393.9 494.1L396.3 495.8L399.0 497.7L401.8 499.6L404.8 501.5L407.7 503.3L410.5 504.8L413.3 506.3L416.4 507.8L419.6 509.3L422.8 510.6L425.9 511.9L428.6 513.0L431.0 513.8L432.7 514.5L432.9 514.2L431.2 513.3L429.0 512.1L426.4 510.7L423.5 509.2L420.4 507.6L417.3 506.1L414.2 504.5L411.4 503.1L408.7 501.6L405.7 499.9L402.7 498.2L399.7 496.5L396.8 494.9L394.3 493.5L392.1 492.2L390.5 491.3Z" fill="#A83CC4" opacity="0.40"/>
<path d="M409.5 533.5L410.6 534.7L411.9 536.4L413.6 538.4L415.4 540.7L417.4 543.0L419.3 545.3L421.1 547.6L422.8 549.7L424.4 551.7L426.1 553.8L427.8 556.0L429.5 558.1L431.2 560.0L432.7 561.7L434.0 563.1L435.0 564.2L435.3 563.9L434.6 562.7L433.6 561.0L432.4 559.1L431.0 557.0L429.4 554.7L427.7 552.5L426.0 550.4L424.3 548.4L422.6 546.4L420.6 544.2L418.5 542.0L416.4 539.8L414.3 537.8L412.5 535.9L411.0 534.3L409.8 533.2Z" fill="#A83CC4" opacity="0.53"/>
<path d="M368.0 543.8L369.1 544.8L370.5 546.0L372.3 547.5L374.2 549.1L376.3 550.8L378.4 552.5L380.6 554.2L382.7 555.8L384.8 557.4L387.2 559.2L389.7 561.0L392.3 562.8L394.7 564.5L396.9 566.1L398.7 567.4L400.1 568.3L400.3 568.0L399.0 566.9L397.3 565.5L395.2 563.8L392.9 562.0L390.5 560.0L388.0 558.1L385.7 556.2L383.6 554.6L381.5 553.0L379.3 551.3L377.1 549.7L374.9 548.1L372.9 546.7L371.0 545.4L369.4 544.3L368.3 543.5Z" fill="#A83CC4" opacity="0.33"/>
<path d="M449.2 539.5L450.8 540.4L452.8 541.7L455.2 543.2L457.9 544.9L460.8 546.6L463.7 548.3L466.4 549.9L469.0 551.4L471.4 552.9L474.0 554.4L476.7 555.9L479.4 557.3L481.9 558.5L484.2 559.6L486.1 560.5L487.6 561.2L487.8 560.9L486.5 559.9L484.8 558.6L482.7 557.1L480.4 555.5L477.9 553.8L475.3 552.2L472.7 550.6L470.2 549.2L467.6 547.9L464.7 546.4L461.7 544.9L458.7 543.4L455.8 542.1L453.2 540.9L451.1 539.9L449.4 539.1Z" fill="#A83CC4" opacity="0.49"/>
<path d="M362.0 536.3L363.7 537.7L365.9 539.6L368.6 541.9L371.5 544.4L374.7 547.0L377.9 549.7L381.1 552.3L384.1 554.7L387.2 557.1L390.5 559.7L394.0 562.3L397.5 564.9L400.9 567.3L403.9 569.5L406.4 571.3L408.3 572.7L408.5 572.4L406.7 570.9L404.2 569.0L401.3 566.7L398.1 564.2L394.7 561.5L391.2 558.8L387.9 556.2L384.8 553.8L381.8 551.4L378.6 548.9L375.3 546.3L372.1 543.7L369.0 541.3L366.3 539.2L364.0 537.3L362.3 536.0Z" fill="#A83CC4" opacity="0.45"/>
<path d="M367.8 573.3L369.1 574.3L370.8 575.6L372.8 577.1L375.0 578.8L377.4 580.6L379.9 582.4L382.2 584.1L384.4 585.6L386.7 587.2L389.1 588.8L391.5 590.4L394.0 592.0L396.3 593.4L398.4 594.7L400.2 595.8L401.6 596.6L401.8 596.3L400.5 595.4L398.9 594.1L396.9 592.6L394.7 591.0L392.3 589.3L389.9 587.6L387.5 585.9L385.3 584.4L383.1 582.9L380.6 581.2L378.1 579.6L375.7 577.9L373.3 576.4L371.2 575.0L369.4 573.8L368.0 573.0Z" fill="#A83CC4" opacity="0.39"/>
<path d="M410.5 519.1L411.2 519.7L412.2 520.4L413.4 521.2L414.7 522.2L416.2 523.2L417.6 524.2L419.1 525.2L420.5 526.2L421.9 527.3L423.5 528.5L425.2 529.8L426.9 531.0L428.5 532.2L429.9 533.3L431.2 534.2L432.1 534.9L432.3 534.6L431.5 533.8L430.3 532.8L428.9 531.6L427.4 530.3L425.8 529.0L424.2 527.6L422.6 526.4L421.1 525.3L419.7 524.3L418.2 523.3L416.7 522.3L415.2 521.4L413.8 520.6L412.5 519.9L411.5 519.3L410.7 518.8Z" fill="#A83CC4" opacity="0.53"/>
<path d="M358.5 574.4L360.4 575.6L362.9 577.3L365.9 579.3L369.2 581.5L372.7 583.8L376.3 586.1L379.9 588.2L383.3 590.2L386.7 592.1L390.5 594.1L394.4 596.1L398.3 597.9L402.1 599.6L405.5 601.0L408.3 602.3L410.5 603.2L410.7 602.8L408.6 601.7L405.9 600.2L402.6 598.5L399.0 596.6L395.1 594.6L391.2 592.6L387.4 590.7L384.0 588.9L380.6 587.0L377.0 584.9L373.3 582.8L369.7 580.6L366.3 578.6L363.3 576.7L360.7 575.2L358.8 574.1Z" fill="#A83CC4" opacity="0.44"/>
<path d="M380.4 530.6L381.4 532.1L382.8 534.0L384.4 536.4L386.2 538.9L388.0 541.6L389.9 544.3L391.7 546.8L393.4 549.1L395.0 551.4L396.7 553.7L398.4 556.1L400.1 558.4L401.7 560.5L403.2 562.5L404.4 564.1L405.4 565.3L405.7 565.1L404.9 563.7L403.9 562.0L402.7 559.9L401.3 557.6L399.8 555.2L398.2 552.7L396.6 550.3L395.0 548.0L393.3 545.7L391.3 543.2L389.3 540.6L387.2 538.1L385.2 535.7L383.4 533.5L381.9 531.7L380.8 530.4Z" fill="#A83CC4" opacity="0.33"/>
<path d="M398.2 512.7L399.1 513.3L400.3 514.0L401.7 514.8L403.3 515.8L405.0 516.8L406.7 517.8L408.4 518.7L409.9 519.7L411.5 520.6L413.2 521.7L415.0 522.8L416.7 523.9L418.4 525.0L419.9 525.9L421.2 526.7L422.2 527.3L422.4 527.0L421.5 526.3L420.4 525.3L419.0 524.2L417.4 523.0L415.8 521.7L414.1 520.4L412.4 519.3L410.8 518.3L409.2 517.3L407.4 516.4L405.6 515.5L403.8 514.7L402.1 514.0L400.6 513.3L399.3 512.8L398.4 512.4Z" fill="#A83CC4" opacity="0.50"/>
<path d="M373.3 545.0L374.9 545.9L377.2 547.1L379.8 548.4L382.8 549.9L385.9 551.3L389.2 552.7L392.2 553.9L395.1 555.0L397.8 556.0L400.7 556.9L403.6 557.9L406.5 558.7L409.2 559.6L411.6 560.3L413.6 560.9L415.1 561.3L415.2 561.0L413.8 560.4L411.8 559.6L409.5 558.6L406.9 557.6L404.1 556.5L401.3 555.4L398.5 554.2L395.8 553.1L393.0 552.0L390.0 550.7L386.8 549.4L383.5 548.1L380.4 547.0L377.6 546.0L375.2 545.2L373.4 544.7Z" fill="#A83CC4" opacity="0.37"/>
<path d="M416.7 520.5L417.6 521.5L418.8 523.0L420.3 524.7L421.9 526.6L423.7 528.6L425.4 530.6L427.1 532.5L428.7 534.2L430.3 536.0L432.0 537.8L433.7 539.7L435.5 541.4L437.2 543.1L438.7 544.6L440.0 545.8L441.0 546.7L441.3 546.5L440.5 545.4L439.4 544.0L438.1 542.3L436.6 540.4L435.0 538.5L433.4 536.6L431.7 534.7L430.1 533.0L428.4 531.3L426.6 529.4L424.7 527.6L422.8 525.7L421.0 524.0L419.4 522.5L418.0 521.2L417.0 520.2Z" fill="#A83CC4" opacity="0.49"/>
<path d="M376.5 498.6L377.4 500.5L378.5 503.0L379.9 505.9L381.4 509.2L383.1 512.7L384.8 516.3L386.6 519.8L388.3 523.1L390.0 526.5L392.0 530.1L394.2 533.9L396.3 537.7L398.4 541.3L400.3 544.5L401.9 547.2L403.0 549.2L403.4 549.0L402.3 546.9L400.9 544.1L399.2 540.8L397.3 537.2L395.3 533.3L393.2 529.5L391.2 525.8L389.4 522.5L387.7 519.2L385.9 515.7L384.1 512.2L382.3 508.8L380.6 505.6L379.1 502.7L377.8 500.3L376.8 498.5Z" fill="#A83CC4" opacity="0.43"/>
<path d="M374.1 541.4L374.9 542.1L375.9 543.1L377.1 544.3L378.5 545.6L379.9 546.9L381.5 548.2L383.0 549.5L384.6 550.6L386.2 551.7L388.0 552.8L389.9 553.8L391.9 554.9L393.7 555.8L395.4 556.6L396.8 557.3L397.8 557.9L398.0 557.5L397.0 556.8L395.8 556.0L394.2 554.9L392.5 553.8L390.7 552.6L388.9 551.3L387.2 550.2L385.6 549.1L384.1 548.0L382.5 546.9L380.9 545.7L379.3 544.5L377.8 543.4L376.4 542.5L375.3 541.6L374.4 541.0Z" fill="#A83CC4" opacity="0.49"/>
<path d="M387.9 507.6L389.7 508.6L392.0 509.9L394.8 511.5L397.9 513.2L401.2 515.1L404.6 516.9L407.9 518.8L411.1 520.5L414.3 522.3L417.9 524.2L421.6 526.2L425.4 528.1L429.0 529.9L432.3 531.4L435.0 532.7L437.1 533.6L437.3 533.3L435.3 532.1L432.8 530.5L429.7 528.5L426.3 526.4L422.7 524.3L419.0 522.2L415.4 520.3L412.1 518.6L408.8 517.0L405.4 515.3L401.9 513.6L398.5 512.0L395.3 510.5L392.4 509.2L389.9 508.1L388.1 507.2Z" fill="#A83CC4" opacity="0.49"/>
<path d="M380.5 525.2L381.3 526.3L382.3 527.8L383.6 529.6L385.1 531.6L386.6 533.6L388.2 535.7L389.7 537.6L391.2 539.5L392.6 541.3L394.0 543.3L395.6 545.3L397.1 547.3L398.5 549.2L399.8 550.9L400.8 552.3L401.7 553.4L402.0 553.2L401.3 552.0L400.4 550.5L399.3 548.6L398.1 546.6L396.8 544.4L395.5 542.3L394.1 540.2L392.7 538.3L391.3 536.4L389.7 534.4L388.0 532.5L386.3 530.6L384.6 528.8L383.0 527.2L381.8 525.9L380.8 524.9Z" fill="#A83CC4" opacity="0.60"/>
<path d="M406.8 552.9L407.7 554.1L408.9 555.7L410.3 557.7L411.8 559.9L413.5 562.1L415.3 564.4L417.0 566.6L418.7 568.6L420.5 570.5L422.4 572.5L424.5 574.4L426.6 576.4L428.6 578.2L430.3 579.8L431.8 581.1L433.0 582.1L433.2 581.8L432.2 580.7L430.7 579.3L429.0 577.6L427.1 575.8L425.1 573.8L423.1 571.8L421.2 569.8L419.5 567.9L417.8 565.9L416.0 563.8L414.2 561.6L412.5 559.4L410.8 557.3L409.3 555.4L408.1 553.8L407.1 552.6Z" fill="#A83CC4" opacity="0.32"/>
<path d="M384.0 516.0L385.5 516.3L387.5 516.8L389.9 517.5L392.5 518.2L395.2 518.9L398.0 519.7L400.5 520.4L402.8 521.0L404.8 521.6L406.8 522.2L408.7 522.7L410.6 523.2L412.4 523.7L414.1 524.1L415.7 524.5L417.4 524.8L418.9 525.1L420.5 525.3L422.1 525.5L423.5 525.6L424.8 525.8L426.0 525.9L427.0 526.1L427.8 526.2L427.8 526.0L427.1 525.8L426.1 525.5L425.0 525.2L423.7 524.8L422.3 524.4L420.8 523.9L419.3 523.4L417.8 523.0L416.2 522.5L414.6 522.1L412.9 521.7L411.1 521.2L409.2 520.8L407.3 520.3L405.3 519.9L403.2 519.5L400.9 519.0L398.2 518.5L395.5 518.0L392.7 517.5L390.0 517.0L387.6 516.5L385.5 516.1L384.0 515.8Z" fill="#D060DC" opacity="0.57"/>
<path d="M384.0 551.7L384.6 551.8L385.3 551.8L386.1 551.8L387.0 551.8L388.1 551.9L389.4 552.1L390.9 552.4L392.7 552.8L394.8 553.4L397.2 554.1L400.0 555.0L402.9 555.9L405.9 556.8L408.9 557.7L411.7 558.6L414.3 559.4L416.7 560.2L419.1 560.9L421.5 561.7L423.8 562.4L426.0 563.2L428.1 563.9L430.1 564.6L431.9 565.3L433.7 566.0L435.3 566.8L436.8 567.5L438.3 568.3L439.5 569.0L440.7 569.7L441.6 570.3L442.3 570.7L442.4 570.5L441.7 570.1L440.8 569.5L439.7 568.7L438.5 567.9L437.1 567.0L435.7 566.1L434.1 565.1L432.4 564.2L430.6 563.3L428.7 562.4L426.7 561.5L424.5 560.5L422.2 559.6L419.9 558.7L417.5 557.8L415.0 557.0L412.4 556.2L409.5 555.4L406.5 554.7L403.4 554.0L400.4 553.3L397.6 552.8L395.0 552.3L392.8 551.9L391.0 551.7L389.5 551.5L388.1 551.5L387.0 551.5L386.1 551.5L385.3 551.5L384.6 551.6L384.0 551.5Z" fill="#D060DC" opacity="0.57"/>
<path d="M396.4 564.9L396.8 565.2L397.4 565.6L398.1 566.2L398.8 566.8L399.6 567.5L400.5 568.2L401.4 569.0L402.5 569.6L403.5 570.2L404.5 570.6L405.6 571.0L406.7 571.3L407.9 571.7L409.3 572.2L410.8 572.7L412.7 573.3L415.1 574.1L418.0 575.1L421.2 576.2L424.5 577.3L427.8 578.4L430.8 579.4L433.3 580.3L435.1 580.9L435.1 580.7L433.4 580.0L431.0 578.9L428.1 577.6L425.0 576.1L421.8 574.6L418.8 573.1L416.0 571.8L413.7 570.8L411.8 570.0L410.2 569.4L408.8 568.9L407.6 568.5L406.5 568.1L405.5 567.8L404.5 567.5L403.5 567.2L402.4 566.9L401.4 566.6L400.3 566.3L399.3 565.9L398.4 565.6L397.6 565.2L397.0 564.9L396.5 564.7Z" fill="#D060DC" opacity="0.57"/>
<path d="M433.6 538.6L434.1 539.4L434.8 540.5L435.7 541.9L436.6 543.4L437.6 544.9L438.6 546.5L439.5 547.9L440.3 549.1L441.0 550.2L441.5 551.0L441.9 551.9L442.4 552.7L443.0 553.6L443.8 554.5L444.9 555.5L446.3 556.7L448.2 558.0L450.7 559.6L453.4 561.3L456.4 563.0L459.3 564.7L461.9 566.2L464.1 567.5L465.7 568.5L465.8 568.3L464.3 567.3L462.1 565.9L459.6 564.2L456.9 562.3L454.1 560.4L451.4 558.5L449.1 556.8L447.3 555.4L446.0 554.3L445.0 553.3L444.4 552.5L443.8 551.8L443.4 551.0L442.9 550.2L442.3 549.3L441.5 548.3L440.6 547.1L439.5 545.8L438.4 544.4L437.2 542.9L436.1 541.6L435.1 540.3L434.3 539.2L433.7 538.4Z" fill="#D060DC" opacity="0.45"/>
<path d="M417.5 566.3L418.4 567.1L419.7 568.2L421.1 569.6L422.7 571.1L424.4 572.6L426.0 574.0L427.5 575.3L428.8 576.3L429.9 577.1L430.9 577.9L431.8 578.5L432.7 579.1L433.4 579.7L434.1 580.1L434.6 580.6L435.0 580.9L435.2 580.8L434.8 580.4L434.3 579.9L433.7 579.3L433.1 578.6L432.4 577.8L431.6 577.0L430.8 576.1L429.7 575.1L428.5 574.1L427.0 572.8L425.2 571.5L423.4 570.2L421.6 569.0L420.0 567.9L418.6 566.9L417.6 566.2Z" fill="#D060DC" opacity="0.42"/>
<path d="M427.8 522.5L428.4 523.1L428.9 523.9L429.5 524.5L430.2 525.0L430.9 525.3L431.8 525.3L432.7 525.3L433.6 525.4L433.7 525.3L433.1 524.7L432.5 523.9L431.9 523.3L431.3 522.8L430.5 522.5L429.6 522.5L428.7 522.5L427.8 522.3Z" fill="#D060DC" opacity="0.51"/>
<path d="M388.3 550.3L389.3 551.2L390.1 552.3L391.0 553.3L392.0 554.0L393.2 554.5L394.5 554.8L395.8 555.0L397.1 555.4L397.2 555.2L396.3 554.3L395.4 553.2L394.5 552.2L393.5 551.4L392.3 550.9L391.0 550.6L389.7 550.4L388.4 550.1Z" fill="#D060DC" opacity="0.48"/>
<path d="M452.6 543.7L453.2 544.2L453.8 544.8L454.5 545.4L455.1 545.8L455.9 546.1L456.7 546.3L457.6 546.4L458.4 546.6L458.5 546.4L457.8 545.9L457.2 545.3L456.6 544.7L455.9 544.3L455.2 544.0L454.3 543.8L453.5 543.7L452.7 543.5Z" fill="#D060DC" opacity="0.42"/>
<path d="M424.8 573.6L425.8 574.3L426.8 575.1L427.8 575.8L428.8 576.4L430.0 576.7L431.2 576.9L432.4 577.0L433.6 577.3L433.7 577.1L432.7 576.4L431.7 575.6L430.7 574.9L429.7 574.3L428.5 574.0L427.3 573.8L426.1 573.7L424.9 573.4Z" fill="#D060DC" opacity="0.45"/>
<path d="M438.0 568.5L438.2 568.7L438.6 568.9L439.0 569.2L439.4 569.5L439.8 569.9L440.3 570.3L440.7 570.6L441.2 570.9L441.7 571.2L442.3 571.4L443.0 571.6L443.8 571.7L444.5 571.8L445.1 571.9L445.6 572.0L446.0 572.2L446.1 572.0L445.8 571.8L445.4 571.4L444.9 571.0L444.4 570.4L443.9 569.9L443.3 569.5L442.7 569.1L442.1 568.9L441.6 568.7L441.0 568.6L440.3 568.6L439.8 568.5L439.2 568.5L438.7 568.5L438.3 568.4L438.1 568.3Z" fill="#D060DC" opacity="0.48"/>
<path d="M444.5 553.9L444.8 554.1L445.1 554.5L445.4 554.9L445.8 555.4L446.2 556.0L446.7 556.5L447.1 557.0L447.6 557.5L448.1 558.0L448.8 558.4L449.5 558.8L450.2 559.2L451.0 559.6L451.6 559.9L452.2 560.2L452.5 560.5L452.7 560.3L452.4 560.0L452.0 559.5L451.5 558.9L451.1 558.3L450.5 557.6L450.0 557.0L449.4 556.4L448.9 556.0L448.3 555.6L447.7 555.3L447.1 555.0L446.4 554.7L445.9 554.4L445.4 554.2L444.9 553.9L444.6 553.7Z" fill="#D060DC" opacity="0.45"/>
<path d="M411.7 534.9L412.0 535.1L412.3 535.4L412.7 535.7L413.1 536.1L413.6 536.5L414.0 537.0L414.5 537.4L414.9 537.7L415.3 538.1L415.9 538.4L416.5 538.8L417.1 539.2L417.7 539.5L418.2 539.8L418.7 540.1L419.0 540.3L419.1 540.2L418.8 539.9L418.5 539.5L418.2 539.0L417.8 538.4L417.4 537.8L416.9 537.2L416.4 536.8L415.9 536.4L415.4 536.0L414.8 535.8L414.2 535.5L413.6 535.4L413.0 535.2L412.5 535.0L412.1 534.9L411.8 534.8Z" fill="#D060DC" opacity="0.45"/>
<path d="M386.9 545.9L387.2 546.1L387.6 546.5L388.0 546.9L388.5 547.4L389.1 548.0L389.6 548.5L390.1 549.0L390.7 549.4L391.2 549.7L391.9 550.1L392.6 550.4L393.4 550.7L394.1 551.0L394.7 551.3L395.3 551.5L395.6 551.7L395.7 551.6L395.4 551.3L395.0 550.8L394.6 550.3L394.1 549.7L393.6 549.0L393.1 548.4L392.5 547.9L391.9 547.5L391.3 547.1L390.6 546.8L389.9 546.6L389.1 546.4L388.4 546.2L387.8 546.0L387.3 545.9L387.0 545.7Z" fill="#D060DC" opacity="0.48"/>
<path d="M398.6 550.3L398.9 550.5L399.4 550.8L400.0 551.2L400.7 551.6L401.3 552.1L402.0 552.6L402.6 553.0L403.2 553.3L403.8 553.6L404.5 553.9L405.2 554.2L405.9 554.4L406.6 554.7L407.2 554.9L407.7 555.2L408.0 555.4L408.1 555.2L407.8 554.9L407.5 554.6L407.0 554.1L406.5 553.5L406.0 552.9L405.4 552.4L404.8 551.9L404.2 551.4L403.5 551.1L402.7 550.9L401.9 550.7L401.1 550.5L400.3 550.4L399.6 550.3L399.1 550.2L398.6 550.1Z" fill="#D060DC" opacity="0.48"/>
<path d="M389.8 525.4L390.2 525.6L390.7 525.9L391.2 526.3L391.9 526.8L392.5 527.2L393.2 527.7L393.9 528.1L394.5 528.4L395.2 528.8L395.9 529.1L396.7 529.4L397.5 529.6L398.3 529.9L399.0 530.1L399.6 530.4L400.0 530.6L400.1 530.4L399.7 530.1L399.3 529.7L398.7 529.2L398.1 528.6L397.5 528.1L396.8 527.5L396.1 527.0L395.4 526.7L394.7 526.4L393.9 526.1L393.1 525.9L392.3 525.8L391.5 525.6L390.8 525.5L390.3 525.4L389.9 525.3Z" fill="#D060DC" opacity="0.45"/>
<path d="M405.9 541.5L406.2 541.7L406.6 542.0L407.1 542.3L407.6 542.8L408.2 543.2L408.7 543.6L409.3 544.0L409.8 544.4L410.4 544.7L411.0 545.0L411.7 545.3L412.4 545.6L413.1 545.9L413.7 546.2L414.2 546.4L414.6 546.6L414.7 546.4L414.4 546.2L414.0 545.8L413.5 545.3L413.0 544.8L412.5 544.2L411.9 543.7L411.3 543.2L410.7 542.8L410.1 542.5L409.4 542.3L408.7 542.1L408.0 541.9L407.4 541.7L406.8 541.6L406.3 541.5L405.9 541.3Z" fill="#D060DC" opacity="0.42"/>
<path d="M420.4 545.9L420.8 546.1L421.2 546.5L421.7 546.9L422.2 547.5L422.7 548.0L423.3 548.5L423.8 549.0L424.3 549.4L424.8 549.8L425.4 550.2L426.0 550.7L426.6 551.1L427.2 551.5L427.7 551.8L428.2 552.2L428.5 552.4L428.6 552.3L428.3 552.0L428.0 551.5L427.7 551.0L427.3 550.4L426.9 549.7L426.5 549.1L426.0 548.5L425.4 548.0L424.9 547.6L424.2 547.2L423.5 546.9L422.7 546.6L422.0 546.3L421.4 546.1L420.9 545.9L420.6 545.7Z" fill="#D060DC" opacity="0.42"/>
</g></g>
<rect x="384.9" y="416.100" width="97.6" height="87.500" fill="#060408"/>
<g filter="url(#b06)">
<path d="M408.8 480.7l2.0 0.6M386.3 443.9l0.7 1.3M420.8 444.7l1.0 0.4M457.8 461.2l1.4 0.2M388.9 447.0l0.9 0.5M472.8 456.2l1.0 1.4M441.1 431.5l0.7 0.7M472.5 490.8l1.1 1.1M458.5 485.6l1.1 -0.1M416.7 459.2l1.0 1.1M446.0 472.7l1.5 0.9M398.7 438.4l1.4 1.2M472.0 441.6l1.3 0.9M400.7 460.2l0.9 0.7M447.0 453.1l0.9 1.4M461.2 461.0l1.7 1.2M424.5 449.1l0.9 1.4M433.9 435.6l2.0 1.4M432.1 481.7l0.4 1.3M441.4 487.6l0.2 1.9M440.7 456.4l1.3 -0.0M437.8 471.4l0.6 1.9M446.7 467.4l1.1 1.7M440.0 490.4l0.8 1.0M387.2 490.9l1.1 1.2M446.0 471.5l1.0 0.5M414.2 460.8l2.4 0.4M430.7 487.9l1.3 1.7M439.7 444.4l1.3 0.1M439.7 466.8l0.6 1.5M400.0 442.3l1.8 1.1M437.8 420.4l1.7 0.1M413.6 438.3l1.0 1.4M408.2 473.4l1.7 1.3M389.8 438.6l1.0 0.3M443.8 465.2l1.1 0.2M393.6 449.3l1.2 0.2M438.8 426.5l1.8 1.2M400.9 435.2l0.4 1.1M438.2 465.2l1.6 1.2M408.9 470.6l1.0 0.7M446.5 444.8l1.0 1.6M438.3 419.6l0.7 0.9M436.0 457.1l1.8 1.0M461.5 461.8l-0.4 1.5M472.3 469.4l1.4 1.3M409.9 470.0l1.5 1.0M391.3 434.4l0.9 0.7M415.6 420.8l2.2 0.5M428.6 447.6l1.6 0.6M469.4 474.5l0.3 1.1M436.0 441.5l1.6 1.0M416.8 477.3l0.9 0.7M427.5 423.0l1.3 1.1M460.4 490.5l0.7 0.9M444.2 473.9l1.6 -0.0M480.2 441.6l1.2 0.7M414.1 428.8l1.1 0.0M440.9 464.2l1.6 1.7M443.1 456.4l0.7 0.9M411.5 440.3l1.3 1.7M467.0 444.5l0.9 1.1M436.5 472.4l1.2 1.4M468.0 464.2l0.9 1.1M419.2 465.1l1.4 0.9M405.0 473.5l1.0 0.8M395.6 481.0l1.3 1.5M421.5 450.2l1.5 -0.3M409.3 442.8l0.8 0.7M432.3 469.8l1.5 -0.6M388.6 429.2l2.1 0.8M399.4 466.0l1.9 1.4M442.2 443.6l2.4 0.2M455.9 487.9l0.0 2.1M389.9 474.8l1.3 0.2M413.9 487.9l1.1 0.7M453.4 450.9l0.9 0.5M481.5 492.6l1.5 0.1M479.2 482.2l0.3 1.5M423.6 461.4l0.7 0.9M421.5 425.1l0.2 2.4M423.9 469.2l1.6 0.1M429.1 471.3l2.3 0.0M395.1 429.4l1.3 0.9M443.0 472.0l2.1 0.6M400.2 457.1l0.9 0.8M400.6 489.3l1.5 1.1M426.3 460.1l1.7 1.3M464.4 464.3l1.0 1.9M419.8 492.6l1.9 0.3M469.4 481.5l1.9 1.1M398.7 471.0l2.1 -0.4M430.0 445.1l0.5 0.9M435.5 473.6l1.3 0.6M448.7 483.8l0.9 0.5M420.8 486.6l1.6 0.6M429.6 491.7l2.0 0.4M434.9 468.0l1.5 0.7M459.4 478.3l1.0 2.0M471.2 480.1l0.5 1.0M480.2 446.8l2.0 0.1M409.8 485.8l1.9 0.1M392.6 455.6l1.0 2.1M431.8 452.3l1.9 0.8M405.3 456.1l1.6 0.6M451.9 447.7l1.3 0.1" stroke="#4A9AE0" stroke-width="2.3" stroke-linecap="round" fill="none" opacity="0.8"/>
<path d="M416.0 469.1l1.2 1.2M402.7 417.3l1.7 0.6M388.9 426.7l0.2 1.0M393.9 435.9l1.6 0.1M438.3 488.1l1.8 1.5M447.5 461.9l1.1 0.9M480.7 484.5l1.6 1.8M465.0 489.4l-0.8 1.3M411.1 431.7l1.8 0.3M462.2 472.9l0.4 2.2M423.2 425.2l0.1 1.8M387.5 440.3l1.3 0.4M453.7 467.6l1.8 -0.1M390.1 461.5l1.6 1.6M454.8 445.6l1.6 0.8M388.2 426.3l1.6 1.1M441.2 453.7l1.6 1.7M469.1 461.7l2.0 0.9M436.9 474.8l1.1 0.1M394.1 443.4l1.7 0.1M438.4 464.2l2.2 0.4M416.8 493.2l1.6 0.1M442.2 438.0l1.2 1.0M403.2 472.3l0.7 1.1M470.5 430.2l2.2 0.8M459.9 423.7l0.9 1.2M414.4 444.8l0.6 1.9M394.4 431.2l1.7 -0.2M465.5 499.6l1.6 0.2M391.1 460.9l1.9 0.9M464.3 443.6l2.2 0.5M405.4 465.1l1.3 0.4M429.7 454.6l1.2 1.4M435.3 459.1l0.9 1.5M464.4 442.4l0.3 1.9M476.9 450.8l2.2 -0.6M388.2 431.7l1.1 1.7M406.5 422.5l1.0 0.8M421.4 451.5l0.3 2.1M447.2 476.3l1.3 0.6M406.7 424.3l1.9 0.4M465.8 461.1l0.9 0.7M425.6 454.3l1.1 0.7M427.2 441.3l0.4 1.1M391.3 482.1l1.4 0.7M428.0 466.0l2.1 0.3M436.4 445.8l1.4 0.7M411.2 442.8l1.3 0.6M410.3 454.5l2.0 1.3M392.6 450.6l1.1 0.2M476.5 452.8l0.8 0.7M463.6 470.1l1.1 0.5M440.3 450.3l1.4 0.7M465.5 467.0l2.1 0.8M460.6 461.9l1.7 1.4M404.8 483.0l1.6 -0.2M451.8 457.8l1.3 1.3M439.9 418.7l0.9 0.7M424.1 455.9l0.8 1.5M419.8 444.0l1.8 0.7M447.6 480.8l1.0 0.7M402.4 470.1l1.8 0.3M424.0 477.0l2.0 1.3M395.2 447.8l1.1 0.8M423.1 468.4l2.1 0.6M460.8 454.9l0.7 1.0M417.7 445.2l0.7 1.7M456.8 474.9l1.9 1.4M410.6 438.2l1.4 0.8M455.5 459.0l1.9 0.9M414.0 453.9l0.6 1.3M401.6 449.9l0.3 1.2M434.2 426.1l1.4 1.3M407.7 457.5l1.3 0.4M413.5 462.4l1.4 0.5M454.9 495.4l2.0 0.7M475.8 490.6l1.0 0.3M398.1 442.9l0.6 1.3M425.1 463.8l1.4 1.5M460.8 473.3l1.4 1.3M393.0 459.2l1.6 1.2M467.7 485.1l0.8 0.8M395.6 434.7l1.1 -0.0M462.7 440.4l0.8 1.1M425.6 462.5l1.7 0.1M459.0 471.7l2.2 0.6M407.8 430.2l1.5 0.9M455.5 455.8l1.6 0.5" stroke="#3F8ED8" stroke-width="2.3" stroke-linecap="round" fill="none" opacity="0.8"/>
<path d="M430.5 475.7l2.0 0.1M419.3 457.1l1.6 1.3M451.0 450.5l1.1 1.5M442.8 451.4l1.4 0.6M394.8 443.7l2.1 -0.5M435.2 434.1l1.9 0.2M447.2 474.3l1.1 1.7M474.0 451.3l1.6 1.6M449.0 477.3l1.5 1.7M410.4 459.4l1.2 0.6M443.5 476.0l1.7 0.8M414.3 432.4l0.8 0.7M481.6 498.5l1.7 1.4M462.7 471.4l1.2 0.8M420.9 439.7l1.2 1.1M424.2 416.8l1.6 0.7M434.7 466.7l1.4 0.4M422.7 474.0l1.3 0.9M411.5 460.2l1.3 1.3M425.1 448.5l2.3 -0.1M422.6 479.5l1.6 0.2M418.8 468.2l1.8 0.6M443.6 465.5l1.6 0.9M395.3 434.6l0.8 1.4M425.5 448.9l1.5 -0.1M386.9 435.6l0.7 1.1M386.7 450.7l1.0 -0.6M393.9 456.9l1.0 1.5M462.3 454.8l1.0 0.9M418.3 438.0l1.6 0.9M423.9 487.0l1.3 1.1M392.8 422.3l1.4 -0.2M465.3 468.8l2.3 0.4M433.7 446.4l1.9 -0.4M439.6 491.9l1.4 -0.3M395.6 473.0l0.6 0.9M458.2 452.4l1.6 1.7M455.0 447.6l2.1 0.4M422.6 500.9l1.4 0.6M444.5 472.2l0.8 1.1M462.4 478.3l1.2 1.2M454.7 473.7l0.8 0.9M432.8 462.3l0.8 1.0M475.0 461.1l0.9 0.6M480.5 493.2l1.9 1.3M432.7 463.8l1.7 1.5M459.7 467.7l0.8 0.7M439.0 435.3l2.3 0.7M413.8 433.8l0.5 1.5M422.9 458.8l0.9 0.5M477.5 464.4l1.0 1.9M408.2 484.2l1.3 0.7M389.4 461.5l0.3 1.9M427.9 442.8l0.6 0.9M406.7 465.8l0.8 0.8M393.6 441.8l1.0 0.4M426.6 451.8l1.4 1.3M479.9 486.4l1.9 1.4M478.1 482.3l1.8 0.8M431.2 447.3l1.9 0.5M399.6 469.5l1.2 1.8M480.9 487.6l1.9 0.9M452.1 478.0l2.0 -0.4M435.9 449.7l0.9 0.9M438.8 467.2l1.3 0.1M455.6 480.1l0.5 1.0M450.4 475.8l2.1 0.2M436.4 467.0l1.7 1.2M470.1 465.7l1.5 0.8M405.0 417.0l1.8 0.9M462.3 451.9l1.9 0.6M402.8 458.5l2.1 -0.2M460.1 469.5l0.9 1.2M471.5 438.7l0.9 0.9M417.3 426.2l0.8 0.7M407.9 461.8l0.2 1.8M432.4 433.9l1.0 1.0M417.8 495.9l0.8 0.7M415.2 431.9l1.6 0.6M413.4 419.6l1.7 -0.4M441.5 447.0l1.8 -0.1M430.0 472.7l1.4 1.7M426.4 481.4l2.3 0.0M462.4 495.3l1.2 0.7M467.7 432.5l0.9 1.2M454.3 451.4l1.4 0.1M451.0 448.0l1.8 0.5M418.0 493.0l1.7 1.3M402.5 453.2l1.1 1.3M423.3 454.4l0.7 1.5M391.4 491.0l0.7 1.2M476.7 492.3l1.1 2.0M423.7 442.1l1.8 1.2M435.0 467.1l-0.1 1.6M437.5 462.4l2.2 -1.0M435.4 438.4l0.5 1.4M399.8 427.1l2.4 0.3M454.1 462.2l1.2 0.9M408.6 497.2l1.9 0.8M447.4 473.7l1.2 1.3M420.3 425.9l1.2 1.1M427.4 478.7l0.7 0.8M469.5 488.5l1.5 0.8M421.0 431.7l1.0 1.5M435.2 448.7l0.6 0.9M437.2 475.8l1.3 0.5M385.3 488.6l2.0 1.1M434.8 441.9l2.3 0.0M446.4 462.5l1.5 0.0M433.7 446.2l1.2 1.0M481.5 461.6l1.3 1.4M393.8 447.6l0.5 1.5M393.8 416.7l0.4 2.0M416.9 476.7l1.4 1.1M465.8 498.0l1.3 1.5M476.7 482.4l0.8 1.1M402.8 499.6l1.1 0.6M439.2 475.6l1.1 1.9M480.1 449.5l0.9 1.5M391.1 471.9l1.5 0.9" stroke="#5AA6E8" stroke-width="2.3" stroke-linecap="round" fill="none" opacity="0.8"/>
<path d="M472.2 472.8l1.5 0.4M439.3 467.4l0.0 1.8M401.3 449.4l1.3 1.0M384.5 428.4l1.7 0.4M453.1 440.5l1.5 1.2M454.8 445.8l2.0 1.3M411.4 444.7l0.7 1.2M464.4 472.7l1.8 0.9M397.9 446.6l0.9 1.2M422.6 439.7l1.1 1.3M436.1 449.7l0.8 0.8M403.8 445.0l0.9 1.2M431.2 437.0l2.0 0.3M417.6 417.5l2.3 0.1M450.1 457.5l1.5 1.2M388.1 458.3l0.8 0.8M424.0 451.0l0.6 1.3M399.7 482.0l1.0 0.7M429.2 466.0l1.1 1.1M420.6 464.3l1.1 0.5M441.3 490.0l1.9 1.1M477.1 473.6l1.5 -0.1M405.9 422.8l1.8 1.3M442.6 457.5l1.5 0.0M405.5 429.8l1.7 0.4M433.1 494.6l1.3 -0.2M418.8 443.6l2.4 0.1M434.4 470.4l0.7 1.0M414.0 453.8l1.3 0.9M447.8 447.0l0.7 1.8M429.2 453.3l1.4 0.1M442.8 490.9l1.9 1.4M444.8 452.3l1.7 0.8M405.5 438.9l1.4 1.5M417.4 467.6l0.6 2.0M391.4 500.6l1.2 1.2M387.6 418.5l1.1 1.4M438.3 467.7l1.7 1.0M457.6 478.6l1.1 0.4M394.2 420.4l2.1 -0.2M454.4 423.2l1.1 0.8M412.9 486.7l1.4 0.3M416.0 422.8l2.0 0.9M437.8 447.2l1.2 2.0M403.2 439.3l1.4 1.0M455.0 467.6l1.3 1.4M459.5 471.2l1.1 2.1M420.0 441.7l1.3 0.4M474.2 476.3l2.0 1.3M397.2 452.0l1.6 1.1M457.5 455.1l1.1 0.9M447.9 486.1l1.8 -0.7M449.0 443.2l1.0 0.5M397.8 443.4l1.3 0.9M459.4 497.7l0.9 1.7M470.2 468.8l0.2 1.7M415.1 442.7l2.1 -0.3M451.9 477.9l0.8 0.7M457.8 486.0l1.7 1.0M467.1 473.0l1.1 0.3M422.9 441.0l1.7 1.0M389.0 437.1l0.6 1.2M388.4 433.4l0.6 1.3M423.8 479.8l1.0 1.9M450.3 477.5l2.1 1.2M417.9 460.7l1.4 1.1M472.3 446.3l1.2 2.1M413.9 459.7l1.8 1.1M396.7 437.2l1.6 0.1M390.1 445.7l0.9 0.5M409.8 452.3l1.1 1.2M481.8 480.1l1.1 0.7M458.8 462.7l1.7 1.5M476.1 452.7l1.0 0.9M387.7 487.4l1.8 0.2M426.7 467.1l0.6 1.9M440.6 432.6l1.8 0.8M464.3 441.1l0.9 0.5M425.7 482.3l1.6 0.8M404.0 475.1l0.8 2.1M441.7 460.1l1.1 0.9M454.3 472.6l0.0 1.5M468.4 458.1l1.9 1.5M438.4 486.3l1.7 1.5M433.9 461.4l2.0 0.8M438.2 455.2l1.3 1.9M419.9 470.6l0.9 0.9M445.1 497.5l1.7 0.9M401.2 475.3l1.2 1.8M412.7 470.4l0.3 1.3M423.0 479.0l1.9 0.2M475.6 496.4l1.0 2.1M425.2 460.6l1.8 0.5M387.3 434.4l1.3 1.0M440.8 464.1l1.7 1.4M414.2 475.5l0.5 1.8M443.6 469.6l1.5 1.3M473.9 461.0l1.6 1.1M402.9 492.9l1.2 0.8M465.0 455.8l2.0 0.1M473.9 469.5l0.2 1.6M433.0 464.1l2.0 0.3M471.1 481.5l1.7 0.7M418.8 498.9l1.4 1.1M471.7 486.5l1.4 1.6M422.1 440.9l1.0 0.6" stroke="#3C84CC" stroke-width="2.3" stroke-linecap="round" fill="none" opacity="0.8"/>
</g>
<use href="#ef0" y="-87" opacity="0.8" style="mix-blend-mode:screen"/>
<rect x="384.9" y="502" width="97.6" height="1.600" fill="#fff"/>
</g>
<rect x="459.4" y="496.3" width="18.300" height="1.800" fill="#fff"/>
<rect x="459.4" y="584.1" width="18.300" height="1.800" fill="#fff"/>
<clipPath id="ec1"><rect x="484.7" y="416.100" width="98.0" height="173.600"/></clipPath>
<rect x="484.7" y="416.100" width="98.0" height="173.600" fill="#060408"/>
<g clip-path="url(#ec1)">
<g id="ef1">
<g filter="url(#b2)" opacity="0.15">
<path d="M527.3 505.7L527.3 507.0L527.4 508.6L527.5 510.7L527.6 512.8L527.7 515.1L527.8 517.3L527.9 519.3L527.9 520.9L527.8 522.3L527.7 523.6L527.4 524.7L527.1 525.9L526.8 527.0L526.4 528.2L526.0 529.4L525.7 530.8L525.3 532.2L524.9 533.7L524.5 535.1L524.1 536.7L523.7 538.2L523.3 539.7L522.9 541.1L522.4 542.5L522.0 543.9L521.4 545.4L520.9 546.9L520.3 548.4L519.8 549.8L519.3 551.0L518.9 552.1L518.6 552.9L519.5 553.3L519.9 552.5L520.4 551.5L521.0 550.3L521.7 549.0L522.4 547.6L523.1 546.1L523.8 544.7L524.4 543.2L525.0 541.8L525.5 540.4L526.1 538.9L526.6 537.4L527.1 535.9L527.6 534.4L528.1 533.0L528.5 531.6L528.9 530.3L529.3 529.1L529.7 528.0L530.2 526.8L530.5 525.5L530.8 524.1L531.0 522.7L531.2 521.0L531.1 519.1L530.9 517.0L530.5 514.8L530.1 512.5L529.6 510.3L529.0 508.4L528.6 506.8L528.3 505.6Z" fill="#A83CC4" opacity="0.75"/>
<path d="M525.9 505.4L525.6 505.9L525.2 506.4L524.8 507.1L524.4 507.8L524.1 508.4L524.0 509.0L524.0 509.5L524.2 509.9L524.4 510.4L524.9 510.8L525.5 511.3L526.2 511.8L526.9 512.2L527.7 512.6L528.3 512.9L528.8 513.1L529.7 512.8L530.0 512.3L530.3 511.7L530.7 511.0L531.1 510.2L531.4 509.4L531.5 508.6L531.5 507.8L531.4 507.2L531.2 506.6L530.8 506.1L530.2 505.8L529.5 505.5L528.7 505.3L528.0 505.2L527.3 505.1L526.8 505.0Z" fill="#A83CC4" opacity="0.85"/>
<path d="M529.1 516.0L528.7 517.0L528.4 518.0L528.3 518.9L528.4 519.8L528.7 520.6L529.3 521.3L530.1 521.9L531.0 522.6L531.9 522.3L532.3 521.3L532.6 520.3L532.7 519.4L532.6 518.5L532.3 517.8L531.7 517.0L530.9 516.4L530.0 515.7Z" fill="#A83CC4" opacity="0.80"/>
<path d="M512.6 535.7L512.3 537.0L512.0 538.7L511.6 540.5L511.3 542.4L511.2 544.2L511.3 545.5L511.6 546.4L512.2 546.8L513.0 547.0L514.2 547.1L515.8 546.9L517.5 546.6L519.4 546.1L521.1 545.6L522.7 545.1L523.8 544.7L524.5 544.0L524.7 542.8L525.0 541.2L525.4 539.4L525.6 537.5L525.7 535.6L525.5 534.0L525.1 532.7L524.4 531.7L523.5 530.9L522.3 530.6L520.8 530.8L519.2 531.4L517.4 532.3L515.8 533.3L514.3 534.2L513.2 534.9Z" fill="#A83CC4" opacity="0.97"/>
<path d="M513.6 535.2L513.4 536.2L513.2 537.5L513.0 539.0L512.9 540.6L512.8 542.0L513.0 543.1L513.3 543.9L513.7 544.3L514.2 544.6L515.0 544.9L516.0 545.1L517.3 545.4L518.6 545.6L519.9 545.8L521.0 545.9L521.8 546.0L522.7 545.6L523.1 544.8L523.6 543.8L524.1 542.7L524.6 541.4L525.0 540.0L525.1 538.7L524.9 537.4L524.4 536.2L523.6 535.1L522.5 534.4L521.2 534.0L519.7 533.8L518.1 533.9L516.6 534.1L515.3 534.3L514.3 534.5Z" fill="#A83CC4" opacity="0.90"/>
<path d="M553.6 504.0L553.1 505.0L552.5 506.2L551.8 507.6L551.1 509.3L550.3 511.0L549.5 512.7L548.8 514.4L548.1 515.9L547.5 517.5L547.0 519.1L546.4 520.8L545.9 522.5L545.6 524.1L545.8 525.7L546.2 527.1L546.6 528.1L547.5 528.4L548.4 527.7L549.5 526.7L550.5 525.5L551.1 524.0L551.6 522.3L552.0 520.6L552.4 518.9L552.7 517.3L553.0 515.6L553.3 513.8L553.6 511.9L553.9 510.1L554.1 508.3L554.3 506.7L554.4 505.3L554.6 504.3Z" fill="#A83CC4" opacity="0.42"/>
<path d="M549.2 522.2L548.7 522.8L548.1 523.5L547.3 524.3L546.4 525.3L545.5 526.3L544.5 527.4L543.5 528.6L542.6 529.8L541.6 531.1L540.7 532.5L539.7 534.0L538.8 535.6L537.9 537.3L537.1 539.0L536.5 540.8L535.9 542.5L535.4 544.3L534.9 546.1L534.6 547.9L534.3 549.8L534.0 551.6L533.8 553.3L533.7 555.0L533.6 556.5L533.5 558.0L533.5 559.5L533.4 560.9L533.4 562.2L533.4 563.4L533.4 564.5L533.4 565.4L533.4 566.1L534.4 566.4L534.8 565.8L535.3 565.0L535.9 564.1L536.5 563.1L537.2 562.0L538.0 560.9L538.8 559.7L539.5 558.4L540.3 557.1L541.2 555.7L542.1 554.2L542.9 552.6L543.8 551.0L544.6 549.4L545.3 547.7L546.0 546.2L546.6 544.6L547.3 542.9L547.8 541.1L548.3 539.4L548.7 537.6L549.1 535.9L549.3 534.2L549.5 532.6L549.6 531.1L549.8 529.6L549.9 528.1L549.9 526.7L550.0 525.5L550.1 524.3L550.1 523.4L550.2 522.6Z" fill="#A83CC4" opacity="0.90"/>
<path d="M533.5 566.0L532.8 566.5L532.0 567.0L531.1 567.8L530.3 568.7L529.8 569.7L529.3 570.7L528.9 571.6L528.6 572.3L528.4 572.7L528.1 573.1L527.7 573.5L527.3 574.0L526.7 574.5L526.2 575.3L525.7 576.2L525.3 577.2L525.0 578.4L524.9 579.7L524.9 581.0L524.9 582.4L525.0 583.7L525.0 584.9L525.1 585.9L525.1 586.6L526.1 586.7L526.3 586.0L526.6 585.1L526.9 584.0L527.3 582.7L527.7 581.5L528.1 580.3L528.5 579.3L528.9 578.6L529.2 578.2L529.5 577.9L529.8 577.6L530.3 577.3L530.8 576.9L531.5 576.4L532.2 575.7L532.8 574.8L533.4 573.8L533.9 572.8L534.4 571.7L534.8 570.6L534.9 569.3L534.8 568.2L534.6 567.2L534.4 566.4Z" fill="#A83CC4" opacity="0.85"/>
<path d="M545.6 543.2L544.8 544.5L544.2 545.7L543.8 546.7L544.0 547.4L544.6 547.8L545.6 547.9L547.0 547.8L548.5 547.5L549.4 547.0L550.2 545.6L550.9 544.4L551.2 543.4L551.0 542.7L550.4 542.3L549.4 542.2L548.0 542.3L546.5 542.6Z" fill="#A83CC4" opacity="0.90"/>
<path d="M533.9 568.1L535.0 567.6L536.4 567.0L538.1 566.2L539.9 565.4L541.8 564.4L543.5 563.4L545.1 562.4L546.5 561.5L547.6 560.8L548.7 560.2L549.6 559.7L550.6 559.2L551.5 558.6L552.6 558.1L553.6 557.5L554.8 556.9L556.2 556.2L557.7 555.3L559.3 554.4L560.9 553.5L562.5 552.6L563.9 551.8L565.1 551.1L566.0 550.6L565.6 549.7L564.6 550.0L563.3 550.4L561.7 550.9L560.0 551.4L558.2 552.0L556.5 552.6L554.8 553.1L553.3 553.7L552.1 554.1L550.9 554.6L549.9 555.0L548.8 555.4L547.7 555.9L546.6 556.4L545.4 557.1L544.2 557.8L542.7 558.7L541.1 559.8L539.5 561.1L537.9 562.5L536.5 564.0L535.2 565.3L534.1 566.4L533.3 567.3Z" fill="#A83CC4" opacity="0.60"/>
<path d="M570.3 550.6L571.8 551.6L573.3 552.4L574.7 552.8L575.9 552.7L576.9 552.1L577.7 551.0L578.4 549.5L579.0 547.7L578.7 546.8L577.2 545.8L575.7 545.0L574.4 544.6L573.2 544.7L572.2 545.3L571.3 546.5L570.6 548.0L570.0 549.7Z" fill="#A83CC4" opacity="0.95"/>
<path d="M485.6 574.0L486.9 574.0L488.6 573.9L490.7 573.8L492.9 573.6L495.1 573.4L497.2 573.1L499.1 572.8L500.6 572.5L501.8 572.4L502.8 572.3L503.9 572.3L504.9 572.3L506.0 572.4L507.3 572.5L508.6 572.5L510.0 572.5L511.5 572.4L513.2 572.3L514.9 572.1L516.6 572.0L518.3 571.8L519.7 571.6L521.0 571.5L521.9 571.4L522.0 570.4L521.1 570.1L519.9 569.8L518.5 569.4L516.9 568.9L515.2 568.4L513.6 568.0L511.9 567.6L510.5 567.3L509.3 567.0L508.2 566.6L507.0 566.3L505.8 566.0L504.4 565.8L502.9 565.6L501.3 565.6L499.5 565.8L497.6 566.2L495.5 566.9L493.4 567.8L491.4 569.0L489.4 570.2L487.7 571.3L486.3 572.3L485.3 573.1Z" fill="#A83CC4" opacity="0.70"/>
<path d="M485.3 582.7L485.8 583.0L486.4 583.3L487.2 583.7L488.1 584.2L489.1 584.6L490.1 585.1L491.3 585.5L492.6 585.8L494.0 586.1L495.4 586.4L496.9 586.7L498.5 587.0L500.2 587.2L502.0 587.3L503.9 587.5L505.9 587.5L508.0 587.5L510.3 587.5L512.7 587.4L515.2 587.3L517.7 587.1L520.2 586.9L522.7 586.5L525.1 586.1L527.4 585.6L529.8 584.9L532.1 584.1L534.5 583.3L536.7 582.4L538.8 581.6L540.8 580.8L542.6 580.0L544.3 579.4L545.9 578.7L547.5 578.0L548.8 577.4L550.1 576.8L551.2 576.2L552.1 575.8L552.8 575.4L552.4 574.5L551.7 574.9L550.7 575.3L549.6 575.7L548.4 576.3L547.0 576.9L545.5 577.5L543.8 578.1L542.1 578.7L540.3 579.4L538.3 580.1L536.1 580.9L533.9 581.7L531.6 582.5L529.3 583.2L527.0 583.8L524.7 584.3L522.4 584.7L520.0 585.0L517.5 585.3L515.1 585.5L512.6 585.6L510.2 585.7L508.0 585.8L505.9 585.8L504.0 585.8L502.1 585.7L500.4 585.6L498.7 585.5L497.1 585.3L495.6 585.1L494.2 584.8L492.9 584.6L491.7 584.3L490.6 583.9L489.5 583.6L488.5 583.2L487.6 582.8L486.9 582.4L486.2 582.1L485.7 581.8Z" fill="#A83CC4" opacity="0.45"/>
<path d="M484.6 582.8L484.9 583.4L485.3 584.2L485.8 585.1L486.4 586.1L487.2 587.0L488.1 587.8L489.1 588.4L490.1 588.7L491.3 588.9L492.6 588.9L494.0 588.8L495.5 588.5L496.9 588.2L498.1 587.8L499.2 587.4L499.9 587.2L500.2 586.2L499.6 585.6L498.8 584.8L497.8 584.0L496.7 583.0L495.6 582.2L494.4 581.5L493.4 580.9L492.5 580.6L491.6 580.3L490.6 580.2L489.6 580.3L488.5 580.5L487.4 580.9L486.4 581.2L485.6 581.6L484.9 581.8Z" fill="#A83CC4" opacity="0.65"/>
<path d="M554.3 567.8L553.8 568.8L553.1 570.1L552.4 571.6L551.9 573.2L551.8 574.9L552.1 576.4L552.7 577.9L553.3 579.2L554.0 580.7L554.9 582.2L556.0 583.7L557.1 585.2L558.2 586.6L559.3 587.9L560.2 589.0L560.9 589.7L561.8 589.4L562.0 588.4L562.1 587.0L562.2 585.4L562.4 583.6L562.4 581.7L562.4 579.8L562.3 578.1L562.2 576.6L561.9 575.1L561.6 573.7L561.1 572.2L560.2 570.9L558.9 569.8L557.6 568.9L556.3 568.1L555.3 567.6Z" fill="#A83CC4" opacity="0.85"/>
<path d="M525.5 582.3L524.4 583.3L523.5 584.3L522.9 585.2L522.8 586.1L523.1 586.9L523.8 587.8L524.9 588.6L526.1 589.3L527.1 589.3L528.2 588.3L529.1 587.3L529.7 586.4L529.9 585.5L529.6 584.6L528.9 583.8L527.8 583.0L526.5 582.3Z" fill="#A83CC4" opacity="0.90"/>
</g>
<g filter="url(#b05)">
<path d="M527.6 505.7L527.7 506.9L527.8 508.6L527.9 510.6L528.1 512.8L528.3 515.0L528.5 517.2L528.6 519.2L528.6 521.0L528.5 522.4L528.3 523.7L528.1 524.9L527.8 526.1L527.4 527.2L527.0 528.4L526.6 529.6L526.2 531.0L525.9 532.4L525.5 533.8L525.1 535.3L524.7 536.8L524.2 538.3L523.8 539.8L523.3 541.3L522.9 542.7L522.4 544.1L521.8 545.6L521.3 547.1L520.7 548.6L520.1 549.9L519.6 551.2L519.2 552.2L518.9 553.0L519.2 553.2L519.6 552.4L520.1 551.4L520.7 550.2L521.3 548.9L522.0 547.4L522.7 546.0L523.4 544.5L523.9 543.1L524.5 541.7L525.0 540.2L525.5 538.7L526.1 537.3L526.5 535.8L527.0 534.3L527.5 532.8L527.9 531.4L528.3 530.1L528.7 528.9L529.1 527.8L529.5 526.6L529.9 525.3L530.2 524.0L530.4 522.6L530.5 521.0L530.5 519.2L530.3 517.1L529.9 514.8L529.5 512.6L529.1 510.4L528.6 508.5L528.3 506.8L528.0 505.6Z" fill="#A83CC4" opacity="0.75"/>
<path d="M526.2 505.3L526.0 505.7L525.8 506.1L525.7 506.7L525.5 507.3L525.4 507.9L525.4 508.4L525.5 508.9L525.7 509.4L525.9 509.8L526.3 510.4L526.7 510.9L527.2 511.4L527.7 511.9L528.3 512.4L528.7 512.7L529.1 513.0L529.4 512.9L529.6 512.5L529.7 511.9L529.9 511.2L530.0 510.5L530.1 509.8L530.1 509.0L530.1 508.4L529.9 507.8L529.7 507.2L529.4 506.7L529.0 506.3L528.4 506.0L527.9 505.7L527.3 505.4L526.9 505.3L526.5 505.1Z" fill="#A83CC4" opacity="0.85"/>
<path d="M529.4 515.9L529.2 516.9L529.1 517.8L529.1 518.7L529.2 519.5L529.6 520.3L530.0 521.1L530.6 521.8L531.3 522.5L531.6 522.4L531.8 521.4L531.9 520.5L531.9 519.6L531.7 518.8L531.4 518.0L531.0 517.2L530.4 516.5L529.7 515.8Z" fill="#A83CC4" opacity="0.80"/>
<path d="M512.8 535.4L512.8 536.3L512.8 537.5L512.8 538.8L513.0 540.1L513.2 541.4L513.5 542.4L514.1 543.2L514.7 543.7L515.5 544.1L516.6 544.4L517.8 544.6L519.2 544.7L520.6 544.7L522.0 544.6L523.1 544.6L524.0 544.5L524.3 544.2L524.2 543.3L524.2 542.2L524.1 540.8L523.9 539.4L523.6 538.0L523.2 536.7L522.6 535.6L521.9 534.8L521.1 534.1L520.0 533.7L518.8 533.6L517.5 533.7L516.2 534.0L514.9 534.4L513.9 534.8L513.0 535.1Z" fill="#A83CC4" opacity="0.97"/>
<path d="M513.8 535.0L513.8 535.8L513.9 536.8L514.1 538.0L514.3 539.2L514.6 540.3L515.0 541.3L515.4 542.1L515.9 542.7L516.4 543.1L517.1 543.6L517.9 544.0L518.8 544.5L519.8 544.9L520.7 545.3L521.5 545.7L522.1 545.9L522.4 545.7L522.6 545.1L522.7 544.3L522.9 543.3L523.1 542.2L523.1 541.1L523.0 539.9L522.7 538.8L522.2 537.8L521.5 536.9L520.6 536.2L519.5 535.6L518.3 535.2L517.0 535.0L515.8 534.9L514.8 534.8L514.1 534.7Z" fill="#A83CC4" opacity="0.90"/>
<path d="M553.9 504.1L553.5 505.1L553.0 506.3L552.4 507.8L551.7 509.4L551.0 511.2L550.3 512.9L549.7 514.6L549.1 516.2L548.6 517.8L548.0 519.4L547.5 521.1L547.0 522.8L546.7 524.4L546.6 525.9L546.7 527.2L546.9 528.2L547.3 528.3L547.9 527.5L548.7 526.5L549.5 525.2L550.1 523.7L550.5 522.0L551.0 520.3L551.4 518.6L551.8 517.0L552.1 515.4L552.5 513.6L552.9 511.7L553.2 509.9L553.6 508.1L553.8 506.6L554.1 505.2L554.3 504.2Z" fill="#A83CC4" opacity="0.42"/>
<path d="M549.5 522.4L549.1 522.9L548.6 523.7L547.9 524.6L547.2 525.6L546.4 526.7L545.6 527.9L544.8 529.1L544.0 530.4L543.2 531.7L542.4 533.2L541.6 534.8L540.7 536.4L539.9 538.1L539.2 539.8L538.6 541.5L538.0 543.3L537.4 545.0L536.9 546.8L536.5 548.6L536.1 550.3L535.7 552.1L535.4 553.8L535.1 555.4L534.8 556.9L534.6 558.4L534.4 559.8L534.3 561.2L534.1 562.4L534.0 563.6L533.9 564.6L533.8 565.5L533.7 566.2L534.1 566.3L534.4 565.7L534.8 564.9L535.3 564.0L535.8 562.9L536.4 561.8L537.0 560.6L537.6 559.3L538.3 558.0L538.9 556.7L539.7 555.2L540.4 553.6L541.1 552.0L541.9 550.4L542.6 548.7L543.3 547.0L543.9 545.4L544.5 543.8L545.2 542.1L545.8 540.3L546.3 538.6L546.9 536.9L547.3 535.2L547.7 533.5L548.0 532.0L548.4 530.5L548.6 529.1L548.9 527.7L549.2 526.4L549.4 525.2L549.6 524.1L549.8 523.2L549.9 522.5Z" fill="#A83CC4" opacity="0.90"/>
<path d="M533.7 566.2L533.2 566.6L532.6 567.3L531.9 568.1L531.2 569.1L530.7 570.1L530.3 571.1L529.8 572.0L529.5 572.8L529.2 573.3L528.8 573.8L528.4 574.2L527.9 574.7L527.4 575.2L526.9 575.8L526.4 576.6L526.0 577.5L525.8 578.6L525.6 579.8L525.5 581.1L525.5 582.5L525.4 583.8L525.4 585.0L525.4 585.9L525.4 586.6L525.8 586.7L526.0 586.0L526.2 585.0L526.5 583.9L526.8 582.7L527.1 581.4L527.4 580.2L527.8 579.1L528.1 578.3L528.4 577.8L528.8 577.3L529.2 577.0L529.7 576.6L530.2 576.2L530.8 575.7L531.4 575.1L531.9 574.3L532.5 573.4L533.0 572.4L533.5 571.3L533.9 570.2L534.1 569.0L534.1 567.9L534.1 567.0L534.1 566.3Z" fill="#A83CC4" opacity="0.85"/>
<path d="M545.9 543.0L545.5 544.0L545.3 545.0L545.2 545.8L545.4 546.5L545.9 546.9L546.7 547.2L547.7 547.3L548.8 547.4L549.1 547.1L549.5 546.1L549.8 545.1L549.8 544.3L549.6 543.7L549.1 543.2L548.3 543.0L547.3 542.8L546.2 542.8Z" fill="#A83CC4" opacity="0.90"/>
<path d="M533.7 567.9L534.8 567.3L536.1 566.6L537.7 565.7L539.5 564.8L541.3 563.7L543.0 562.6L544.6 561.6L546.0 560.8L547.2 560.1L548.2 559.4L549.2 558.9L550.2 558.4L551.2 557.9L552.2 557.4L553.3 556.8L554.5 556.2L555.9 555.5L557.4 554.7L559.0 553.9L560.7 553.0L562.3 552.2L563.7 551.5L564.9 550.8L565.8 550.4L565.7 550.0L564.7 550.3L563.4 550.8L561.9 551.3L560.2 551.9L558.5 552.5L556.7 553.2L555.1 553.8L553.6 554.4L552.4 554.9L551.3 555.3L550.2 555.8L549.2 556.2L548.1 556.7L547.0 557.2L545.9 557.8L544.6 558.6L543.2 559.5L541.6 560.6L540.0 561.8L538.4 563.1L536.8 564.5L535.5 565.7L534.4 566.8L533.5 567.5Z" fill="#A83CC4" opacity="0.60"/>
<path d="M570.2 550.4L571.6 550.8L572.9 551.2L574.2 551.3L575.3 551.1L576.3 550.6L577.3 549.7L578.1 548.6L579.0 547.4L578.8 547.1L577.5 546.6L576.1 546.3L574.9 546.1L573.7 546.3L572.7 546.9L571.7 547.7L570.9 548.8L570.1 550.0Z" fill="#A83CC4" opacity="0.95"/>
<path d="M485.5 573.7L486.8 573.6L488.4 573.3L490.4 573.0L492.6 572.6L494.8 572.2L496.9 571.8L498.8 571.4L500.4 571.1L501.7 571.0L502.9 570.9L504.0 570.9L505.1 571.0L506.2 571.1L507.5 571.3L508.8 571.4L510.1 571.4L511.6 571.4L513.3 571.4L515.0 571.3L516.7 571.3L518.3 571.2L519.8 571.2L521.0 571.1L521.9 571.1L522.0 570.7L521.1 570.5L519.9 570.2L518.4 569.9L516.8 569.6L515.2 569.3L513.5 568.9L511.9 568.6L510.4 568.4L509.2 568.1L508.0 567.9L506.8 567.6L505.6 567.3L504.3 567.1L502.9 567.0L501.4 567.0L499.8 567.2L497.9 567.6L495.9 568.2L493.8 569.0L491.7 570.0L489.7 571.0L487.9 571.9L486.5 572.8L485.4 573.3Z" fill="#A83CC4" opacity="0.70"/>
<path d="M485.4 582.5L485.9 582.7L486.5 583.0L487.3 583.4L488.2 583.9L489.2 584.3L490.3 584.8L491.4 585.2L492.7 585.5L494.0 585.8L495.4 586.1L496.9 586.4L498.5 586.6L500.2 586.8L502.0 587.0L503.9 587.1L505.9 587.2L508.0 587.2L510.3 587.1L512.7 587.1L515.1 586.9L517.7 586.8L520.2 586.5L522.6 586.2L525.0 585.7L527.3 585.2L529.7 584.5L532.0 583.7L534.3 582.9L536.6 582.1L538.7 581.2L540.7 580.4L542.5 579.7L544.2 579.0L545.8 578.4L547.3 577.7L548.7 577.1L550.0 576.5L551.0 576.0L552.0 575.5L552.7 575.2L552.5 574.8L551.8 575.1L550.9 575.5L549.7 576.0L548.5 576.6L547.1 577.2L545.6 577.8L544.0 578.4L542.3 579.0L540.4 579.7L538.4 580.4L536.3 581.2L534.0 582.0L531.7 582.8L529.4 583.5L527.1 584.2L524.8 584.7L522.4 585.1L520.0 585.4L517.6 585.7L515.1 585.9L512.6 586.0L510.3 586.1L508.0 586.2L505.9 586.2L504.0 586.2L502.1 586.1L500.3 586.0L498.6 585.8L497.1 585.6L495.6 585.4L494.1 585.1L492.8 584.9L491.6 584.6L490.4 584.2L489.4 583.8L488.4 583.4L487.5 583.0L486.7 582.7L486.1 582.3L485.5 582.1Z" fill="#A83CC4" opacity="0.45"/>
<path d="M484.7 582.5L485.0 582.9L485.5 583.5L486.2 584.2L486.9 584.9L487.7 585.6L488.6 586.2L489.6 586.7L490.6 587.0L491.7 587.2L493.0 587.4L494.4 587.4L495.7 587.4L497.1 587.3L498.3 587.1L499.3 587.0L500.0 586.9L500.1 586.5L499.5 586.1L498.6 585.5L497.6 584.9L496.4 584.2L495.3 583.6L494.1 583.0L493.0 582.6L492.0 582.2L491.1 582.0L490.1 581.8L489.1 581.7L488.1 581.7L487.1 581.8L486.2 581.9L485.4 582.0L484.8 582.1Z" fill="#A83CC4" opacity="0.65"/>
<path d="M554.6 567.7L554.4 568.7L554.0 569.9L553.7 571.2L553.6 572.8L553.7 574.3L554.1 575.8L554.6 577.3L555.1 578.7L555.7 580.1L556.5 581.7L557.3 583.3L558.2 584.9L559.1 586.4L559.9 587.7L560.7 588.8L561.2 589.7L561.6 589.5L561.5 588.5L561.5 587.2L561.4 585.6L561.2 583.9L561.1 582.1L560.9 580.3L560.6 578.6L560.3 577.1L560.0 575.7L559.7 574.2L559.2 572.7L558.5 571.4L557.6 570.2L556.6 569.1L555.7 568.3L555.0 567.6Z" fill="#A83CC4" opacity="0.85"/>
<path d="M525.8 582.3L525.2 583.2L524.7 584.2L524.3 585.1L524.2 586.0L524.5 586.8L524.9 587.7L525.6 588.5L526.4 589.3L526.8 589.3L527.5 588.3L528.0 587.4L528.4 586.5L528.4 585.6L528.2 584.8L527.7 583.9L527.0 583.1L526.2 582.3Z" fill="#A83CC4" opacity="0.90"/>
<path d="M526.2 505.3L526.3 505.5L526.4 505.9L526.4 506.4L526.4 506.9L526.4 507.4L526.4 508.0L526.5 508.5L526.7 509.0L527.0 509.5L527.3 510.0L527.6 510.6L528.0 511.2L528.4 511.7L528.8 512.2L529.0 512.6L529.2 513.0L529.4 512.9L529.3 512.6L529.2 512.1L529.2 511.5L529.2 510.8L529.2 510.1L529.1 509.4L529.0 508.7L528.9 508.2L528.7 507.6L528.4 507.2L528.0 506.7L527.6 506.3L527.2 506.0L526.8 505.7L526.6 505.4L526.4 505.2Z" fill="#D060DC" opacity="0.51"/>
<path d="M512.8 535.4L513.2 535.8L513.5 536.4L513.9 537.3L514.3 538.3L514.7 539.3L515.2 540.2L515.8 540.9L516.5 541.4L517.3 541.9L518.3 542.3L519.4 542.7L520.6 543.1L521.8 543.4L522.8 543.7L523.6 544.1L524.1 544.4L524.2 544.3L523.8 543.8L523.4 543.0L523.0 542.1L522.5 541.0L522.0 539.8L521.4 538.7L520.8 537.8L520.1 537.0L519.3 536.4L518.4 535.9L517.3 535.7L516.2 535.6L515.1 535.6L514.2 535.5L513.5 535.4L513.0 535.2Z" fill="#D060DC" opacity="0.58"/>
<path d="M513.9 534.9L514.2 535.4L514.6 536.1L515.0 537.0L515.4 538.0L515.9 539.1L516.4 540.0L516.9 540.8L517.5 541.4L518.0 542.0L518.7 542.6L519.4 543.2L520.1 543.8L520.8 544.4L521.4 545.0L521.9 545.4L522.2 545.8L522.3 545.7L522.2 545.3L522.0 544.6L521.9 543.8L521.8 542.9L521.7 541.9L521.4 540.9L521.1 539.9L520.6 539.0L520.0 538.2L519.1 537.5L518.2 536.9L517.1 536.4L516.1 535.9L515.2 535.5L514.5 535.1L514.0 534.8Z" fill="#D060DC" opacity="0.54"/>
<path d="M549.6 522.4L549.3 523.0L548.9 523.8L548.4 524.8L547.9 525.9L547.3 527.0L546.6 528.3L545.9 529.6L545.2 530.9L544.5 532.2L543.7 533.7L543.0 535.3L542.2 537.0L541.4 538.7L540.7 540.4L540.1 542.1L539.5 543.8L538.9 545.5L538.4 547.3L537.9 549.0L537.4 550.8L537.0 552.5L536.6 554.2L536.2 555.8L535.9 557.3L535.6 558.7L535.3 560.0L535.0 561.4L534.7 562.6L534.5 563.7L534.2 564.7L534.0 565.6L533.8 566.2L534.0 566.3L534.2 565.6L534.5 564.8L534.8 563.8L535.2 562.7L535.7 561.6L536.1 560.3L536.7 559.0L537.2 557.7L537.8 556.3L538.4 554.8L539.1 553.2L539.7 551.6L540.4 549.9L541.1 548.2L541.8 546.5L542.4 544.9L543.0 543.2L543.7 541.5L544.3 539.8L544.9 538.0L545.5 536.3L546.0 534.6L546.4 533.0L546.9 531.5L547.3 530.1L547.7 528.7L548.1 527.4L548.5 526.1L548.9 525.0L549.2 524.0L549.5 523.1L549.8 522.5Z" fill="#D060DC" opacity="0.54"/>
<path d="M546.0 542.9L546.1 543.6L546.1 544.4L546.2 545.1L546.5 545.8L546.9 546.2L547.6 546.6L548.3 546.9L548.9 547.3L549.0 547.2L548.9 546.5L548.9 545.7L548.8 545.0L548.5 544.4L548.1 543.9L547.4 543.5L546.7 543.2L546.1 542.8Z" fill="#D060DC" opacity="0.54"/>
<path d="M570.2 550.3L571.3 550.2L572.6 550.2L573.8 550.1L574.9 549.9L576.0 549.4L576.9 548.7L577.9 548.0L578.9 547.4L578.9 547.2L577.7 547.3L576.5 547.2L575.3 547.3L574.1 547.5L573.1 548.0L572.1 548.7L571.1 549.5L570.1 550.1Z" fill="#D060DC" opacity="0.57"/>
<path d="M485.5 573.6L486.7 573.3L488.3 572.9L490.2 572.4L492.3 571.9L494.5 571.4L496.6 570.9L498.6 570.4L500.2 570.1L501.6 570.0L502.9 569.9L504.1 570.0L505.2 570.1L506.4 570.2L507.6 570.3L508.9 570.5L510.2 570.5L511.7 570.6L513.3 570.6L515.0 570.7L516.7 570.7L518.3 570.8L519.8 570.9L521.0 570.9L521.9 571.0L522.0 570.8L521.1 570.7L519.8 570.6L518.4 570.4L516.8 570.1L515.1 569.9L513.4 569.7L511.8 569.4L510.3 569.2L509.1 569.0L507.8 568.8L506.7 568.5L505.5 568.3L504.2 568.1L502.9 568.0L501.5 568.0L499.9 568.2L498.1 568.5L496.1 569.1L494.0 569.9L491.9 570.7L489.9 571.6L488.1 572.4L486.6 573.0L485.4 573.4Z" fill="#D060DC" opacity="0.42"/>
<path d="M554.7 567.7L554.8 568.5L554.9 569.6L554.9 570.9L554.9 572.4L555.1 573.9L555.5 575.4L556.0 576.9L556.5 578.3L557.0 579.7L557.7 581.3L558.4 582.9L559.2 584.6L559.9 586.1L560.5 587.5L561.0 588.7L561.3 589.6L561.5 589.6L561.2 588.6L560.9 587.4L560.6 585.9L560.3 584.2L560.0 582.5L559.6 580.7L559.3 579.0L559.0 577.5L558.6 576.1L558.3 574.6L557.8 573.1L557.2 571.8L556.4 570.5L555.8 569.4L555.2 568.4L554.9 567.7Z" fill="#D060DC" opacity="0.51"/>
<path d="M525.9 582.3L525.8 583.2L525.5 584.1L525.3 585.0L525.3 585.9L525.5 586.7L525.8 587.6L526.2 588.5L526.5 589.3L526.7 589.3L526.9 588.4L527.1 587.5L527.3 586.6L527.4 585.7L527.2 584.8L526.9 584.0L526.4 583.1L526.1 582.3Z" fill="#D060DC" opacity="0.54"/>
</g></g>
<rect x="484.7" y="416.100" width="98.0" height="87.500" fill="#060408"/>
<g filter="url(#b06)">
<path d="M540.2 425.7l1.1 0.5M526.3 450.1l-1.6 0.1M531.1 482.6l1.2 1.0M553.0 438.4l-0.5 0.8M535.7 495.0l-0.4 1.5M548.1 449.9l-0.8 0.4M501.0 425.4l0.3 1.5M524.9 497.5l-1.2 0.7M547.7 498.0l0.4 1.1M562.8 427.3l-1.2 1.1M550.4 470.7l-0.1 0.6M506.9 431.4l1.1 1.4M510.1 461.9l-1.0 0.3M497.2 445.5l0.7 0.0M556.0 477.6l0.6 1.4M496.6 440.9l-0.6 0.2M504.1 450.5l-0.3 0.9M555.6 438.3l0.5 0.9M512.7 426.3l0.5 1.4M546.8 442.5l-0.7 1.1M515.1 478.1l0.2 0.8M566.1 480.4l0.4 0.7M485.6 474.9l-0.2 1.0M539.0 465.6l0.2 1.0M490.4 431.3l1.5 0.4M555.2 477.9l0.4 1.6M484.9 420.4l1.1 0.3M497.9 472.2l0.2 1.0M582.3 431.7l0.6 1.3M526.4 496.6l-1.6 0.7M547.4 434.6l0.2 0.7M489.0 460.0l-0.7 0.2M499.0 465.2l1.7 0.5M488.8 422.5l0.4 0.9M539.8 445.1l-0.6 0.4M543.2 422.8l0.1 0.7M564.3 433.4l-1.2 1.3M581.0 490.0l1.4 0.5M511.0 446.6l-0.2 0.7M573.9 465.8l-0.9 0.6M531.9 430.0l-0.5 0.6M573.3 459.0l-0.9 1.2M576.4 443.8l-0.7 0.4M582.5 472.6l-0.1 1.1M565.2 422.5l0.5 0.7M566.9 487.7l0.7 0.1M567.1 467.4l-1.7 0.0M538.2 480.1l-0.6 1.0M497.8 453.2l-0.9 0.1M519.8 430.7l0.0 0.9M510.0 438.9l0.4 0.9M530.3 443.2l-0.5 1.3M486.6 427.4l-1.3 1.0M558.5 463.9l-0.8 1.0M513.2 494.9l1.2 0.7M496.9 483.1l1.3 0.3M548.3 448.4l-0.3 1.4M534.6 484.3l-0.3 1.0M533.4 438.1l0.7 0.3M561.6 424.8l-1.0 0.5M511.4 489.1l0.4 0.4M507.8 440.5l1.1 0.8M490.4 467.9l-0.3 0.7" stroke="#4A9AE0" stroke-width="2.9" stroke-linecap="round" fill="none" opacity="0.8"/>
<path d="M485.4 455.0l0.7 1.6M521.3 496.5l-0.7 1.3M502.9 418.0l0.4 0.9M545.4 499.4l1.0 0.3M512.5 462.0l1.4 0.6M513.7 417.1l1.5 0.4M496.6 482.1l1.3 1.0M575.8 433.7l-1.0 0.4M524.2 465.8l-0.1 1.0M524.5 455.3l-1.7 0.2M492.1 490.5l-0.9 0.1M539.7 454.8l-0.7 0.9M490.3 478.7l0.7 0.0M504.8 466.0l0.5 0.4M577.6 420.6l0.2 0.9M501.0 435.8l1.0 1.2M496.0 440.5l0.7 0.9M551.5 419.8l0.7 0.8M513.7 444.6l1.1 0.2M508.4 431.9l0.1 0.7M517.0 445.1l-0.6 0.8M534.8 441.6l1.1 1.3M505.2 448.8l-0.6 1.1M498.0 458.6l-0.8 1.0M546.2 464.0l-0.9 0.8M544.4 419.1l0.6 0.3M515.5 451.1l0.2 1.6M498.1 459.5l0.8 0.4M542.6 424.5l1.0 1.1M509.6 477.5l1.2 0.7M527.4 480.8l1.0 0.7M528.0 442.0l0.5 0.3M526.1 463.3l-1.4 1.0M579.1 467.8l0.4 1.5M518.3 454.6l-0.3 1.4M551.6 418.9l-0.7 0.9M551.0 438.4l-1.2 0.9M487.3 495.3l0.5 1.2M551.2 470.0l-1.2 0.7M525.1 426.4l0.8 0.9M508.6 464.4l-0.2 1.2M493.9 434.2l0.5 0.9M556.3 451.1l-0.7 0.6M486.3 457.9l-1.6 0.1M536.8 417.9l-1.2 0.5M545.4 474.7l-0.7 0.2M499.9 436.4l-1.5 0.3M545.1 417.6l1.6 0.2M564.3 459.6l-0.5 0.6M522.9 418.5l-0.3 1.0M547.2 447.1l0.1 0.8M515.5 490.3l1.0 0.7M516.0 477.4l-0.5 0.5M559.6 448.5l-0.1 1.5M532.3 468.4l-0.2 0.6M512.3 449.4l0.6 1.7M550.7 481.6l1.5 0.8M553.2 485.0l-0.1 0.9M514.0 417.4l-0.9 0.9M510.8 423.7l-0.8 0.8M580.7 486.8l-1.1 0.2M577.6 479.7l-0.8 0.1M551.1 476.0l1.3 1.1M492.9 457.2l1.0 0.4M486.3 498.1l-0.4 0.9M552.9 478.2l0.7 0.4M567.2 437.2l0.6 0.4M496.1 478.1l-1.3 0.5M490.0 486.5l-0.6 0.6M530.9 482.6l-1.3 0.8M581.6 438.7l-0.8 0.4M494.6 455.0l-1.4 0.7M501.5 496.3l-0.1 0.6M512.7 464.9l0.0 1.2" stroke="#3F8ED8" stroke-width="2.9" stroke-linecap="round" fill="none" opacity="0.8"/>
<path d="M547.7 469.9l-0.7 0.5M496.5 417.2l0.4 0.7M559.7 423.9l-1.0 0.5M547.1 489.3l-1.6 0.2M576.3 456.6l-1.1 0.9M522.5 443.0l-0.4 1.1M576.9 478.5l0.5 1.1M539.9 424.2l-1.0 1.0M564.3 492.0l0.6 1.2M549.3 457.7l1.0 1.4M549.1 416.8l0.4 1.1M582.0 471.3l-0.2 1.7M499.8 418.2l-0.5 1.1M582.0 492.4l0.3 1.1M521.6 497.0l-0.6 0.4M515.7 417.2l0.8 0.6M526.6 462.5l1.3 1.2M577.2 497.7l-0.8 0.4M519.3 494.4l-0.8 0.2M492.0 486.0l0.7 1.2M578.2 472.7l-1.0 0.1M522.2 447.7l-0.4 0.8M560.1 458.1l-1.1 0.5M544.3 490.0l-0.5 1.0M516.3 453.5l-1.2 0.3M494.2 468.7l0.9 1.0M525.7 445.1l-0.5 0.4M554.7 475.4l0.4 0.9M509.7 431.4l0.2 1.0M558.6 482.9l-1.7 0.2M502.2 435.2l-0.9 0.8M496.9 479.0l1.2 0.6M554.3 460.9l0.8 1.2M509.2 438.7l-0.7 0.7M581.1 437.3l0.2 1.6M553.9 471.2l-0.2 1.4M563.8 487.0l0.9 0.8M536.0 467.6l0.3 0.8M567.6 430.6l0.4 1.1M501.5 497.1l0.5 0.4M531.9 477.3l-1.1 1.1M570.9 462.0l0.4 1.3M575.5 470.0l1.2 0.7M570.8 471.1l-0.6 1.3M569.6 459.4l-0.7 1.4M538.6 417.3l-1.4 0.7M559.8 437.8l0.5 0.7M548.9 443.2l-0.2 0.9M559.7 479.4l0.0 1.6M571.6 486.8l-0.5 1.1M528.1 437.7l-0.7 0.7M544.1 473.6l0.5 1.1M522.7 442.1l-0.2 1.6M566.6 485.5l-1.5 0.3M505.9 486.9l0.6 0.9M582.3 442.1l0.6 0.7M557.4 481.3l1.1 0.1M520.6 474.3l-1.2 0.7M526.6 470.7l-1.1 1.2M524.5 427.3l0.3 0.7M495.3 497.9l-0.1 1.5M533.9 448.3l1.1 0.6M558.2 427.9l-0.9 1.0M558.8 485.4l-0.9 0.2M491.3 417.2l-0.8 1.1" stroke="#5AA6E8" stroke-width="2.9" stroke-linecap="round" fill="none" opacity="0.8"/>
<path d="M536.6 430.3l0.2 1.0M530.0 474.0l-1.1 0.2M534.5 435.7l0.4 1.0M518.6 438.3l0.7 1.6M509.4 498.5l0.3 0.6M519.9 458.4l0.0 1.4M492.2 446.1l-0.9 1.5M494.8 484.5l-0.6 1.3M544.1 453.5l-0.9 1.1M516.1 458.5l1.0 1.5M548.8 477.9l-1.0 0.4M515.8 434.8l-0.8 0.3M544.5 431.0l0.3 0.6M513.5 474.3l-1.0 0.4M560.4 472.6l0.4 0.6M568.8 487.0l1.2 0.8M527.8 434.3l-0.3 1.2M539.4 429.1l-1.5 0.4M555.9 420.1l0.2 0.9M552.7 469.7l0.2 0.6M520.3 491.0l-0.0 1.4M567.0 459.4l-0.8 0.3M524.9 427.9l-0.8 0.9M539.0 465.8l-0.7 1.2M497.8 469.1l-0.8 0.5M546.3 464.9l-0.6 0.8M547.5 436.8l0.2 1.0M507.2 426.9l0.5 0.5M573.4 444.0l-0.9 0.8M539.1 455.1l-0.5 1.7M513.6 457.5l-0.3 0.8M567.6 448.5l-1.2 0.8M486.8 419.8l1.3 0.8M562.7 461.6l0.8 0.0M574.6 443.7l0.8 0.8M523.2 434.0l1.4 0.3M509.5 488.0l-0.3 0.7M524.2 461.1l-1.2 0.2M549.0 498.9l-0.7 1.4M515.1 429.5l0.0 0.8M501.2 419.9l-0.5 0.9M538.3 466.5l1.0 1.4M535.2 461.8l0.5 0.8M514.2 500.2l-1.2 0.3M522.5 438.2l0.5 0.5M516.5 472.6l-0.7 0.3M493.3 435.4l-0.8 0.7M574.7 453.8l0.8 0.3M493.2 475.8l0.8 0.4M564.6 419.7l0.8 0.7M540.8 467.2l0.2 0.9M517.7 452.2l1.2 0.4M543.5 457.9l1.1 1.2M528.4 498.0l-0.0 1.7M547.7 429.8l0.6 0.6M561.0 481.7l-1.0 0.2M495.9 496.6l-0.8 0.4M538.1 500.8l-1.0 0.4M563.3 468.7l1.0 0.3M545.0 455.9l0.3 0.7M540.2 451.1l0.5 0.8M510.9 447.3l0.2 1.2M567.3 492.2l0.8 0.1M578.4 417.7l-0.1 0.7M570.5 470.3l1.7 0.2M559.8 489.6l-0.6 0.6M533.0 484.2l1.0 0.6M556.8 463.6l0.0 1.6" stroke="#3C84CC" stroke-width="2.9" stroke-linecap="round" fill="none" opacity="0.8"/>
</g>
<use href="#ef1" y="-87" opacity="0.8" style="mix-blend-mode:screen"/>
<rect x="484.7" y="502" width="98.0" height="1.600" fill="#fff"/>
</g>
<rect x="559.6" y="496.3" width="18.300" height="1.800" fill="#fff"/>
<rect x="559.6" y="584.1" width="18.300" height="1.800" fill="#fff"/>
<clipPath id="ec2"><rect x="584.6" y="416.100" width="99.0" height="173.600"/></clipPath>
<rect x="584.6" y="416.100" width="99.0" height="173.600" fill="#060408"/>
<g clip-path="url(#ec2)">
<g id="ef2">
<g filter="url(#b2)" opacity="0.15">
<path d="M598.1 512.4L598.3 514.1L598.5 516.3L598.7 519.0L599.0 521.9L599.3 525.0L599.6 528.0L600.0 530.8L600.3 533.3L600.5 535.3L600.7 537.2L601.0 538.8L601.2 540.5L601.4 542.2L601.8 544.1L602.2 546.3L602.7 548.8L603.4 551.7L604.2 554.9L605.3 558.4L606.5 562.0L607.9 565.5L609.5 568.9L611.2 572.0L613.0 574.7L614.8 577.3L616.7 579.8L618.6 582.2L620.6 584.5L622.4 586.6L624.1 588.5L625.5 590.0L626.6 591.2L627.5 590.9L627.7 589.3L627.8 587.2L628.0 584.7L628.2 581.9L628.3 578.9L628.3 575.7L628.2 572.6L628.0 569.4L627.6 566.1L627.0 562.6L626.1 558.9L624.8 555.3L623.5 551.8L622.0 548.5L620.6 545.5L619.3 542.8L618.2 540.6L617.2 538.8L616.3 537.1L615.5 535.6L614.6 534.1L613.7 532.6L612.7 531.0L611.5 529.1L610.1 527.0L608.5 524.6L606.7 522.1L604.8 519.7L603.1 517.3L601.4 515.2L600.1 513.4L599.1 512.0Z" fill="#A83CC4" opacity="0.62"/>
<path d="M600.3 515.3L600.7 516.9L601.1 519.0L601.7 521.4L602.3 524.2L603.0 527.2L603.7 530.2L604.5 533.3L605.2 536.3L606.0 539.2L606.9 542.4L607.9 545.6L608.9 548.9L610.0 552.2L611.2 555.3L612.3 558.3L613.4 561.1L614.6 563.7L615.8 566.3L617.0 568.8L618.2 571.2L619.3 573.3L620.3 575.2L621.1 576.8L621.8 578.1L622.7 577.7L622.3 576.4L621.8 574.6L621.2 572.6L620.5 570.2L619.7 567.7L618.9 565.1L618.1 562.4L617.4 559.7L616.6 556.9L615.7 553.9L614.8 550.7L613.8 547.4L612.7 544.1L611.7 540.9L610.6 537.8L609.5 534.9L608.4 532.0L607.2 529.1L606.0 526.2L604.9 523.4L603.8 520.8L602.8 518.4L601.9 516.5L601.3 515.0Z" fill="#A83CC4" opacity="0.55"/>
<path d="M604.0 524.1L604.4 526.1L605.1 528.9L605.8 532.3L606.7 536.0L607.7 539.9L608.7 543.8L609.7 547.6L610.8 551.1L611.9 554.4L613.2 557.8L614.5 561.2L615.9 564.5L617.3 567.6L618.7 570.6L620.1 573.3L621.3 575.8L622.3 578.1L623.3 580.2L624.2 582.3L625.0 584.2L625.7 585.9L626.3 587.4L626.9 588.7L627.3 589.7L628.3 589.5L628.1 588.4L627.9 587.0L627.7 585.4L627.5 583.5L627.2 581.4L626.7 579.2L626.2 576.7L625.6 574.2L624.8 571.5L623.7 568.5L622.6 565.4L621.2 562.2L619.8 558.9L618.4 555.7L617.0 552.4L615.6 549.3L614.2 546.0L612.7 542.4L611.2 538.7L609.7 535.0L608.2 531.5L606.9 528.4L605.8 525.7L604.9 523.7Z" fill="#A83CC4" opacity="0.60"/>
<path d="M598.8 516.7L599.2 518.6L599.6 521.0L600.1 524.0L600.7 527.2L601.4 530.6L602.2 534.1L603.1 537.4L603.9 540.5L604.9 543.6L606.0 546.9L607.3 550.3L608.5 553.5L609.8 556.6L611.0 559.4L612.0 561.7L612.7 563.5L613.7 563.2L613.3 561.3L612.8 558.8L612.1 555.9L611.4 552.6L610.5 549.2L609.7 545.8L608.7 542.5L607.9 539.4L606.9 536.3L605.9 533.1L604.7 529.7L603.6 526.4L602.4 523.3L601.4 520.5L600.5 518.2L599.8 516.5Z" fill="#A83CC4" opacity="0.50"/>
<path d="M620.2 505.3L620.7 505.9L621.5 506.6L622.5 507.6L623.5 508.6L624.5 509.6L625.5 510.7L626.3 511.8L627.0 512.8L627.5 513.7L627.9 514.7L628.2 515.7L628.5 516.8L628.8 517.8L629.0 518.9L629.2 520.1L629.4 521.2L629.6 522.3L629.7 523.4L629.8 524.4L629.8 525.5L629.8 526.7L629.9 528.0L629.9 529.5L630.0 531.3L630.2 533.3L630.4 535.7L630.6 538.3L630.9 541.0L631.2 543.6L631.3 546.1L631.4 548.2L631.2 550.0L630.9 551.4L630.3 552.6L629.6 553.6L628.8 554.5L628.0 555.3L627.2 556.0L626.5 556.6L626.0 557.1L626.7 557.8L627.2 557.4L627.9 556.9L628.8 556.3L629.8 555.5L630.8 554.6L631.7 553.4L632.5 552.0L633.1 550.4L633.4 548.4L633.6 546.0L633.6 543.5L633.5 540.8L633.4 538.1L633.2 535.5L633.0 533.1L632.9 531.1L632.8 529.4L632.7 527.9L632.7 526.6L632.6 525.4L632.5 524.2L632.4 523.1L632.2 521.9L632.0 520.7L631.7 519.5L631.5 518.4L631.2 517.2L630.8 516.1L630.4 514.9L629.9 513.8L629.3 512.7L628.6 511.7L627.8 510.6L626.8 509.5L625.6 508.5L624.5 507.5L623.3 506.6L622.3 505.7L621.5 505.1L620.8 504.6Z" fill="#A83CC4" opacity="0.75"/>
<path d="M623.7 507.4L623.6 508.1L623.4 509.1L623.2 510.2L623.1 511.3L623.0 512.4L623.0 513.4L623.2 514.2L623.4 514.8L623.7 515.2L624.3 515.8L625.2 516.3L626.2 516.8L627.2 517.3L628.3 517.7L629.2 518.0L630.0 518.3L630.9 517.9L631.2 517.2L631.6 516.3L632.1 515.3L632.5 514.1L632.8 512.9L632.8 511.8L632.7 510.7L632.2 509.7L631.6 508.8L630.7 508.1L629.7 507.6L628.5 507.3L627.3 507.1L626.2 506.9L625.3 506.9L624.5 506.8Z" fill="#A83CC4" opacity="0.85"/>
<path d="M630.5 523.9L629.9 524.5L629.1 525.3L628.2 526.3L627.2 527.3L626.5 528.4L625.9 529.5L625.6 530.6L625.5 531.6L625.7 532.5L626.1 533.5L626.8 534.5L627.7 535.5L628.8 536.5L629.8 537.3L630.7 538.0L631.4 538.5L632.4 538.5L633.0 537.9L633.8 537.1L634.7 536.1L635.6 535.1L636.4 534.0L637.0 532.9L637.3 531.8L637.4 530.8L637.2 529.9L636.8 528.9L636.1 527.9L635.1 526.9L634.1 525.9L633.1 525.1L632.2 524.4L631.5 523.9Z" fill="#A83CC4" opacity="0.92"/>
<path d="M630.3 518.4L630.8 519.3L631.4 520.4L632.1 521.8L632.9 523.3L633.9 524.9L634.9 526.5L636.0 528.0L637.1 529.5L638.3 531.0L639.7 532.8L641.3 534.5L642.8 536.3L644.4 538.0L645.8 539.5L646.9 540.8L647.8 541.7L648.6 541.1L648.0 540.0L647.2 538.5L646.3 536.6L645.2 534.6L644.0 532.6L642.7 530.6L641.5 528.7L640.4 527.1L639.2 525.6L638.0 524.1L636.7 522.7L635.3 521.4L634.1 520.2L632.9 519.2L631.9 518.4L631.1 517.7Z" fill="#A83CC4" opacity="0.65"/>
<path d="M634.7 524.2L634.6 524.9L634.5 525.8L634.4 526.8L634.4 527.8L634.4 528.8L634.5 529.7L634.7 530.4L634.9 530.9L635.3 531.4L635.9 531.8L636.7 532.3L637.6 532.6L638.7 533.0L639.7 533.2L640.6 533.5L641.2 533.6L642.1 533.1L642.3 532.5L642.6 531.7L643.0 530.7L643.2 529.6L643.4 528.5L643.3 527.4L643.1 526.5L642.6 525.6L641.9 524.9L641.1 524.4L640.1 524.0L639.1 523.7L638.0 523.6L637.0 523.6L636.1 523.6L635.5 523.6Z" fill="#A83CC4" opacity="0.75"/>
<path d="M620.1 552.0L620.2 553.1L620.3 554.5L620.4 556.1L620.7 557.9L621.2 559.5L621.9 561.1L622.8 562.3L623.8 563.4L624.9 564.3L626.0 565.1L627.0 565.8L627.9 566.3L628.7 566.8L629.4 567.4L630.3 567.9L631.2 568.7L632.4 569.7L633.7 570.8L635.2 572.0L636.7 573.3L638.3 574.7L639.8 576.0L641.3 577.3L642.7 578.4L644.1 579.6L645.4 580.9L646.8 582.3L648.1 583.6L649.4 584.9L650.5 586.0L651.5 586.9L652.2 587.7L653.0 587.1L652.7 586.2L652.2 584.9L651.7 583.4L651.1 581.7L650.4 579.9L649.6 578.1L648.8 576.2L647.9 574.5L647.0 572.7L646.0 570.9L644.8 569.1L643.7 567.2L642.5 565.5L641.3 563.8L640.1 562.3L639.0 560.9L637.8 559.6L636.7 558.5L635.6 557.6L634.7 556.8L633.8 556.2L633.1 555.6L632.4 555.1L631.8 554.5L630.9 553.7L629.7 553.0L628.3 552.4L626.7 552.0L625.0 551.7L623.3 551.5L621.9 551.4L620.9 551.3Z" fill="#A83CC4" opacity="0.80"/>
<path d="M620.8 566.5L620.5 567.3L620.2 568.4L619.8 569.7L619.4 571.0L619.2 572.2L619.2 573.4L619.4 574.3L619.7 575.0L620.2 575.6L620.9 576.1L621.9 576.6L623.1 577.0L624.3 577.4L625.5 577.7L626.6 578.0L627.3 578.1L628.2 577.7L628.6 577.0L629.1 576.0L629.6 574.9L630.0 573.7L630.4 572.4L630.5 571.2L630.4 570.1L630.1 569.2L629.5 568.3L628.6 567.6L627.6 567.0L626.3 566.6L624.9 566.3L623.6 566.2L622.5 566.0L621.6 566.0Z" fill="#A83CC4" opacity="0.88"/>
<path d="M612.0 575.1L611.8 577.2L611.6 579.3L611.7 581.4L611.9 583.4L612.4 585.4L613.1 587.3L614.0 589.2L614.9 591.1L615.9 591.0L616.1 588.8L616.2 586.8L616.2 584.7L615.9 582.7L615.5 580.7L614.8 578.7L613.9 576.8L613.0 574.9Z" fill="#A83CC4" opacity="0.70"/>
<path d="M617.8 583.8L616.9 585.0L616.2 586.1L615.7 587.1L615.7 588.1L616.1 588.9L616.9 589.7L618.0 590.5L619.3 591.1L620.3 591.0L621.2 589.8L621.9 588.7L622.3 587.7L622.4 586.7L622.0 585.9L621.2 585.1L620.1 584.3L618.8 583.7Z" fill="#A83CC4" opacity="0.80"/>
</g>
<g filter="url(#b05)">
<path d="M598.4 512.3L598.7 513.9L599.2 516.0L599.7 518.6L600.3 521.4L600.9 524.4L601.5 527.3L602.1 530.0L602.6 532.4L603.1 534.4L603.4 536.2L603.8 537.9L604.1 539.5L604.5 541.1L604.9 543.0L605.5 545.1L606.1 547.5L606.9 550.4L607.9 553.6L609.0 557.1L610.3 560.6L611.6 564.2L613.1 567.6L614.6 570.8L616.1 573.6L617.6 576.3L619.1 579.0L620.7 581.5L622.2 584.0L623.6 586.2L624.9 588.2L626.0 589.8L626.9 591.1L627.3 591.0L627.1 589.4L627.0 587.5L626.8 585.1L626.6 582.5L626.3 579.6L625.9 576.6L625.4 573.5L624.9 570.5L624.2 567.3L623.4 563.9L622.3 560.3L621.1 556.7L619.7 553.2L618.4 549.8L617.1 546.7L615.9 544.1L614.9 541.8L614.0 539.9L613.2 538.2L612.5 536.6L611.8 535.1L611.0 533.5L610.2 531.9L609.2 530.0L608.0 527.8L606.6 525.3L605.1 522.8L603.6 520.2L602.1 517.7L600.8 515.4L599.6 513.5L598.8 512.1Z" fill="#A83CC4" opacity="0.62"/>
<path d="M600.6 515.2L601.0 516.8L601.5 518.8L602.2 521.3L602.9 524.0L603.6 527.0L604.4 530.0L605.3 533.0L606.1 536.0L607.0 538.9L607.9 542.1L608.9 545.3L609.9 548.6L611.0 551.9L612.1 555.0L613.2 558.0L614.2 560.8L615.3 563.4L616.5 566.0L617.6 568.6L618.7 571.0L619.7 573.1L620.7 575.1L621.5 576.7L622.1 578.0L622.4 577.8L622.0 576.5L621.4 574.8L620.7 572.7L619.9 570.5L619.1 568.0L618.2 565.4L617.4 562.7L616.5 560.0L615.7 557.2L614.8 554.2L613.8 551.0L612.8 547.7L611.7 544.4L610.7 541.2L609.6 538.1L608.6 535.2L607.6 532.3L606.5 529.4L605.4 526.4L604.3 523.6L603.3 520.9L602.3 518.6L601.6 516.6L601.0 515.1Z" fill="#A83CC4" opacity="0.55"/>
<path d="M604.2 524.0L604.8 526.0L605.5 528.8L606.4 532.1L607.4 535.8L608.4 539.6L609.5 543.5L610.7 547.2L611.8 550.7L613.0 554.0L614.3 557.4L615.6 560.7L617.0 564.0L618.4 567.2L619.8 570.2L621.0 572.9L622.2 575.5L623.2 577.8L624.1 580.0L624.9 582.1L625.6 584.0L626.2 585.8L626.8 587.3L627.2 588.6L627.6 589.6L628.0 589.5L627.8 588.5L627.5 587.1L627.3 585.5L626.9 583.7L626.5 581.6L626.0 579.4L625.4 577.0L624.7 574.5L623.8 571.8L622.7 568.9L621.5 565.8L620.1 562.6L618.7 559.4L617.3 556.1L615.9 552.8L614.6 549.7L613.3 546.3L611.9 542.7L610.4 538.9L609.0 535.2L607.6 531.7L606.4 528.5L605.4 525.8L604.6 523.8Z" fill="#A83CC4" opacity="0.60"/>
<path d="M599.1 516.7L599.5 518.5L600.0 520.9L600.6 523.8L601.4 527.0L602.1 530.4L603.0 533.9L603.9 537.2L604.7 540.3L605.7 543.4L606.8 546.7L608.0 550.0L609.2 553.3L610.3 556.5L611.4 559.3L612.3 561.6L613.0 563.4L613.4 563.3L612.9 561.4L612.3 559.0L611.6 556.1L610.8 552.8L609.9 549.4L608.9 546.0L608.0 542.7L607.0 539.6L606.1 536.5L605.1 533.3L604.0 529.9L603.0 526.6L601.9 523.5L601.0 520.7L600.1 518.3L599.5 516.5Z" fill="#A83CC4" opacity="0.50"/>
<path d="M620.4 505.1L620.9 505.6L621.7 506.4L622.7 507.3L623.7 508.3L624.8 509.3L625.8 510.4L626.6 511.5L627.3 512.5L627.9 513.5L628.3 514.5L628.7 515.6L629.0 516.6L629.3 517.7L629.5 518.8L629.8 520.0L630.0 521.1L630.1 522.2L630.3 523.3L630.3 524.4L630.4 525.5L630.4 526.7L630.5 528.0L630.5 529.5L630.6 531.2L630.7 533.3L631.0 535.7L631.2 538.3L631.5 540.9L631.7 543.6L631.8 546.0L631.8 548.3L631.7 550.1L631.3 551.5L630.7 552.8L629.9 553.8L629.1 554.8L628.2 555.6L627.4 556.2L626.7 556.8L626.2 557.3L626.5 557.6L627.0 557.2L627.7 556.6L628.6 556.0L629.5 555.3L630.5 554.3L631.4 553.2L632.2 551.9L632.7 550.3L633.0 548.3L633.1 546.0L633.1 543.5L633.0 540.8L632.8 538.1L632.6 535.5L632.4 533.2L632.3 531.1L632.2 529.5L632.2 528.0L632.1 526.6L632.0 525.4L632.0 524.3L631.8 523.1L631.7 522.0L631.5 520.8L631.2 519.7L630.9 518.5L630.6 517.3L630.3 516.2L629.9 515.1L629.4 514.0L628.9 513.0L628.2 511.9L627.4 510.9L626.4 509.8L625.3 508.8L624.2 507.8L623.1 506.8L622.1 506.0L621.2 505.3L620.6 504.8Z" fill="#A83CC4" opacity="0.75"/>
<path d="M624.0 507.2L624.0 507.8L624.1 508.6L624.1 509.5L624.2 510.5L624.4 511.4L624.6 512.3L624.9 513.1L625.2 513.7L625.6 514.3L626.1 514.9L626.7 515.6L627.5 516.2L628.3 516.8L629.1 517.4L629.7 517.8L630.2 518.1L630.6 518.0L630.7 517.4L630.9 516.6L631.1 515.7L631.2 514.7L631.2 513.6L631.1 512.6L630.8 511.6L630.4 510.7L629.8 509.9L629.1 509.2L628.3 508.6L627.4 508.1L626.5 507.7L625.6 507.4L624.9 507.2L624.3 507.0Z" fill="#A83CC4" opacity="0.85"/>
<path d="M630.8 523.9L630.4 524.5L630.0 525.3L629.4 526.2L628.9 527.2L628.5 528.3L628.1 529.4L628.0 530.4L628.0 531.4L628.1 532.4L628.4 533.4L628.8 534.4L629.4 535.4L630.0 536.4L630.7 537.3L631.3 538.0L631.7 538.5L632.1 538.5L632.4 537.9L632.9 537.1L633.5 536.2L634.0 535.2L634.4 534.1L634.8 533.0L634.9 532.0L634.9 531.0L634.8 530.0L634.5 529.0L634.1 528.0L633.5 527.0L632.8 526.0L632.2 525.1L631.6 524.4L631.2 523.9Z" fill="#A83CC4" opacity="0.92"/>
<path d="M630.6 518.2L631.1 519.0L631.7 520.1L632.5 521.4L633.5 522.9L634.5 524.4L635.5 526.0L636.7 527.5L637.8 529.0L639.0 530.6L640.4 532.3L641.8 534.1L643.3 536.0L644.8 537.7L646.1 539.3L647.2 540.6L648.1 541.5L648.4 541.3L647.7 540.2L646.9 538.7L645.8 537.0L644.6 535.0L643.4 533.0L642.1 531.0L640.9 529.2L639.7 527.6L638.6 526.1L637.4 524.6L636.1 523.1L634.8 521.8L633.6 520.6L632.5 519.5L631.6 518.6L630.9 517.9Z" fill="#A83CC4" opacity="0.65"/>
<path d="M634.9 524.0L635.0 524.6L635.1 525.3L635.2 526.1L635.4 526.9L635.6 527.8L635.9 528.6L636.2 529.3L636.5 529.8L636.9 530.4L637.4 530.9L638.1 531.5L638.8 532.0L639.6 532.5L640.3 532.9L641.0 533.2L641.5 533.5L641.8 533.3L641.9 532.7L642.0 532.0L642.0 531.2L642.1 530.2L642.0 529.3L641.8 528.3L641.5 527.5L641.0 526.7L640.4 526.0L639.7 525.5L638.9 525.0L638.1 524.6L637.2 524.3L636.4 524.1L635.8 523.9L635.2 523.8Z" fill="#A83CC4" opacity="0.75"/>
<path d="M620.4 551.8L620.6 552.6L621.0 553.8L621.4 555.2L622.0 556.6L622.6 558.1L623.5 559.4L624.4 560.6L625.5 561.5L626.5 562.4L627.5 563.1L628.4 563.8L629.3 564.4L630.1 564.9L630.9 565.5L631.8 566.2L632.8 567.1L634.0 568.1L635.3 569.3L636.7 570.7L638.2 572.1L639.7 573.5L641.1 574.9L642.5 576.3L643.8 577.6L645.1 578.9L646.3 580.3L647.6 581.7L648.8 583.2L649.9 584.5L650.9 585.7L651.8 586.7L652.4 587.5L652.8 587.3L652.4 586.4L651.8 585.2L651.1 583.7L650.4 582.1L649.6 580.4L648.7 578.7L647.8 577.0L646.8 575.3L645.8 573.7L644.7 572.0L643.5 570.2L642.2 568.5L641.0 566.8L639.7 565.3L638.5 563.8L637.4 562.5L636.3 561.3L635.2 560.3L634.2 559.5L633.3 558.8L632.4 558.2L631.6 557.6L630.9 557.0L630.1 556.3L629.2 555.5L628.1 554.7L626.8 553.9L625.4 553.2L624.0 552.6L622.7 552.2L621.5 551.8L620.6 551.5Z" fill="#A83CC4" opacity="0.80"/>
<path d="M621.1 566.3L621.0 567.0L620.9 567.9L620.9 568.9L620.9 570.1L621.0 571.2L621.2 572.2L621.5 573.1L621.8 573.8L622.3 574.4L622.9 575.1L623.7 575.7L624.6 576.3L625.5 576.9L626.3 577.3L627.0 577.7L627.6 578.0L628.0 577.8L628.1 577.2L628.3 576.4L628.4 575.4L628.6 574.4L628.6 573.3L628.5 572.2L628.3 571.2L627.9 570.4L627.4 569.5L626.7 568.8L625.8 568.1L624.9 567.5L623.8 567.0L622.9 566.7L622.0 566.4L621.4 566.1Z" fill="#A83CC4" opacity="0.88"/>
<path d="M612.3 575.0L612.3 577.1L612.3 579.2L612.5 581.2L612.7 583.2L613.2 585.2L613.8 587.2L614.4 589.1L615.2 591.1L615.6 591.0L615.6 588.9L615.5 586.9L615.4 584.8L615.1 582.8L614.7 580.8L614.1 578.8L613.4 576.9L612.7 575.0Z" fill="#A83CC4" opacity="0.70"/>
<path d="M618.1 583.8L617.6 584.8L617.2 585.9L617.0 586.9L617.1 587.8L617.4 588.7L618.0 589.5L618.7 590.3L619.6 591.1L620.0 591.0L620.5 590.0L620.8 588.9L621.0 587.9L621.0 587.0L620.7 586.1L620.1 585.3L619.4 584.5L618.5 583.7Z" fill="#A83CC4" opacity="0.80"/>
<path d="M624.1 507.2L624.3 507.6L624.6 508.2L624.9 508.9L625.2 509.8L625.5 510.7L625.8 511.5L626.1 512.3L626.5 513.0L626.9 513.6L627.4 514.3L628.0 515.1L628.6 515.8L629.2 516.5L629.7 517.1L630.1 517.7L630.3 518.1L630.5 518.0L630.4 517.5L630.3 516.9L630.2 516.1L630.1 515.1L630.0 514.2L629.8 513.2L629.5 512.3L629.1 511.5L628.6 510.7L627.9 510.0L627.2 509.4L626.4 508.8L625.7 508.3L625.1 507.8L624.6 507.4L624.2 507.0Z" fill="#D060DC" opacity="0.51"/>
<path d="M630.9 523.9L630.9 524.5L630.7 525.2L630.5 526.1L630.3 527.1L630.0 528.2L629.8 529.3L629.7 530.3L629.7 531.3L629.8 532.3L630.0 533.3L630.4 534.3L630.8 535.4L631.1 536.3L631.5 537.2L631.7 537.9L631.8 538.5L632.0 538.5L632.0 537.9L632.1 537.2L632.4 536.3L632.6 535.2L632.9 534.2L633.1 533.1L633.2 532.1L633.2 531.1L633.1 530.1L632.9 529.1L632.5 528.1L632.1 527.0L631.7 526.1L631.4 525.2L631.2 524.5L631.1 523.9Z" fill="#D060DC" opacity="0.55"/>
<path d="M635.0 524.0L635.3 524.3L635.6 524.9L635.9 525.5L636.2 526.2L636.5 527.0L636.9 527.8L637.2 528.5L637.6 529.1L638.0 529.6L638.5 530.2L639.1 530.9L639.8 531.5L640.4 532.1L640.9 532.6L641.3 533.1L641.6 533.4L641.8 533.3L641.6 532.9L641.4 532.3L641.3 531.6L641.1 530.7L640.9 529.9L640.6 529.0L640.3 528.2L639.9 527.5L639.4 526.9L638.7 526.3L638.0 525.8L637.3 525.3L636.6 524.9L636.0 524.5L635.5 524.1L635.2 523.8Z" fill="#D060DC" opacity="0.45"/>
<path d="M620.4 551.7L620.9 552.3L621.5 553.2L622.2 554.4L623.0 555.6L623.8 556.9L624.7 558.2L625.6 559.3L626.6 560.2L627.6 561.0L628.5 561.7L629.4 562.4L630.3 563.0L631.1 563.6L632.0 564.2L633.0 565.0L634.0 565.9L635.2 567.0L636.5 568.3L637.9 569.6L639.3 571.1L640.8 572.6L642.2 574.0L643.5 575.5L644.8 576.9L645.9 578.3L647.1 579.8L648.3 581.3L649.4 582.8L650.4 584.2L651.2 585.5L652.0 586.6L652.5 587.5L652.7 587.3L652.2 586.5L651.5 585.4L650.7 584.0L649.8 582.5L648.9 580.9L647.9 579.2L646.9 577.6L645.9 576.0L644.8 574.5L643.6 572.8L642.4 571.2L641.1 569.5L639.8 567.9L638.5 566.3L637.3 564.9L636.2 563.7L635.1 562.6L634.1 561.7L633.2 560.9L632.3 560.2L631.4 559.6L630.6 559.0L629.8 558.3L629.0 557.6L628.0 556.8L626.9 555.9L625.7 555.0L624.4 554.2L623.2 553.4L622.1 552.7L621.2 552.1L620.6 551.6Z" fill="#D060DC" opacity="0.48"/>
<path d="M621.1 566.3L621.4 566.8L621.6 567.5L621.8 568.3L622.1 569.3L622.3 570.3L622.6 571.3L623.0 572.2L623.4 572.9L623.8 573.6L624.4 574.3L625.1 575.1L625.8 575.8L626.4 576.4L627.0 577.0L627.4 577.5L627.7 578.0L627.9 577.9L627.7 577.4L627.6 576.7L627.5 575.9L627.4 575.0L627.2 574.0L627.1 573.0L626.8 572.1L626.4 571.2L625.9 570.4L625.3 569.7L624.5 568.9L623.7 568.3L622.9 567.7L622.2 567.1L621.7 566.6L621.3 566.2Z" fill="#D060DC" opacity="0.53"/>
<path d="M618.2 583.8L618.2 584.7L618.0 585.7L618.0 586.7L618.1 587.6L618.3 588.5L618.8 589.4L619.3 590.2L619.7 591.1L619.9 591.0L619.9 590.1L620.0 589.1L620.1 588.1L620.0 587.2L619.7 586.3L619.3 585.5L618.8 584.6L618.4 583.7Z" fill="#D060DC" opacity="0.48"/>
</g></g>
<rect x="584.6" y="416.100" width="99.0" height="87.500" fill="#060408"/>
<g filter="url(#b06)">
<path d="M660.1 461.8l1.0 1.0M603.3 418.7l1.7 0.3M604.1 453.3l0.4 0.6M674.3 491.3l-0.6 0.3M672.3 450.9l-0.9 1.0M676.9 431.0l1.0 0.9M590.9 468.5l0.4 1.4M657.0 427.6l1.4 1.0M665.0 484.5l-1.3 0.2M624.1 437.7l1.1 0.3M619.2 421.1l-1.2 1.2M664.7 438.2l0.9 1.0M617.6 449.4l0.5 0.9M627.0 445.1l-1.1 0.0M668.6 464.2l1.0 0.2M615.9 465.9l0.3 0.7M585.1 476.9l-1.0 0.6M654.6 451.2l-0.8 0.2M644.8 485.0l-1.2 0.4M667.6 456.8l1.0 0.1M631.7 494.2l0.4 1.6M630.0 445.9l-0.3 0.8M681.3 497.6l0.5 1.1M599.4 451.0l-1.2 0.9M589.1 448.1l0.8 0.2M653.3 469.4l1.0 0.9M643.3 449.1l-1.2 0.1M678.4 420.7l0.5 0.8M598.9 421.3l-1.0 1.3M610.3 418.8l1.1 0.9M596.1 427.0l-1.7 0.6M681.2 418.8l-0.4 1.7M651.1 434.7l-1.1 0.3M586.6 484.9l0.4 0.5M593.4 429.9l-0.6 0.7M599.4 454.5l0.2 0.7M657.8 433.2l0.6 0.4M664.5 439.5l-0.1 1.0M656.4 419.2l0.8 1.1M674.7 434.2l-0.4 0.5M632.4 440.4l-1.3 0.7M648.2 458.8l-0.2 0.8M649.6 467.7l-1.3 0.6M651.9 417.7l1.7 0.4M654.4 451.3l0.1 0.6M668.4 450.1l-1.4 0.2M637.8 462.3l-1.1 0.3M624.8 420.8l-1.7 0.6M651.5 453.4l0.9 1.1M678.3 465.7l-0.6 0.7M585.7 430.0l-0.2 1.6M630.0 446.5l-1.5 0.6M609.6 488.7l-0.5 1.3M662.7 496.6l0.9 1.2M603.7 426.7l-1.0 0.2M653.8 484.2l-1.3 0.6M652.3 436.8l0.8 0.0M638.9 485.5l1.6 0.7M645.8 489.4l0.7 0.6M595.2 476.2l0.4 0.8M670.5 471.0l-0.9 1.3M682.5 495.6l-0.7 0.2M648.5 440.0l-0.6 1.5M674.5 426.9l-1.5 0.9M669.5 443.8l0.0 1.1M680.5 478.3l0.4 0.7M673.3 483.8l-0.3 0.9" stroke="#4A9AE0" stroke-width="2.9" stroke-linecap="round" fill="none" opacity="0.8"/>
<path d="M635.1 430.3l-0.8 0.6M647.2 419.0l-0.2 0.6M608.6 459.6l-0.6 0.1M604.3 444.2l-0.1 0.6M673.2 493.2l0.6 0.2M599.6 445.9l0.8 0.3M679.7 461.0l1.0 1.2M679.5 437.4l0.8 1.0M643.5 429.9l1.6 0.5M590.4 467.8l-0.6 1.0M617.0 487.2l-1.4 0.0M644.8 447.4l-0.6 1.4M627.7 460.3l0.3 1.1M658.5 431.9l0.9 0.9M605.3 428.4l0.7 1.2M640.3 482.3l-0.8 0.3M624.4 487.9l0.0 1.1M625.4 485.6l0.9 1.4M660.1 460.5l0.0 1.0M651.4 490.6l1.1 0.6M659.9 490.8l-0.8 1.5M675.6 462.8l-1.3 0.9M611.1 495.2l1.6 0.2M592.6 476.0l1.3 1.1M633.9 459.4l-0.9 0.6M599.4 435.5l-1.4 0.5M659.1 432.1l-0.1 1.4M641.0 500.5l0.9 1.4M587.4 417.1l0.2 1.0M643.9 428.1l-1.6 0.3M611.4 492.2l-0.7 0.5M632.6 481.5l0.8 0.6M625.4 429.7l0.9 0.4M671.2 473.8l1.8 0.3M595.1 470.5l-1.2 0.8M601.7 455.8l-0.7 0.2M634.0 474.7l-0.0 0.7M659.3 444.5l0.3 0.6M585.9 428.7l-0.2 0.8M653.5 488.3l0.4 0.5M683.6 459.0l-0.8 0.9M676.0 468.3l1.0 0.4M602.1 493.1l-0.7 0.7M683.1 480.4l-0.3 1.0M606.1 442.2l-0.4 1.4M604.9 468.9l0.8 0.7M661.9 469.1l-0.2 1.6M597.1 495.1l-0.1 1.2M619.2 470.6l1.0 0.5M682.9 458.5l0.6 0.9M637.4 448.9l0.1 0.8M677.6 436.1l-0.4 1.5M628.3 485.1l-0.6 1.0M661.7 471.7l0.5 0.6M588.7 481.2l0.6 0.2M608.4 499.5l1.0 1.1M678.6 494.2l-0.4 0.9M649.4 456.8l1.6 0.2M627.3 440.3l1.3 0.7M602.1 456.1l-1.0 0.9M614.7 453.4l1.4 1.1M593.7 442.5l0.4 0.8M664.7 436.4l-0.2 0.8M646.7 480.2l0.8 0.6M629.8 448.1l0.5 0.6M603.0 471.7l-0.3 1.8M649.7 464.5l1.3 0.9M664.7 454.2l-0.3 0.7" stroke="#3F8ED8" stroke-width="2.9" stroke-linecap="round" fill="none" opacity="0.8"/>
<path d="M635.0 437.0l-0.6 0.6M674.3 489.3l1.4 0.7M666.8 425.3l0.7 0.5M593.7 430.8l1.6 0.2M615.8 470.0l0.9 1.3M651.7 478.3l1.1 0.1M628.1 428.3l-0.3 1.0M668.6 425.3l-1.0 0.4M670.6 430.6l-0.6 1.4M681.2 438.2l1.6 0.0M631.1 491.4l-0.3 0.8M650.7 473.1l-1.2 0.2M664.3 493.2l-0.6 1.0M608.0 452.1l1.2 0.4M632.4 489.4l1.2 0.4M653.0 480.0l-1.5 0.6M653.7 482.5l-0.6 0.4M623.4 419.1l-1.2 0.7M599.5 469.5l1.0 0.3M680.7 431.8l0.4 1.6M616.7 435.8l0.5 1.0M587.4 447.2l-0.8 0.7M598.4 461.9l1.7 0.1M659.1 416.9l-0.9 0.2M676.8 479.0l-1.4 0.5M671.5 436.7l0.8 1.3M611.9 483.7l-0.8 0.4M584.7 445.9l0.5 0.6M616.2 436.6l0.3 1.5M607.5 455.9l-1.3 1.2M590.0 459.0l-0.8 0.8M598.2 449.8l1.2 0.7M601.7 498.4l0.3 0.6M607.0 439.3l-0.1 1.3M644.1 419.5l-0.9 0.0M679.3 444.0l0.2 0.8M587.7 485.1l0.6 0.3M644.3 467.7l0.4 1.4M652.6 501.1l1.0 0.6M609.8 425.6l0.2 1.1M599.4 474.2l0.3 0.6M622.1 461.5l-1.1 1.2M679.2 501.1l-1.0 0.6M683.3 416.2l-0.7 0.3M681.5 453.5l0.7 0.5M617.3 472.2l1.6 0.1M638.2 472.9l-0.4 0.8M659.4 472.8l0.9 0.9M586.9 431.4l-0.6 0.8M648.3 469.2l-0.2 1.6M584.7 486.7l0.6 0.1M675.2 431.9l-0.7 0.5M620.8 501.1l-0.8 0.6M588.0 490.2l0.4 1.3M673.0 471.7l-0.6 0.2M650.4 451.4l1.0 0.5M662.1 478.6l0.5 0.6M655.3 455.9l1.5 0.0M606.8 442.3l-1.5 0.5M592.9 489.6l-1.0 1.0M637.4 439.7l-0.9 1.3M660.1 470.7l-1.0 1.2M649.8 492.2l1.0 0.5M659.6 481.1l-0.8 0.6M642.1 483.3l0.6 1.0M629.3 453.0l-1.3 0.9M619.6 434.0l-0.2 1.2M643.5 453.6l0.6 0.3M667.0 425.5l-0.9 0.4M662.2 432.1l-0.3 1.4M644.5 428.9l-0.7 0.7M603.4 465.4l1.7 0.6M612.7 442.6l0.8 0.0M682.7 450.1l-0.6 0.1" stroke="#5AA6E8" stroke-width="2.9" stroke-linecap="round" fill="none" opacity="0.8"/>
<path d="M680.2 452.4l-1.3 0.6M676.3 466.0l0.2 0.7M657.4 489.3l0.0 1.5M613.4 433.0l-0.3 0.8M678.6 428.2l-1.1 0.3M682.8 449.0l-1.0 1.1M631.3 454.9l-0.1 0.7M612.3 430.4l-0.2 1.5M656.4 427.9l1.5 0.8M635.4 464.3l0.5 1.2M609.9 479.1l0.2 1.5M604.4 423.1l-0.5 0.6M645.2 481.4l-0.1 0.7M626.3 443.5l1.7 0.3M677.4 483.7l1.3 0.5M591.9 489.4l0.6 0.2M594.1 431.3l-1.5 0.1M655.2 424.6l1.1 0.7M664.3 501.3l1.1 0.8M661.7 501.3l0.1 0.7M646.0 490.2l0.4 0.9M654.9 477.6l1.0 1.0M646.9 479.2l-0.5 1.2M621.6 480.2l-1.3 0.4M644.3 475.2l0.4 0.9M647.2 483.1l-1.4 0.5M658.8 484.7l1.1 0.0M606.1 455.4l-0.1 1.6M647.0 442.9l-0.9 0.2M647.8 454.0l0.2 1.6M600.7 495.4l0.3 0.7M609.3 464.8l0.2 1.1M638.4 447.2l0.7 0.8M599.4 441.2l1.7 0.6M642.8 439.1l-0.4 0.9M634.7 422.3l-1.2 0.7M593.0 493.4l1.6 0.3M645.9 437.7l-0.7 0.2M621.3 461.1l-0.6 1.2M614.3 448.4l-0.4 1.1M587.6 469.6l0.9 0.8M642.9 447.0l0.2 1.5M598.0 476.6l-1.3 0.3M646.3 424.1l-0.6 1.4M596.4 442.6l-0.4 1.3M643.7 447.9l1.4 0.7M671.8 497.5l-0.8 0.0M636.3 446.2l-0.6 0.2M604.3 441.1l-1.2 1.1M631.0 476.6l-0.4 0.6M619.1 467.7l0.8 1.3M600.0 476.8l1.2 0.3M681.1 460.0l-1.5 0.0M599.5 459.3l0.3 0.9M591.8 466.9l0.4 1.0M645.4 417.3l-1.8 0.4M594.3 430.0l-0.7 0.5M616.5 446.2l-0.2 1.0M632.4 483.0l-1.5 0.9M681.0 422.9l0.6 0.8M641.1 430.4l0.3 1.3M661.8 487.4l0.8 1.4M634.5 441.7l1.1 0.1M585.4 419.3l-0.0 1.1M649.5 480.6l-1.1 0.3M611.3 425.0l0.6 0.1M607.2 481.6l0.9 0.0M639.2 479.5l0.2 1.2M627.8 477.5l1.7 0.1M676.4 501.3l-0.5 1.3M637.7 479.0l1.6 0.3M592.9 467.9l-0.2 0.8M672.7 441.0l-0.6 1.1M589.5 449.2l0.9 1.3M678.6 494.5l0.5 0.5M601.4 431.6l-0.7 0.4M633.3 462.5l-0.5 1.2M665.0 466.9l-0.2 0.7M589.0 456.4l-0.8 0.7M653.7 467.1l0.9 1.3M649.7 476.5l-1.2 0.3" stroke="#3C84CC" stroke-width="2.9" stroke-linecap="round" fill="none" opacity="0.8"/>
</g>
<use href="#ef2" y="-87" opacity="0.8" style="mix-blend-mode:screen"/>
<rect x="584.6" y="502" width="99.0" height="1.600" fill="#fff"/>
</g>
<rect x="660.5" y="496.3" width="18.300" height="1.800" fill="#fff"/>
<rect x="660.5" y="584.1" width="18.300" height="1.800" fill="#fff"/>
<text x="386" y="425" font-size="9.2" fill="#C068D4">MF20</text>
<text x="386" y="434.6" font-size="8.8" fill="#62A2E0">Hoechst</text>
<text x="386" y="512.6" font-size="9.2" fill="#B858CC">MF20</text>
<text x="468.6" y="494.2" font-size="5.6" text-anchor="middle" font-weight="bold" fill="#fff">50 µm</text>
</g>
<g id="pf">
<rect x="25.100" y="635.900" width="172.600" height="177.800" fill="#EBEBEB"/>
<path d="M29.8 635.900V813.700M79.6 635.900V813.700M129.4 635.900V813.700M179.2 635.900V813.700M25.100 807.4H197.700M25.100 757.4H197.700M25.100 707.4H197.700M25.100 657.4H197.700" stroke="#F5F5F5" stroke-width="0.4" fill="none"/>
<path d="M54.7 635.900V813.700M25.100 782.4H197.700M104.5 635.900V813.700M25.100 732.4H197.700M154.3 635.900V813.700M25.100 682.4H197.700" stroke="#fff" stroke-width="0.7" fill="none"/>
<path d="M54.7 813.700V815.500M23.300 782.4H25.100" stroke="#444" stroke-width="0.5"/>
<text x="54.7" y="821.6" font-size="5.3" text-anchor="middle" fill="#4d4d4d">-10</text>
<text x="22.6" y="784.3" font-size="5.3" text-anchor="end" fill="#4d4d4d">-10</text>
<path d="M104.5 813.700V815.500M23.300 732.4H25.100" stroke="#444" stroke-width="0.5"/>
<text x="104.5" y="821.6" font-size="5.3" text-anchor="middle" fill="#4d4d4d">0</text>
<text x="22.6" y="734.3" font-size="5.3" text-anchor="end" fill="#4d4d4d">0</text>
<path d="M154.3 813.700V815.500M23.300 682.4H25.100" stroke="#444" stroke-width="0.5"/>
<text x="154.3" y="821.6" font-size="5.3" text-anchor="middle" fill="#4d4d4d">10</text>
<text x="22.6" y="684.3" font-size="5.3" text-anchor="end" fill="#4d4d4d">10</text>
<text x="111.9" y="828.8" font-size="6.3" text-anchor="middle" fill="#111">PC1: 39% variance</text>
<text transform="translate(13.200 724.600) rotate(-90)" font-size="6.300" text-anchor="middle" fill="#111">PC2: 34% variance</text>
<path d="M118.2 644.9H122.8L120.5 640.8Z" fill="#E8696B"/>
<path d="M53.2 655.7H57.8L55.5 651.6Z" fill="#5CD0C4"/>
<circle cx="33.4" cy="724.8" r="1.8" fill="#5CD0C4"/>
<circle cx="190.4" cy="723.9" r="1.8" fill="#E8696B"/>
<path d="M171.0 756.3H176.60000000000002M173.8 753.5V759.0999999999999" stroke="#E8696B" stroke-width="0.5" fill="none"/>
<path d="M75.10000000000001 771H80.7M77.9 768.2V773.8" stroke="#5CD0C4" stroke-width="0.5" fill="none"/>
<rect x="149.7" y="779.5" width="3.4" height="3.4" fill="#E8696B"/>
<rect x="33.2" y="804.3" width="3.4" height="3.4" fill="#5CD0C4"/>
<circle cx="50.600" cy="627.300" r="3.400" fill="#E8696B"/><circle cx="106.400" cy="627.300" r="3.400" fill="#5CD0C4"/>
<text x="57.6" y="630" font-size="8.7" fill="#111">Control</text>
<text x="115" y="630" font-size="8.85" fill="#111"><tspan font-style="italic">LAMA2</tspan> Ex3 KO</text>
</g>
<g id="pg">
<path d="M250 626.300H329.900M336.900 626.300H419" stroke="#111" stroke-width="0.8" fill="none"/>
<path d="M245.100 626.300L251.300 623.700V628.900ZM423.600 626.300L417.400 623.700V628.900Z" fill="#111"/>
<text x="291.7" y="621.8" font-size="6.15" text-anchor="middle" fill="#111">137 genes downregulated</text>
<text x="376.5" y="621.8" font-size="6.15" text-anchor="middle" fill="#111">291 genes upregulated</text>
<path d="M243 635.700V669M243 674.300V813H425.200" fill="none" stroke="#111" stroke-width="0.8"/>
<path d="M241 668.200L244.800 671.700M241 673L244.800 676.500" fill="none" stroke="#111" stroke-width="0.6"/>
<path d="M240.400 635.9H243" stroke="#111" stroke-width="0.8"/>
<text x="239.3" y="637.9" font-size="5.4" text-anchor="end" font-weight="bold" fill="#111">40</text>
<path d="M240.400 652.6H243" stroke="#111" stroke-width="0.8"/>
<text x="239.3" y="654.6" font-size="5.4" text-anchor="end" font-weight="bold" fill="#111">30</text>
<path d="M240.400 669H243" stroke="#111" stroke-width="0.8"/>
<text x="239.3" y="671" font-size="5.4" text-anchor="end" font-weight="bold" fill="#111">20</text>
<path d="M240.400 706.2H243" stroke="#111" stroke-width="0.8"/>
<text x="239.3" y="708.2" font-size="5.4" text-anchor="end" font-weight="bold" fill="#111">10</text>
<path d="M240.400 759.4H243" stroke="#111" stroke-width="0.8"/>
<text x="239.3" y="761.4" font-size="5.4" text-anchor="end" font-weight="bold" fill="#111">5</text>
<path d="M240.400 813H243" stroke="#111" stroke-width="0.8"/>
<text x="239.3" y="815" font-size="5.4" text-anchor="end" font-weight="bold" fill="#111">0</text>
<path d="M273.0 813V815.800" stroke="#111" stroke-width="0.8"/>
<text x="273.0" y="822.4" font-size="5.4" text-anchor="middle" font-weight="bold" fill="#111">-10</text>
<path d="M333.8 813V815.800" stroke="#111" stroke-width="0.8"/>
<text x="333.8" y="822.4" font-size="5.4" text-anchor="middle" font-weight="bold" fill="#111">0</text>
<path d="M394.6 813V815.800" stroke="#111" stroke-width="0.8"/>
<text x="394.6" y="822.4" font-size="5.4" text-anchor="middle" font-weight="bold" fill="#111">10</text>
<text x="333.800" y="830.300" font-size="5.800" text-anchor="middle" fill="#111">Log<tspan font-size="4" dy="1.200">2</tspan><tspan dy="-1.200"> fold change</tspan></text>
<text transform="translate(231 724.400) rotate(-90)" font-size="5.800" text-anchor="middle" fill="#111">-log<tspan font-size="4" dy="1.200">10</tspan><tspan dy="-1.200" font-style="italic"> P</tspan></text>
<path d="M320.3 783.9h0M297.8 783.8h0M343.7 761.6h0M350.6 786.9h0M320.3 790.0h0M347.2 758.9h0M344.9 767.3h0M359.5 790.5h0M344.9 791.9h0M343.9 782.9h0M347.8 784.5h0M345.3 794.9h0M348.1 794.2h0M343.2 770.0h0M353.1 791.5h0M343.1 784.2h0M355.3 769.1h0M347.5 787.6h0M346.1 778.2h0M350.1 780.8h0M354.6 769.9h0M345.2 773.5h0M355.4 798.6h0M319.2 752.5h0M351.3 789.6h0M319.1 761.3h0M350.1 758.4h0M315.9 793.4h0M343.9 783.3h0M352.5 796.1h0M313.4 784.5h0M311.2 797.0h0M344.7 793.1h0M315.7 761.2h0M344.0 787.0h0M348.3 780.4h0M344.7 760.9h0M322.0 786.0h0M320.0 783.0h0M344.9 782.1h0M351.2 798.3h0M347.1 754.3h0M315.8 783.7h0M349.1 781.7h0M350.7 780.7h0M348.9 756.9h0M345.2 787.4h0M350.9 797.5h0M317.1 795.8h0M357.8 775.9h0M315.1 788.6h0M351.3 792.2h0M306.5 797.4h0M354.9 780.2h0M363.7 783.3h0M352.4 798.9h0M346.6 777.5h0M348.3 767.2h0M343.6 793.5h0M312.8 787.0h0M344.4 797.8h0M357.5 794.4h0M320.9 797.2h0M343.8 786.5h0M351.2 750.1h0M351.2 796.3h0M343.6 784.9h0M361.3 798.8h0M346.5 740.6h0M343.6 774.7h0M366.1 795.4h0M344.2 796.4h0M346.6 778.0h0M348.4 798.7h0M344.6 796.4h0M343.4 768.4h0M323.3 756.9h0M323.8 750.7h0M313.9 796.7h0M323.1 795.2h0M343.1 798.8h0M344.6 791.1h0M324.4 770.3h0M351.2 788.3h0M347.3 796.9h0M360.6 798.6h0M355.2 788.4h0M363.1 798.5h0M346.0 776.3h0M357.5 798.1h0M319.5 797.9h0M319.1 784.6h0M295.8 795.2h0M348.6 797.2h0M354.6 783.5h0M350.7 795.0h0M344.5 790.6h0M346.2 797.2h0M349.6 790.8h0M310.5 798.2h0M343.5 797.0h0M353.1 786.3h0M347.9 791.7h0M322.3 777.1h0M355.2 780.6h0M348.5 791.2h0M344.4 777.0h0M324.0 759.7h0M351.7 785.0h0M354.3 743.8h0M348.7 780.4h0M310.1 775.8h0M323.6 773.8h0M322.4 799.0h0M348.0 789.6h0M319.1 798.6h0M344.4 787.9h0M345.7 773.7h0M348.0 797.5h0M323.7 779.0h0M344.9 777.0h0M346.5 792.9h0M343.7 787.3h0M318.4 787.2h0M343.2 788.4h0M343.0 791.4h0M323.9 792.9h0M324.6 769.6h0M322.0 774.8h0M353.8 774.0h0M313.7 798.5h0M310.6 772.3h0M348.1 776.2h0M343.7 798.7h0M315.7 783.3h0M358.3 798.0h0M344.6 780.9h0M346.0 791.8h0M345.4 795.4h0M343.7 784.1h0M345.5 773.1h0M353.2 794.9h0M323.5 780.0h0M349.4 795.7h0M347.1 772.3h0M346.5 749.0h0M349.1 781.5h0M348.9 796.2h0M321.5 792.0h0M324.4 784.1h0M321.4 798.0h0M343.4 756.8h0M348.7 786.3h0M347.8 769.8h0M346.6 766.9h0M345.3 786.1h0M324.3 796.8h0M345.5 774.0h0M344.1 793.2h0M346.4 784.7h0M322.1 792.5h0M345.4 780.9h0M349.3 797.9h0M318.4 793.1h0M349.4 756.9h0M345.4 781.6h0M345.9 781.3h0M345.2 789.6h0M353.1 781.7h0M351.1 779.6h0M349.2 789.3h0M345.7 795.2h0M308.4 791.0h0M323.9 797.5h0M343.6 768.0h0M356.0 798.6h0M351.8 796.8h0M344.0 762.0h0M353.0 796.3h0M346.1 776.9h0M321.4 792.5h0M346.5 784.3h0M315.5 788.8h0M345.7 740.6h0M346.7 792.7h0M352.7 796.8h0M319.0 761.2h0M343.6 759.6h0M345.0 769.9h0M311.7 796.9h0M360.7 796.3h0M345.5 798.6h0M320.8 793.9h0M345.8 798.6h0M354.0 783.2h0M343.8 792.0h0M350.2 796.5h0M346.5 799.0h0M323.0 762.1h0M350.8 786.4h0M322.8 791.8h0M321.7 767.9h0M343.6 749.5h0M343.0 783.6h0M323.8 787.4h0M344.6 788.1h0M320.6 785.6h0M347.8 789.9h0M324.6 765.8h0M350.9 782.4h0M351.0 792.3h0M320.3 767.2h0M316.3 788.7h0M349.0 769.0h0M316.4 788.9h0M324.4 794.4h0M309.7 789.7h0M347.7 793.7h0M344.2 790.0h0M355.1 793.3h0M322.1 755.0h0M356.6 792.4h0M347.1 786.0h0M347.4 768.5h0M343.4 779.6h0M347.7 791.9h0M318.7 792.5h0M346.3 776.2h0M343.2 755.6h0M303.0 771.8h0M319.1 790.9h0M349.8 745.5h0M319.5 770.9h0M324.3 767.1h0M345.9 782.5h0M349.8 746.9h0M351.7 785.0h0M346.0 778.4h0M324.0 771.0h0M345.9 782.8h0M323.0 787.0h0M345.0 748.7h0M343.7 758.8h0M356.8 791.1h0M318.3 765.7h0M322.3 797.8h0M356.4 772.7h0M358.9 786.5h0M347.2 796.7h0M323.9 766.3h0M320.2 790.4h0M347.8 781.4h0M347.5 771.4h0M346.6 777.0h0M355.7 777.5h0M357.6 798.4h0M323.8 795.4h0M317.9 791.7h0M356.6 773.4h0M319.1 784.5h0M322.7 783.6h0M344.0 739.9h0M318.7 776.0h0M354.2 786.6h0M343.1 798.1h0M348.1 779.6h0M346.2 779.1h0M348.9 793.0h0M346.9 767.7h0M345.1 797.6h0M321.5 786.1h0M319.5 792.2h0M351.0 765.8h0M343.8 789.4h0M345.3 786.5h0M323.1 797.0h0M322.0 780.1h0M313.6 796.5h0M319.9 792.1h0M347.1 785.3h0M345.2 798.7h0M322.3 798.1h0M355.9 784.1h0M347.6 763.7h0M355.9 780.8h0M345.7 788.9h0M344.2 782.4h0M320.8 771.2h0M299.7 790.7h0M304.3 794.2h0M345.4 743.0h0M344.3 784.4h0M343.2 796.0h0M346.8 787.4h0M347.3 791.6h0M345.1 790.8h0M347.5 775.9h0M315.3 791.7h0M366.7 792.1h0M350.8 779.3h0M352.0 785.1h0M348.2 795.7h0M348.8 765.7h0M318.4 798.6h0M343.6 798.7h0M323.8 774.5h0M352.0 757.7h0M351.0 798.1h0M323.4 791.0h0M347.5 792.0h0M311.2 793.3h0M351.9 778.2h0M350.1 782.7h0M323.1 782.3h0M304.7 795.5h0M323.4 773.8h0M322.3 744.5h0M344.9 796.5h0M361.7 781.4h0M322.8 773.6h0M346.5 793.4h0M344.3 783.1h0M350.2 796.6h0M348.3 794.0h0M347.5 780.0h0M321.7 774.1h0M316.5 799.1h0M359.0 792.7h0M355.7 789.9h0M306.3 794.8h0M357.4 797.9h0M347.6 774.9h0M357.8 796.6h0M344.1 746.6h0M346.0 785.6h0M362.8 772.5h0M343.0 781.1h0M302.2 796.2h0M347.7 786.3h0M354.5 789.7h0M324.0 795.4h0M344.7 794.9h0M352.4 785.6h0M344.1 758.8h0M353.6 787.9h0M318.6 795.5h0M322.5 793.4h0M323.2 770.2h0M345.1 773.1h0M318.8 777.7h0M324.0 791.4h0M347.2 756.1h0M345.2 796.6h0M345.0 779.8h0M323.9 795.6h0M348.6 789.3h0M346.8 784.3h0M344.4 793.3h0M355.5 797.9h0M350.3 797.7h0M343.3 782.3h0M348.1 796.1h0M320.6 796.8h0M319.8 797.4h0M353.0 789.6h0M346.6 798.0h0M352.9 778.8h0M353.2 777.7h0M343.2 790.1h0M296.3 784.3h0M309.7 798.7h0M351.8 775.3h0M349.2 789.4h0M345.9 758.7h0M345.8 776.3h0M347.6 779.2h0M344.1 783.1h0M350.8 794.9h0M324.6 791.6h0M347.7 784.9h0M344.6 790.4h0M309.4 782.6h0M315.5 790.3h0M356.0 798.9h0M324.1 798.4h0M350.3 798.3h0M346.0 793.9h0M313.7 798.3h0M345.0 764.8h0M345.3 780.8h0M345.3 791.9h0M318.7 794.6h0M357.7 786.2h0M349.7 771.9h0M321.7 795.9h0M351.5 788.5h0M345.1 774.2h0M357.9 788.4h0M347.9 796.5h0M323.4 777.5h0M354.3 797.7h0M344.2 792.7h0M348.5 761.3h0M316.8 777.2h0M346.9 760.0h0M362.1 799.0h0M362.8 797.9h0M346.9 793.8h0M344.3 748.1h0M264.7 645.9h0M297.7 640.3h0M347.4 693.2h0M350.9 696h0M300 789h0M299 791h0M369 782h0M368 791h0M365 797h0" stroke="#EE1C25" stroke-width="2.250" stroke-linecap="round" fill="none"/>
<path d="M339.3 796.8h0M337.7 790.3h0M339.5 798.9h0M328.9 793.0h0M329.1 792.5h0M327.0 789.9h0M341.6 785.7h0M330.0 797.8h0M338.0 798.3h0M338.3 791.4h0M337.8 770.7h0M327.3 791.1h0M340.8 790.1h0M340.6 798.7h0M329.9 797.1h0M329.2 796.4h0M338.9 797.1h0M328.5 774.3h0M338.5 788.0h0M329.3 795.2h0M339.3 788.5h0M339.7 784.9h0M328.2 796.2h0M329.7 776.5h0M338.8 794.7h0M340.5 792.8h0M330.1 796.8h0M340.4 776.0h0M328.6 792.8h0M327.6 783.8h0M339.5 798.5h0M327.3 763.6h0M337.5 799.1h0M338.6 796.5h0M340.1 798.0h0M339.1 796.4h0M339.7 779.7h0M325.6 787.3h0M339.7 791.8h0M340.7 791.3h0M329.9 778.7h0M337.9 785.0h0M325.7 765.5h0M328.5 793.1h0M329.9 798.1h0M341.4 790.4h0M328.5 797.0h0M339.2 787.2h0M327.3 788.6h0M338.6 795.6h0M338.6 796.9h0M327.2 796.5h0M338.9 781.9h0M329.9 797.3h0M326.7 770.2h0M341.4 780.9h0M329.5 798.3h0M339.7 786.6h0M338.6 763.5h0M328.4 781.2h0M328.9 797.3h0M339.1 796.6h0M338.3 794.3h0M337.7 772.2h0M338.3 793.6h0M329.0 794.8h0M325.3 795.5h0M342.1 792.1h0M339.5 787.3h0M328.4 791.3h0M340.3 792.1h0M338.5 797.7h0M338.7 791.3h0M338.2 796.9h0M328.8 791.3h0M338.6 794.5h0M342.8 796.3h0M338.2 796.9h0M329.2 796.0h0M339.2 798.5h0M330.1 797.3h0M325.8 775.1h0M328.2 797.6h0M338.4 762.7h0M340.5 799.1h0M338.5 775.5h0M326.9 797.9h0M328.4 790.7h0M338.1 797.3h0M337.7 780.8h0M340.1 798.2h0M337.5 788.0h0M337.6 796.8h0M339.8 799.0h0M329.4 781.5h0M341.7 789.3h0M328.9 798.0h0M326.8 778.5h0M339.9 796.9h0M326.9 776.8h0M327.7 789.8h0M339.4 779.3h0M330.0 778.5h0M339.5 780.4h0M337.9 798.2h0M341.5 777.4h0M329.1 796.1h0M339.8 796.7h0M329.4 782.8h0M339.4 796.1h0M342.7 789.8h0M341.3 797.8h0M340.0 796.1h0M324.8 792.2h0M338.7 793.0h0M327.2 790.5h0M330.1 779.4h0M337.6 789.4h0M338.5 798.5h0M339.4 795.4h0M328.0 795.8h0M327.1 793.8h0M329.8 794.9h0M338.6 789.4h0M338.9 792.1h0M328.9 796.2h0M340.4 792.8h0M339.1 797.0h0M340.8 797.2h0M327.8 792.1h0M339.6 786.0h0M341.1 796.4h0M328.4 793.3h0M337.7 798.6h0M329.1 789.0h0M338.6 796.8h0M341.3 783.1h0M330.0 794.9h0M327.5 798.6h0M329.4 783.7h0M338.5 761.6h0M340.7 767.9h0M340.2 792.1h0M339.8 791.5h0M337.6 796.8h0M327.5 789.1h0M340.7 795.8h0M329.7 796.5h0M328.9 797.9h0M327.5 787.5h0M339.6 791.7h0M329.2 797.2h0M340.0 787.5h0M339.2 786.0h0M328.0 785.9h0M337.5 775.7h0M330.1 792.1h0M327.2 796.6h0M339.5 788.5h0M329.8 797.7h0M339.7 798.9h0M327.8 791.2h0M329.4 794.0h0M329.2 795.1h0M328.3 794.8h0M340.9 780.2h0M329.8 793.0h0M337.7 795.8h0M338.1 787.7h0M340.7 796.8h0M329.5 790.1h0M338.4 797.1h0M337.6 792.0h0M338.8 798.1h0M338.5 798.9h0M329.9 790.4h0M340.4 798.3h0M339.7 789.8h0M329.5 791.7h0M338.8 795.1h0M339.4 795.3h0M337.9 773.3h0M338.4 784.3h0M340.9 763.5h0M328.7 784.5h0M339.9 786.4h0M329.9 784.3h0M341.5 796.0h0M339.9 790.0h0M325.7 796.8h0M329.3 785.9h0M327.5 796.0h0M327.7 770.4h0M329.7 787.8h0M340.1 788.9h0M337.7 797.2h0M338.4 796.1h0M340.3 793.6h0M337.9 795.9h0M337.7 798.1h0M328.4 798.0h0M337.6 797.3h0M338.9 787.7h0M339.3 798.2h0M329.9 797.1h0M327.3 795.9h0M337.7 792.9h0M340.7 792.1h0M340.8 790.2h0M338.8 798.7h0M338.0 793.9h0M338.2 791.0h0M329.6 797.8h0M339.9 797.9h0M337.9 793.3h0M339.0 793.9h0M339.4 790.1h0M337.6 788.8h0M337.9 790.6h0M328.6 797.4h0M327.6 790.3h0M330.1 797.1h0M338.2 789.6h0M339.9 784.1h0M340.3 793.6h0M342.0 787.1h0M337.9 797.7h0M329.4 787.7h0M337.7 790.0h0M338.6 774.6h0M338.4 798.8h0M337.5 796.2h0M325.2 777.6h0M340.7 767.9h0M338.3 798.8h0M339.1 793.4h0M338.7 791.5h0M338.2 793.6h0M329.0 789.6h0M339.1 795.5h0M338.8 784.5h0M342.9 791.7h0M327.4 794.0h0M339.0 794.4h0M327.7 794.8h0M340.2 796.9h0M340.2 772.9h0M337.8 770.6h0M338.6 796.8h0" stroke="#3F51B5" stroke-width="2.250" stroke-linecap="round" fill="none"/>
<circle cx="264.7" cy="645.9" r="1.350" fill="#EE1C25"/>
<circle cx="297.7" cy="640.3" r="1.350" fill="#EE1C25"/>
<circle cx="347.4" cy="693.2" r="1.350" fill="#EE1C25"/>
<circle cx="350.9" cy="696" r="1.350" fill="#EE1C25"/>
<path d="M325 635.700V813M342.500 635.700V813M243 799H425.200" fill="none" stroke="#111" stroke-width="1.300" stroke-dasharray="1.150 0.850"/>
<text x="267.4" y="647.8" font-size="5.0" fill="#111">RPS4Y1</text>
<text x="300.4" y="642.2" font-size="5.0" fill="#111">CHCHD2</text>
<text x="353.4" y="701.1" font-size="5.0" fill="#111">POSTN</text>
<circle cx="355.500" cy="648" r="2.500" fill="#5C6BC0"/><circle cx="355.500" cy="659.200" r="2.500" fill="#EF4050"/>
<text x="362.5" y="649.8" font-size="5.35" fill="#111">P &lt; 0.05</text>
<text x="362.500" y="661" font-size="5.350" fill="#111">P&lt; 0.05+ Log<tspan font-size="3.500" dy="1">2</tspan><tspan dy="-1">FC &gt; 1.5</tspan></text>
</g>
<g id="ph">
<rect x="630.6" y="638.2" width="48.0" height="4.600" fill="#F2C27E" stroke="#222" stroke-width="0.6"/>
<path d="M550.400 640.5H553.600" stroke="#222" stroke-width="0.6"/>
<text x="549.2" y="642.4" font-size="5.4" text-anchor="end" fill="#111">P53 PATHWAY</text>
<rect x="630.6" y="646.9" width="45.9" height="4.600" fill="#F2C27E" stroke="#222" stroke-width="0.6"/>
<path d="M550.400 649.2H553.600" stroke="#222" stroke-width="0.6"/>
<text x="549.2" y="651.1" font-size="5.4" text-anchor="end" fill="#111">INTERFERON ALPHA RESPONSE</text>
<rect x="630.6" y="655.6" width="41.8" height="4.600" fill="#F2C27E" stroke="#222" stroke-width="0.6"/>
<path d="M550.400 657.9H553.600" stroke="#222" stroke-width="0.6"/>
<text x="549.2" y="659.8" font-size="5.4" text-anchor="end" fill="#111">ESTROGEN RESPONSE LATE</text>
<rect x="630.6" y="664.3" width="40.0" height="4.600" fill="#F2C27E" stroke="#222" stroke-width="0.6"/>
<path d="M550.400 666.6H553.600" stroke="#222" stroke-width="0.6"/>
<text x="549.2" y="668.5" font-size="5.4" text-anchor="end" fill="#111">CHOLESTEROL HOMEOSTASIS</text>
<rect x="630.6" y="673.0" width="39.5" height="4.600" fill="#F2C27E" stroke="#222" stroke-width="0.6"/>
<path d="M550.400 675.3H553.600" stroke="#222" stroke-width="0.6"/>
<text x="549.2" y="677.2" font-size="5.4" text-anchor="end" fill="#111">ESTROGEN RESPONSE EARLY</text>
<rect x="630.6" y="681.7" width="38.5" height="4.600" fill="#F2C27E" stroke="#222" stroke-width="0.6"/>
<path d="M550.400 684.0H553.600" stroke="#222" stroke-width="0.6"/>
<text x="549.2" y="685.9" font-size="5.4" text-anchor="end" fill="#111">TGF BETA SIGNALING</text>
<rect x="630.6" y="690.4" width="37.7" height="4.600" fill="#F2C27E" stroke="#222" stroke-width="0.6"/>
<path d="M550.400 692.7H553.600" stroke="#222" stroke-width="0.6"/>
<text x="549.2" y="694.6" font-size="5.4" text-anchor="end" fill="#111">INFLAMMATORY RESPONSE</text>
<rect x="630.6" y="699.1" width="37.7" height="4.600" fill="#F2C27E" stroke="#222" stroke-width="0.6"/>
<path d="M550.400 701.4H553.600" stroke="#222" stroke-width="0.6"/>
<text x="549.2" y="703.3" font-size="5.4" text-anchor="end" fill="#111">TNFA SIGNALING VIA NFKB</text>
<rect x="630.6" y="707.8" width="36.9" height="4.600" fill="#F2C27E" stroke="#222" stroke-width="0.6"/>
<path d="M550.400 710.1H553.600" stroke="#222" stroke-width="0.6"/>
<text x="549.2" y="712.0" font-size="5.4" text-anchor="end" fill="#111">INTERFERON GAMMA RESPONSE</text>
<rect x="630.6" y="716.5" width="35.7" height="4.600" fill="#F2C27E" stroke="#222" stroke-width="0.6"/>
<path d="M550.400 718.8H553.600" stroke="#222" stroke-width="0.6"/>
<text x="549.2" y="720.7" font-size="5.4" text-anchor="end" fill="#111">IL2 STAT5 SIGNALING</text>
<rect x="599.1" y="725.2" width="31.5" height="4.600" fill="#9CC3EA" stroke="#222" stroke-width="0.6"/>
<path d="M550.400 727.5H553.600" stroke="#222" stroke-width="0.6"/>
<text x="549.2" y="729.4" font-size="5.4" text-anchor="end" fill="#111">UNFOLDED PROTEIN RESPONSE</text>
<rect x="599.1" y="733.9" width="31.5" height="4.600" fill="#9CC3EA" stroke="#222" stroke-width="0.6"/>
<path d="M550.400 736.2H553.600" stroke="#222" stroke-width="0.6"/>
<text x="549.2" y="738.1" font-size="5.4" text-anchor="end" fill="#111">KRAS SIGNALING DN</text>
<rect x="594.9" y="742.6" width="35.7" height="4.600" fill="#9CC3EA" stroke="#222" stroke-width="0.6"/>
<path d="M550.400 744.9H553.600" stroke="#222" stroke-width="0.6"/>
<text x="549.2" y="746.8" font-size="5.4" text-anchor="end" fill="#111">EPITHELIAL MESENCHYMAL TRANSITION</text>
<rect x="594.9" y="751.3" width="35.7" height="4.600" fill="#9CC3EA" stroke="#222" stroke-width="0.6"/>
<path d="M550.400 753.6H553.600" stroke="#222" stroke-width="0.6"/>
<text x="549.2" y="755.5" font-size="5.4" text-anchor="end" fill="#111">MITOTIC_SPINDLE</text>
<rect x="593.9" y="760.0" width="36.7" height="4.600" fill="#9CC3EA" stroke="#222" stroke-width="0.6"/>
<path d="M550.400 762.3H553.600" stroke="#222" stroke-width="0.6"/>
<text x="549.2" y="764.2" font-size="5.4" text-anchor="end" fill="#111">MYC TARGETS V2</text>
<rect x="593.2" y="768.7" width="37.4" height="4.600" fill="#9CC3EA" stroke="#222" stroke-width="0.6"/>
<path d="M550.400 771.0H553.600" stroke="#222" stroke-width="0.6"/>
<text x="549.2" y="772.9" font-size="5.4" text-anchor="end" fill="#111">HEDGEHOG SIGNALING</text>
<rect x="591.1" y="777.4" width="39.5" height="4.600" fill="#9CC3EA" stroke="#222" stroke-width="0.6"/>
<path d="M550.400 779.7H553.600" stroke="#222" stroke-width="0.6"/>
<text x="549.2" y="781.6" font-size="5.4" text-anchor="end" fill="#111">SPERMATOGENESIS</text>
<rect x="582.9" y="786.1" width="47.7" height="4.600" fill="#9CC3EA" stroke="#222" stroke-width="0.6"/>
<path d="M550.400 788.4H553.600" stroke="#222" stroke-width="0.6"/>
<text x="549.2" y="790.3" font-size="5.4" text-anchor="end" fill="#111">MYC TARGETS V1</text>
<rect x="575.2" y="794.8" width="55.4" height="4.600" fill="#9CC3EA" stroke="#222" stroke-width="0.6"/>
<path d="M550.400 797.1H553.600" stroke="#222" stroke-width="0.6"/>
<text x="549.2" y="799.0" font-size="5.4" text-anchor="end" fill="#111">E2F TARGETS</text>
<rect x="574.9" y="803.5" width="55.7" height="4.600" fill="#9CC3EA" stroke="#222" stroke-width="0.6"/>
<path d="M550.400 805.8H553.600" stroke="#222" stroke-width="0.6"/>
<text x="549.2" y="807.7" font-size="5.4" text-anchor="end" fill="#111">G2M CHECKPOINT</text>
<path d="M553.600 635.400V811.700H682M630.600 635.400V811.700" fill="none" stroke="#111" stroke-width="0.8"/>
<path d="M553.7 811.700V814.500" stroke="#111" stroke-width="0.8"/>
<text x="553.7" y="820.8" font-size="5.8" text-anchor="middle" fill="#111">-3</text>
<path d="M579.3 811.700V814.500" stroke="#111" stroke-width="0.8"/>
<text x="579.3" y="820.8" font-size="5.8" text-anchor="middle" fill="#111">-2</text>
<path d="M605.0 811.700V814.500" stroke="#111" stroke-width="0.8"/>
<text x="605.0" y="820.8" font-size="5.8" text-anchor="middle" fill="#111">-1</text>
<path d="M630.6 811.700V814.500" stroke="#111" stroke-width="0.8"/>
<text x="630.6" y="820.8" font-size="5.8" text-anchor="middle" fill="#111">0</text>
<path d="M656.2 811.700V814.500" stroke="#111" stroke-width="0.8"/>
<text x="656.2" y="820.8" font-size="5.8" text-anchor="middle" fill="#111">1</text>
<path d="M681.9 811.700V814.500" stroke="#111" stroke-width="0.8"/>
<text x="681.9" y="820.8" font-size="5.8" text-anchor="middle" fill="#111">2</text>
<text x="617.8" y="830" font-size="6.95" text-anchor="middle" fill="#111">Normalised Enrichment Score</text>
</g>
</svg></body></html>
